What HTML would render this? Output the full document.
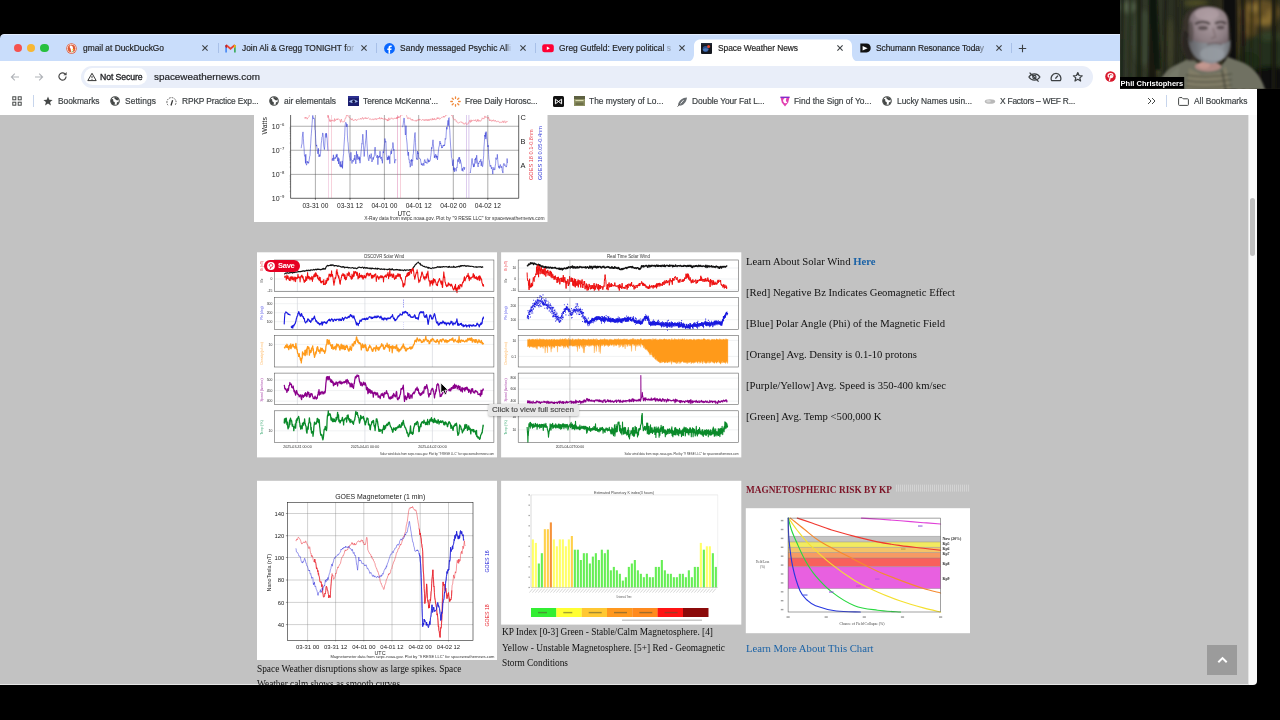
<!DOCTYPE html>
<html><head><meta charset="utf-8"><title>Space Weather News</title>
<style>
html,body{margin:0;padding:0;background:#000;}
body{width:1280px;height:720px;overflow:hidden;position:relative;font-family:"Liberation Sans",sans-serif;}
.a{position:absolute;display:block}
.t{position:absolute;white-space:nowrap;display:block;will-change:transform}
svg{overflow:visible;will-change:transform}
svg text{font-family:"Liberation Sans",sans-serif}
.s{font-family:"Liberation Serif",serif}
</style></head>
<body>
<div class="a" id="win" style="left:0;top:34px;width:1257px;height:651px;overflow:hidden;border-radius:4px 0 4px 0">
<div class="a" style="left:0;top:-34px;width:1257px;height:720px">
<div class="a" style="left:0;top:114.5px;width:1248px;height:571px;background:#c2c2c2"></div>
<div class="a" style="left:1248px;top:114.5px;width:9px;height:571px;background:#fafafa;border-left:0.5px solid #e4e4e4;box-sizing:border-box"></div>
<div class="a" style="left:1249.7px;top:197.5px;width:5.6px;height:58px;border-radius:2.8px;background:#c1c1c1"></div>
<div class="a" style="left:0;top:684.3px;width:1248px;height:0.7px;background:#e6e6e6"></div>
<svg class="a" style="left:0;top:0" width="1257" height="720" viewBox="0 0 1257 720">
<defs><clipPath id="pc"><rect x="0" y="114.5" width="1248" height="571"></rect></clipPath></defs><g clip-path="url(#pc)">
<rect x="254" y="100" width="293.5" height="122" fill="#fff"></rect>
<line x1="290.6" x2="518.7" y1="126.25" y2="126.25" stroke="#4a4a4a" stroke-width="0.45"></line>
<line x1="290.6" x2="518.7" y1="150.25" y2="150.25" stroke="#4a4a4a" stroke-width="0.45"></line>
<line x1="290.6" x2="518.7" y1="174.4" y2="174.4" stroke="#4a4a4a" stroke-width="0.45"></line>
<line x1="315.4" x2="315.4" y1="100" y2="199.5" stroke="#4a4a4a" stroke-width="0.45"></line>
<line x1="350" x2="350" y1="100" y2="199.5" stroke="#4a4a4a" stroke-width="0.45"></line>
<line x1="384.4" x2="384.4" y1="100" y2="199.5" stroke="#4a4a4a" stroke-width="0.45"></line>
<line x1="418.7" x2="418.7" y1="100" y2="199.5" stroke="#4a4a4a" stroke-width="0.45"></line>
<line x1="453.3" x2="453.3" y1="100" y2="199.5" stroke="#4a4a4a" stroke-width="0.45"></line>
<line x1="487.8" x2="487.8" y1="100" y2="199.5" stroke="#4a4a4a" stroke-width="0.45"></line>
<path d="M290.6 100V198.3H518.7V100" fill="none" stroke="#222" stroke-width="0.7"></path>
<line x1="289.6" x2="290.6" y1="143.1" y2="143.1" stroke="#333" stroke-width="0.3"></line>
<line x1="289.6" x2="290.6" y1="138.8" y2="138.8" stroke="#333" stroke-width="0.3"></line>
<line x1="289.6" x2="290.6" y1="135.8" y2="135.8" stroke="#333" stroke-width="0.3"></line>
<line x1="289.6" x2="290.6" y1="133.5" y2="133.5" stroke="#333" stroke-width="0.3"></line>
<line x1="289.6" x2="290.6" y1="131.6" y2="131.6" stroke="#333" stroke-width="0.3"></line>
<line x1="289.6" x2="290.6" y1="130.0" y2="130.0" stroke="#333" stroke-width="0.3"></line>
<line x1="289.6" x2="290.6" y1="128.6" y2="128.6" stroke="#333" stroke-width="0.3"></line>
<line x1="289.6" x2="290.6" y1="127.4" y2="127.4" stroke="#333" stroke-width="0.3"></line>
<line x1="289.6" x2="290.6" y1="167.1" y2="167.1" stroke="#333" stroke-width="0.3"></line>
<line x1="289.6" x2="290.6" y1="162.8" y2="162.8" stroke="#333" stroke-width="0.3"></line>
<line x1="289.6" x2="290.6" y1="159.8" y2="159.8" stroke="#333" stroke-width="0.3"></line>
<line x1="289.6" x2="290.6" y1="157.5" y2="157.5" stroke="#333" stroke-width="0.3"></line>
<line x1="289.6" x2="290.6" y1="155.6" y2="155.6" stroke="#333" stroke-width="0.3"></line>
<line x1="289.6" x2="290.6" y1="154.0" y2="154.0" stroke="#333" stroke-width="0.3"></line>
<line x1="289.6" x2="290.6" y1="152.6" y2="152.6" stroke="#333" stroke-width="0.3"></line>
<line x1="289.6" x2="290.6" y1="151.4" y2="151.4" stroke="#333" stroke-width="0.3"></line>
<line x1="289.6" x2="290.6" y1="191.2" y2="191.2" stroke="#333" stroke-width="0.3"></line>
<line x1="289.6" x2="290.6" y1="187.0" y2="187.0" stroke="#333" stroke-width="0.3"></line>
<line x1="289.6" x2="290.6" y1="184.0" y2="184.0" stroke="#333" stroke-width="0.3"></line>
<line x1="289.6" x2="290.6" y1="181.6" y2="181.6" stroke="#333" stroke-width="0.3"></line>
<line x1="289.6" x2="290.6" y1="179.7" y2="179.7" stroke="#333" stroke-width="0.3"></line>
<line x1="289.6" x2="290.6" y1="178.1" y2="178.1" stroke="#333" stroke-width="0.3"></line>
<line x1="289.6" x2="290.6" y1="176.7" y2="176.7" stroke="#333" stroke-width="0.3"></line>
<line x1="289.6" x2="290.6" y1="175.5" y2="175.5" stroke="#333" stroke-width="0.3"></line>
<line x1="328.2" x2="328.2" y1="112" y2="198" stroke="#d04890" stroke-width="0.4" opacity="0.85"></line>
<line x1="331.3" x2="331.3" y1="112" y2="198" stroke="#e05878" stroke-width="0.4" opacity="0.85"></line>
<line x1="397.5" x2="397.5" y1="112" y2="198" stroke="#d04890" stroke-width="0.4" opacity="0.85"></line>
<line x1="400.7" x2="400.7" y1="112" y2="198" stroke="#e05878" stroke-width="0.4" opacity="0.85"></line>
<line x1="466.4" x2="466.4" y1="112" y2="198" stroke="#9058c8" stroke-width="0.4" opacity="0.85"></line>
<line x1="468.9" x2="468.9" y1="112" y2="198" stroke="#9058c8" stroke-width="0.4" opacity="0.85"></line>
<polyline points="304.5,117.6 304.9,118.4 305.4,117.0 305.8,118.4 306.3,117.6 306.7,117.6 307.2,119.2 307.6,118.1 308.1,117.8 308.5,117.4 309.0,116.8 309.4,115.1 309.9,114.6 310.3,112.6 310.8,112.1 311.2,111.6 311.7,110.8 312.1,110.5 312.6,110.2 313.0,111.0 313.5,110.9 313.9,110.6 314.4,110.7 314.8,109.5 315.3,110.2 315.7,110.3 316.2,110.7 316.6,109.9 317.1,110.5 317.5,109.8 318.0,111.1 318.4,110.3 318.9,111.2 319.3,113.3 319.8,111.3 320.2,113.5 320.7,113.1 321.1,112.6 321.6,113.1 322.0,113.0 322.5,113.3 322.9,112.3 323.4,112.0 323.8,111.9 324.3,111.6 324.7,112.2 325.2,111.6 325.6,112.8 326.1,110.9 326.5,112.5 327.0,113.6 327.4,113.8 327.9,117.6 328.3,115.6 328.8,118.1 329.2,118.9 329.7,121.5 330.1,119.6 330.6,121.7 331.0,120.4 331.5,120.7 331.9,120.3 332.4,121.1 332.8,119.8 333.3,120.5 333.7,120.8 334.2,121.7 334.6,118.5 335.1,121.0 335.5,120.4 336.0,119.2 336.4,119.5 336.9,118.7 337.3,120.0 337.8,118.7 338.2,118.6 338.7,119.0 339.1,119.5 339.6,120.0 340.0,119.9 340.5,122.4 340.9,120.1 341.4,119.0 341.8,121.6 342.3,121.6 342.7,122.1 343.2,121.7 343.6,121.8 344.1,122.0 344.5,121.2 345.0,119.0 345.4,117.9 345.9,118.3 346.3,116.1 346.8,113.8 347.2,116.0 347.7,115.7 348.1,115.5 348.6,115.8 349.0,117.6 349.5,117.6 349.9,118.2 350.4,118.2 350.8,118.9 351.3,120.1 351.7,119.1 352.2,118.5 352.6,120.1 353.1,119.8 353.5,120.5 354.0,120.8 354.4,119.8 354.9,119.8 355.3,119.9 355.8,119.1 356.2,120.3 356.7,120.7 357.1,119.9 357.6,119.5 358.0,119.5 358.5,119.1 358.9,119.0 359.4,119.3 359.8,118.9 360.3,119.1 360.7,118.2 361.2,119.4 361.6,119.1 362.1,118.2 362.5,117.3 363.0,118.7 363.4,119.4 363.9,118.0 364.3,118.1 364.8,117.9 365.2,118.6 365.7,117.4 366.1,118.7 366.6,117.9 367.0,118.9 367.5,118.4 367.9,118.3 368.4,117.6 368.8,118.2 369.3,118.6 369.7,119.4 370.2,119.2 370.6,118.7 371.1,119.6 371.5,120.1 372.0,119.4 372.4,119.1 372.9,119.1 373.3,119.9 373.8,119.7 374.2,118.6 374.7,119.4 375.1,118.8 375.6,118.5 376.0,119.9 376.5,119.5 376.9,118.4 377.4,118.9 377.8,119.1 378.3,118.3 378.7,118.6 379.2,119.1 379.6,117.3 380.1,118.7 380.5,119.1 381.0,119.0 381.4,117.7 381.9,119.0 382.3,118.2 382.8,119.2 383.2,119.3 383.7,119.1 384.1,118.5 384.6,118.7 385.0,119.7 385.5,118.6 385.9,119.6 386.4,119.7 386.8,119.2 387.3,121.1 387.7,119.5 388.2,121.0 388.6,118.0 389.1,117.8 389.5,120.0 390.0,119.7 390.4,118.9 390.9,119.0 391.3,117.7 391.8,118.5 392.2,118.2 392.7,118.7 393.1,119.4 393.6,118.7 394.0,118.9 394.5,118.1 394.9,118.2 395.4,118.4 395.8,117.9 396.3,118.8 396.7,117.2 397.2,118.9 397.6,116.7 398.1,118.0 398.5,116.5 399.0,118.0 399.4,116.7 399.9,116.7 400.3,116.8 400.8,115.6 401.2,114.9 401.7,113.6 402.1,115.3 402.6,113.4 403.0,112.9 403.5,112.6 403.9,113.5 404.4,111.4 404.8,113.4 405.3,113.7 405.7,115.0 406.2,114.0 406.6,115.7 407.1,117.2 407.5,118.4 408.0,119.1 408.4,117.6 408.9,118.4 409.3,118.5 409.8,117.8 410.2,117.9 410.7,119.7 411.1,119.5 411.6,119.4 412.0,120.5 412.5,119.2 412.9,120.4 413.4,120.3 413.8,120.4 414.3,120.8 414.7,120.5 415.2,120.5 415.6,120.4 416.1,121.5 416.5,119.9 417.0,120.7 417.4,120.4 417.9,119.6 418.3,120.3 418.8,119.1 419.2,120.4 419.7,119.0 420.1,119.2 420.6,119.8 421.0,120.2 421.5,120.3 421.9,120.4 422.4,119.7 422.8,119.2 423.3,120.3 423.7,120.2 424.2,119.4 424.6,120.8 425.1,120.3 425.5,119.5 426.0,120.6 426.4,119.4 426.9,119.7 427.3,120.7 427.8,119.4 428.2,120.5 428.7,119.4 429.1,120.7 429.6,119.6 430.0,120.1 430.5,118.8 430.9,119.5 431.4,120.3 431.8,119.9 432.3,118.1 432.7,120.0 433.2,119.8 433.6,118.8 434.1,120.0 434.5,118.2 435.0,118.9 435.4,119.7 435.9,119.8 436.3,119.7 436.8,118.0 437.2,117.5 437.7,119.0 438.1,117.7 438.6,118.5 439.0,117.7 439.5,119.3 439.9,119.1 440.4,118.7 440.8,118.0 441.3,117.8 441.7,117.3 442.2,117.5 442.6,117.1 443.1,117.0 443.5,116.1 444.0,117.5 444.4,116.1 444.9,116.6 445.3,116.3 445.8,114.5 446.2,113.6 446.7,115.4 447.1,113.9 447.6,113.9 448.0,113.3 448.5,113.2 448.9,112.0 449.4,112.4 449.8,111.8 450.3,112.6 450.7,111.9 451.2,115.0 451.6,115.5 452.1,115.0 452.5,116.6 453.0,118.0 453.4,118.8 453.9,118.8 454.3,120.2 454.8,119.6 455.2,119.3 455.7,120.0 456.1,121.4 456.6,120.8 457.0,122.2 457.5,122.8 457.9,122.9 458.4,123.3 458.8,122.5 459.3,122.6 459.7,122.3 460.2,122.3 460.6,121.7 461.1,122.4 461.5,122.1 462.0,121.9 462.4,123.0 462.9,123.3 463.3,122.8 463.8,124.2 464.2,124.0 464.7,124.2 465.1,123.1 465.6,122.6 466.0,124.2 466.5,124.1 466.9,124.5 467.4,124.0 467.8,124.2 468.3,122.8 468.7,123.2 469.2,121.7 469.6,120.4 470.1,121.4 470.5,122.4 471.0,119.8 471.4,121.6 471.9,120.3 472.3,120.5 472.8,120.7 473.2,120.7 473.7,119.8 474.1,120.5 474.6,120.6 475.0,120.8 475.5,119.6 475.9,121.1 476.4,121.5 476.8,122.0 477.3,119.5 477.7,120.8 478.2,119.5 478.6,121.3 479.1,121.6 479.5,120.5 480.0,120.4 480.4,121.2 480.9,121.2 481.3,119.8 481.8,119.7 482.2,117.8 482.7,118.6 483.1,118.8 483.6,118.5 484.0,119.1 484.5,117.0 484.9,115.9 485.4,117.6 485.8,116.7 486.3,117.1 486.7,117.1 487.2,117.2 487.6,118.3 488.1,118.7 488.5,117.1 489.0,118.8 489.4,120.8 489.9,119.6 490.3,120.7 490.8,120.1 491.2,119.9 491.7,121.4 492.1,121.1 492.6,120.3 493.0,121.1 493.5,119.7 493.9,120.2 494.4,121.4 494.8,120.8 495.3,120.1 495.7,121.3 496.2,121.3 496.6,122.0 497.1,121.9 497.5,121.1 498.0,121.0 498.4,121.3 498.9,121.3 499.3,122.6 499.8,122.7 500.2,122.7 500.7,122.0 501.1,121.7 501.6,122.6 502.0,121.8 502.5,122.1 502.9,120.8 503.4,121.6 503.8,122.9 504.3,121.1 504.7,120.7 505.2,121.6 505.6,122.9 506.1,122.7 506.5,121.4 507.0,121.2 507.4,121.5 507.9,120.9" fill="none" stroke="#f06070" stroke-width="0.5" stroke-opacity="0.9" stroke-linejoin="round"></polyline>
<polyline points="301.2,148.2 301.6,145.0 302.0,144.0 302.3,137.2 302.7,133.8 303.0,131.9 303.4,138.7 303.7,144.1 304.1,148.3 304.4,155.2 304.8,156.3 305.1,155.5 305.5,163.3 305.8,154.2 306.2,163.6 306.5,165.2 306.9,163.9 307.2,161.0 307.6,162.8 307.9,162.7 308.3,161.9 308.6,163.4 309.0,161.0 309.3,159.2 309.7,156.3 310.0,155.5 310.4,148.4 310.7,143.9 311.1,136.5 311.4,133.3 311.8,127.5 312.1,123.6 312.5,117.9 312.8,115.4 313.2,118.8 313.5,118.6 313.9,117.8 314.2,118.1 314.6,119.8 314.9,129.4 315.3,130.6 315.6,137.5 316.0,144.2 316.3,146.2 316.7,144.9 317.0,148.5 317.4,150.9 317.7,153.6 318.1,153.9 318.4,148.3 318.8,156.0 319.1,157.0 319.5,154.6 319.8,156.2 320.2,156.3 320.5,153.2 320.9,148.9 321.2,143.9 321.6,140.7 321.9,137.3 322.3,136.6 322.6,133.1 323.0,133.1 323.3,139.1 323.7,145.8 324.0,147.4 324.4,149.6 324.7,146.7 325.1,138.7 325.4,134.0 325.8,133.3 326.1,137.5 326.5,133.3 326.8,136.1 327.2,139.4 327.5,145.2 327.9,150.7" fill="none" stroke="#2028d0" stroke-width="0.48" stroke-opacity="1" stroke-linejoin="round"></polyline>
<polyline points="332.0,158.9 332.4,160.7 332.7,158.2 333.1,159.3 333.4,154.8 333.8,160.9 334.1,158.2 334.5,158.6 334.8,157.8 335.2,156.8 335.5,158.7 335.9,158.3 336.2,154.7 336.6,157.1 336.9,153.9 337.3,154.8 337.6,161.2 338.0,157.8 338.3,157.5 338.7,164.0 339.0,158.5 339.4,163.7 339.7,165.1 340.1,166.5 340.4,161.5 340.8,167.2 341.1,164.5 341.5,166.0 341.8,167.2 342.2,160.9 342.5,168.4 342.9,161.3 343.2,157.0 343.6,153.5 343.9,147.3 344.3,141.0 344.6,136.8 345.0,127.7 345.3,124.0 345.7,122.3 346.0,122.9 346.4,123.2 346.7,126.8 347.1,124.1 347.4,135.1 347.8,141.5 348.1,142.9 348.5,149.1 348.8,152.7 349.2,153.9 349.5,157.1 349.9,157.8 350.2,160.7 350.6,160.1 350.9,152.3 351.3,158.6 351.6,160.0 352.0,163.5 352.3,161.1 352.7,160.2 353.0,161.5 353.4,161.4 353.7,159.4 354.1,158.3 354.4,160.2 354.8,155.0 355.1,157.4 355.5,160.1 355.8,163.9 356.2,158.3 356.5,151.3 356.9,158.4 357.2,159.7 357.6,154.3 357.9,157.3 358.3,158.2 358.6,159.2 359.0,156.4 359.3,160.4 359.7,157.4 360.0,163.2 360.4,157.4 360.7,156.8 361.1,151.3 361.4,148.6 361.8,143.6 362.1,144.1 362.5,138.3 362.8,134.2 363.2,138.9 363.5,145.4 363.9,151.5 364.2,156.5 364.6,151.6 364.9,148.3 365.3,144.7 365.6,140.8 366.0,137.5 366.3,130.1 366.7,138.1 367.0,143.8 367.4,150.4 367.7,155.7 368.1,157.5 368.4,159.4 368.8,160.8 369.1,159.0 369.5,154.8 369.8,156.1 370.2,158.5 370.5,157.5 370.9,156.9 371.2,153.6 371.6,159.4 371.9,162.0 372.3,161.1 372.6,159.6 373.0,157.4 373.3,159.6 373.7,157.1 374.0,157.3 374.4,154.9 374.7,150.4 375.1,147.1 375.4,151.1 375.8,155.0 376.1,156.0 376.5,156.3 376.8,157.8 377.2,157.0 377.5,155.1 377.9,164.7 378.2,157.9 378.6,156.4 378.9,157.9 379.3,155.8 379.6,156.8 380.0,151.2 380.3,154.5 380.7,158.7 381.0,157.9 381.4,156.9 381.7,160.3 382.1,159.7 382.4,163.3 382.8,156.7 383.1,151.4 383.5,153.1 383.8,150.1 384.2,147.4 384.5,143.4 384.9,138.5 385.2,139.9 385.6,142.3 385.9,141.4 386.3,154.4 386.6,155.3 387.0,159.6 387.3,160.1 387.7,157.1 388.0,159.9 388.4,155.7 388.7,159.4 389.1,158.5 389.4,156.4 389.8,163.7 390.1,155.5 390.5,154.8 390.8,151.3 391.2,150.8 391.5,153.9 391.9,149.2 392.2,148.5 392.6,147.2 392.9,142.5 393.3,145.4 393.6,150.4 394.0,149.3 394.3,158.1 394.7,163.2 395.0,161.2 395.4,160.4 395.7,159.3 396.1,160.2" fill="none" stroke="#2028d0" stroke-width="0.48" stroke-opacity="1" stroke-linejoin="round"></polyline>
<polyline points="402.5,127.2 402.9,125.6 403.2,124.4 403.6,120.3 403.9,118.0 404.3,118.3 404.6,123.4 405.0,127.5 405.3,135.0 405.7,134.1 406.0,125.7 406.4,137.5 406.7,140.0 407.1,144.0 407.4,149.6 407.8,154.2 408.1,155.7 408.5,152.0 408.8,159.4 409.2,159.2 409.5,163.0 409.9,163.2 410.2,167.2 410.6,165.4 410.9,160.1 411.3,161.4 411.6,159.2 412.0,165.8 412.3,160.4 412.7,161.1 413.0,155.1 413.4,153.4 413.7,148.3 414.1,143.2 414.4,138.4 414.8,133.7 415.1,132.5 415.5,142.4 415.8,150.0 416.2,156.1 416.5,159.1 416.9,158.3 417.2,160.0 417.6,151.0 417.9,154.0 418.3,152.6 418.6,157.4 419.0,158.6 419.3,158.4 419.7,158.4 420.0,158.6 420.4,158.9 420.7,161.2 421.1,163.1 421.4,165.1 421.8,163.4 422.1,163.9 422.5,165.5 422.8,164.3 423.2,163.1 423.5,163.5 423.9,165.7 424.2,161.7 424.6,159.7 424.9,159.5 425.3,162.9 425.6,161.8 426.0,161.9 426.3,162.4 426.7,162.5 427.0,163.6 427.4,158.8 427.7,158.5 428.1,158.9 428.4,162.3 428.8,160.0 429.1,161.4 429.5,161.9 429.8,160.3 430.2,160.4 430.5,157.6 430.9,155.3 431.2,152.7 431.6,147.4 431.9,148.7 432.3,146.5 432.6,143.2 433.0,139.8 433.3,143.9 433.7,147.9 434.0,152.5 434.4,158.0 434.7,155.7 435.1,156.8 435.4,154.5 435.8,154.1 436.1,158.4 436.5,155.6 436.8,157.2 437.2,156.1 437.5,159.9 437.9,156.3 438.2,153.4 438.6,149.1 438.9,147.0 439.3,146.0 439.6,143.2 440.0,141.0 440.3,143.9 440.7,142.9 441.0,145.5 441.4,145.1 441.7,148.1 442.1,146.7 442.4,147.7 442.8,147.0 443.1,145.1 443.5,146.1 443.8,145.0 444.2,144.7 444.5,145.9 444.9,143.5 445.2,138.4 445.6,139.4 445.9,138.5 446.3,131.9 446.6,127.2 447.0,129.3 447.3,126.3 447.7,122.7 448.0,120.3 448.4,125.7 448.7,118.2 449.1,117.6 449.4,125.8 449.8,130.5 450.1,137.2 450.5,144.0 450.8,148.7 451.2,151.3 451.5,157.5 451.9,158.2 452.2,160.7 452.6,165.8 452.9,161.2 453.3,159.6 453.6,170.3 454.0,167.4 454.3,171.9 454.7,168.5 455.0,169.2 455.4,168.5 455.7,168.8 456.1,171.3 456.4,169.6 456.8,167.0 457.1,167.5 457.5,163.3 457.8,159.4 458.2,161.9 458.5,159.6 458.9,157.3 459.2,159.6 459.6,157.3 459.9,163.6 460.3,159.6 460.6,161.1 461.0,162.8 461.3,163.9 461.7,167.6 462.0,170.7 462.4,168.4 462.7,170.8 463.1,171.4 463.4,167.4 463.8,167.2 464.1,167.2 464.5,169.6 464.8,167.1" fill="none" stroke="#2028d0" stroke-width="0.48" stroke-opacity="1" stroke-linejoin="round"></polyline>
<polyline points="470.0,172.3 470.4,172.9 470.7,169.6 471.1,167.5 471.4,163.9 471.8,160.0 472.1,158.4 472.5,162.2 472.8,164.5 473.2,165.0 473.5,167.1 473.9,163.6 474.2,166.8 474.6,163.4 474.9,159.0 475.3,159.7 475.6,157.8 476.0,163.5 476.3,159.7 476.7,155.2 477.0,159.1 477.4,160.9 477.7,164.3 478.1,167.0 478.4,163.2 478.8,164.0 479.1,161.9 479.5,161.9 479.8,160.9 480.2,161.8 480.5,160.2 480.9,159.2 481.2,165.9 481.6,162.5 481.9,161.4 482.3,166.6 482.6,166.8 483.0,164.2 483.3,159.8 483.7,155.3 484.0,147.0 484.4,141.9 484.7,135.0 485.1,136.7 485.4,132.6 485.8,139.1 486.1,131.6 486.5,133.2 486.8,136.8 487.2,140.1 487.5,142.7 487.9,147.0 488.2,145.2 488.6,154.4 488.9,159.1 489.3,160.4 489.6,162.9 490.0,166.5 490.3,166.6 490.7,165.1 491.0,165.7 491.4,168.8 491.7,167.5 492.1,167.1 492.4,170.5 492.8,174.1 493.1,169.2 493.5,169.7 493.8,167.4 494.2,168.6 494.5,169.8 494.9,169.9 495.2,166.2 495.6,163.8 495.9,157.7 496.3,159.3 496.6,159.4 497.0,158.9 497.3,154.3 497.7,159.3 498.0,162.8 498.4,166.1 498.7,167.6 499.1,166.0 499.4,168.5 499.8,166.8 500.1,164.6 500.5,164.7 500.8,166.9 501.2,167.9 501.5,166.2 501.9,166.6 502.2,170.9 502.6,171.1 502.9,173.1 503.3,164.9 503.6,163.9 504.0,163.3 504.3,165.4 504.7,165.4 505.0,164.6 505.4,165.9 505.7,166.6 506.1,166.4 506.4,167.1 506.8,164.9 507.1,158.5 507.5,163.1" fill="none" stroke="#2028d0" stroke-width="0.48" stroke-opacity="1" stroke-linejoin="round"></polyline>
<text x="271.8" y="128.5" font-size="7.0" fill="#222" text-anchor="start" font-weight="400" fill-opacity="1">10<tspan dy="-2.6" font-size="4.2">−6</tspan></text>
<text x="271.8" y="152.5" font-size="7.0" fill="#222" text-anchor="start" font-weight="400" fill-opacity="1">10<tspan dy="-2.6" font-size="4.2">−7</tspan></text>
<text x="271.8" y="176.7" font-size="7.0" fill="#222" text-anchor="start" font-weight="400" fill-opacity="1">10<tspan dy="-2.6" font-size="4.2">−8</tspan></text>
<text x="271.8" y="200.6" font-size="7.0" fill="#222" text-anchor="start" font-weight="400" fill-opacity="1">10<tspan dy="-2.6" font-size="4.2">−9</tspan></text>
<text x="266.5" y="134.5" font-size="6.9" fill="#222" text-anchor="start" font-weight="400" fill-opacity="1" transform="rotate(-90 266.5 134.5)">Watts</text>
<text x="315.4" y="208.3" font-size="6.6" fill="#222" text-anchor="middle" font-weight="400" fill-opacity="1">03-31 00</text>
<line x1="315.4" x2="315.4" y1="198.3" y2="199.8" stroke="#222" stroke-width="0.5"></line>
<text x="350" y="208.3" font-size="6.6" fill="#222" text-anchor="middle" font-weight="400" fill-opacity="1">03-31 12</text>
<line x1="350" x2="350" y1="198.3" y2="199.8" stroke="#222" stroke-width="0.5"></line>
<text x="384.4" y="208.3" font-size="6.6" fill="#222" text-anchor="middle" font-weight="400" fill-opacity="1">04-01 00</text>
<line x1="384.4" x2="384.4" y1="198.3" y2="199.8" stroke="#222" stroke-width="0.5"></line>
<text x="418.7" y="208.3" font-size="6.6" fill="#222" text-anchor="middle" font-weight="400" fill-opacity="1">04-01 12</text>
<line x1="418.7" x2="418.7" y1="198.3" y2="199.8" stroke="#222" stroke-width="0.5"></line>
<text x="453.3" y="208.3" font-size="6.6" fill="#222" text-anchor="middle" font-weight="400" fill-opacity="1">04-02 00</text>
<line x1="453.3" x2="453.3" y1="198.3" y2="199.8" stroke="#222" stroke-width="0.5"></line>
<text x="487.8" y="208.3" font-size="6.6" fill="#222" text-anchor="middle" font-weight="400" fill-opacity="1">04-02 12</text>
<line x1="487.8" x2="487.8" y1="198.3" y2="199.8" stroke="#222" stroke-width="0.5"></line>
<text x="404" y="216" font-size="6.4" fill="#222" text-anchor="middle" font-weight="400" fill-opacity="1">UTC</text>
<text x="544.5" y="219.5" font-size="4.9" fill="#333" text-anchor="end" font-weight="400" fill-opacity="1">X-Ray data from swpc.noaa.gov. Plot by "9 RESE LLC" for spaceweathernews.com</text>
<text x="520.5" y="119.5" font-size="7.4" fill="#222" text-anchor="start" font-weight="400" fill-opacity="1">C</text>
<text x="520.5" y="143.8" font-size="7.4" fill="#222" text-anchor="start" font-weight="400" fill-opacity="1">B</text>
<text x="520.5" y="167.8" font-size="7.4" fill="#222" text-anchor="start" font-weight="400" fill-opacity="1">A</text>
<text x="533" y="180" font-size="5.6" fill="#e8404c" text-anchor="start" font-weight="400" fill-opacity="1" transform="rotate(-90 533 180)">GOES 18 0.1-0.8nm</text>
<text x="542" y="180" font-size="5.6" fill="#3038d8" text-anchor="start" font-weight="400" fill-opacity="1" transform="rotate(-90 542 180)">GOES 18 0.05-0.4nm</text>
<rect x="257" y="252.3" width="240" height="205.1" fill="#fff"></rect>
<text x="384.15" y="258.3" font-size="4.9" fill="#333" text-anchor="middle" font-weight="400" fill-opacity="1" textLength="40" lengthAdjust="spacingAndGlyphs">DSCOVR Solar Wind</text>
<line x1="297.4" x2="297.4" y1="260" y2="291.6" stroke="#b8bcc8" stroke-width="0.4"></line>
<line x1="364.9" x2="364.9" y1="260" y2="291.6" stroke="#b8bcc8" stroke-width="0.4"></line>
<line x1="432.4" x2="432.4" y1="260" y2="291.6" stroke="#b8bcc8" stroke-width="0.4"></line>
<line x1="274.4" x2="493.9" y1="279" y2="279" stroke="#d4d6dc" stroke-width="0.35"></line>
<line x1="274.4" x2="493.9" y1="291" y2="291" stroke="#d4d6dc" stroke-width="0.35"></line>
<line x1="297.4" x2="297.4" y1="297.7" y2="329.3" stroke="#b8bcc8" stroke-width="0.4"></line>
<line x1="364.9" x2="364.9" y1="297.7" y2="329.3" stroke="#b8bcc8" stroke-width="0.4"></line>
<line x1="432.4" x2="432.4" y1="297.7" y2="329.3" stroke="#b8bcc8" stroke-width="0.4"></line>
<line x1="274.4" x2="493.9" y1="303.7" y2="303.7" stroke="#d4d6dc" stroke-width="0.35"></line>
<line x1="274.4" x2="493.9" y1="312.7" y2="312.7" stroke="#d4d6dc" stroke-width="0.35"></line>
<line x1="274.4" x2="493.9" y1="321.7" y2="321.7" stroke="#d4d6dc" stroke-width="0.35"></line>
<line x1="297.4" x2="297.4" y1="335.4" y2="367.0" stroke="#b8bcc8" stroke-width="0.4"></line>
<line x1="364.9" x2="364.9" y1="335.4" y2="367.0" stroke="#b8bcc8" stroke-width="0.4"></line>
<line x1="432.4" x2="432.4" y1="335.4" y2="367.0" stroke="#b8bcc8" stroke-width="0.4"></line>
<line x1="274.4" x2="493.9" y1="344.4" y2="344.4" stroke="#d4d6dc" stroke-width="0.35"></line>
<line x1="297.4" x2="297.4" y1="373.1" y2="404.70000000000005" stroke="#b8bcc8" stroke-width="0.4"></line>
<line x1="364.9" x2="364.9" y1="373.1" y2="404.70000000000005" stroke="#b8bcc8" stroke-width="0.4"></line>
<line x1="432.4" x2="432.4" y1="373.1" y2="404.70000000000005" stroke="#b8bcc8" stroke-width="0.4"></line>
<line x1="274.4" x2="493.9" y1="380.1" y2="380.1" stroke="#d4d6dc" stroke-width="0.35"></line>
<line x1="274.4" x2="493.9" y1="390.6" y2="390.6" stroke="#d4d6dc" stroke-width="0.35"></line>
<line x1="274.4" x2="493.9" y1="401.1" y2="401.1" stroke="#d4d6dc" stroke-width="0.35"></line>
<line x1="297.4" x2="297.4" y1="410.8" y2="442.40000000000003" stroke="#b8bcc8" stroke-width="0.4"></line>
<line x1="364.9" x2="364.9" y1="410.8" y2="442.40000000000003" stroke="#b8bcc8" stroke-width="0.4"></line>
<line x1="432.4" x2="432.4" y1="410.8" y2="442.40000000000003" stroke="#b8bcc8" stroke-width="0.4"></line>
<line x1="274.4" x2="493.9" y1="430.8" y2="430.8" stroke="#d4d6dc" stroke-width="0.35"></line>
<polyline points="284.2,273.9 284.7,273.9 285.2,273.4 285.7,273.1 286.2,273.0 286.7,273.2 287.2,272.8 287.7,272.7 288.2,273.1 288.7,273.0 289.2,273.1 289.7,272.5 290.2,272.8 290.7,272.7 291.2,272.2 291.7,272.7 292.2,272.6 292.7,273.1 293.2,272.4 293.7,272.2 294.2,272.6 294.7,272.2 295.2,272.4 295.7,271.9 296.2,272.0 296.7,272.2 297.2,272.0 297.7,271.8 298.2,271.4 298.7,271.8 299.2,271.6 299.7,271.7 300.2,271.5 300.7,271.7 301.2,271.3 301.7,271.3 302.2,271.4 302.7,270.8 303.2,270.9 303.7,270.8 304.2,271.5 304.7,270.8 305.2,271.0 305.7,270.9 306.2,270.6 306.7,270.2 307.2,270.8 307.7,270.4 308.2,270.6 308.7,270.0 309.2,270.2 309.7,270.6 310.2,270.6 310.7,269.7 311.2,269.7 311.7,270.0 312.2,270.2 312.7,269.9 313.2,269.9 313.7,269.4 314.2,269.9 314.7,270.0 315.2,269.5 315.7,269.2 316.2,269.3 316.7,269.8 317.2,269.0 317.7,269.4 318.2,269.1 318.7,269.4 319.2,269.3 319.7,269.4 320.2,269.8 320.7,269.4 321.2,269.7 321.7,269.2 322.2,269.1 322.7,269.3 323.2,268.3 323.7,269.1 324.2,269.2 324.7,268.7 325.2,269.2 325.7,268.1 326.2,266.7 326.7,266.5 327.2,265.4 327.7,265.5 328.2,265.6 328.7,265.9 329.2,265.5 329.7,265.4 330.2,265.5 330.7,264.8 331.2,265.6 331.7,264.9 332.2,265.3 332.7,264.9 333.2,265.1 333.7,265.3 334.2,266.1 334.7,265.8 335.2,265.5 335.7,265.7 336.2,265.5 336.7,265.9 337.2,265.8 337.7,266.3 338.2,265.8 338.7,266.2 339.2,266.1 339.7,266.2 340.2,266.7 340.7,266.6 341.2,266.9 341.7,267.1 342.2,267.2 342.7,266.5 343.2,267.2 343.7,266.6 344.2,267.1 344.7,267.8 345.2,267.2 345.7,267.2 346.2,267.4 346.7,267.4 347.2,267.4 347.7,267.2 348.2,267.8 348.7,267.8 349.2,267.5 349.7,267.7 350.2,267.9 350.7,268.0 351.2,267.9 351.7,268.0 352.2,267.8 352.7,267.6 353.2,267.8 353.7,268.3 354.2,268.3 354.7,268.1 355.2,267.9 355.7,268.2 356.2,268.7 356.7,268.6 357.2,268.1 357.7,268.1 358.2,267.4 358.7,267.2 359.2,267.3 359.7,267.1 360.2,267.5 360.7,267.6 361.2,267.5 361.7,267.7 362.2,267.2 362.7,267.1 363.2,267.6 363.7,268.3 364.2,267.7 364.7,267.3 365.2,267.8 365.7,268.2 366.2,267.5 366.7,268.1 367.2,267.7 367.7,268.3 368.2,268.2 368.7,268.1 369.2,268.7 369.7,268.0 370.2,268.0 370.7,268.8 371.2,268.0 371.7,269.0 372.2,268.4 372.7,268.1 373.2,268.5 373.7,268.6 374.2,268.7 374.7,268.6 375.2,269.0 375.7,268.0 376.2,268.6 376.7,268.7 377.2,269.3 377.7,268.2 378.2,268.7 378.7,268.5 379.2,268.7 379.7,269.1 380.2,269.1 380.7,269.4 381.2,268.8 381.7,269.1 382.2,269.4 382.7,269.3 383.2,269.0 383.7,269.4 384.2,268.9 384.7,269.7 385.2,269.2 385.7,269.2 386.2,269.3 386.7,269.5 387.2,269.8 387.7,269.3 388.2,269.2 388.7,269.5 389.2,269.1 389.7,268.9 390.2,269.7 390.7,269.3 391.2,269.8 391.7,269.2 392.2,268.7 392.7,269.6 393.2,269.6 393.7,270.1 394.2,269.8 394.7,269.7 395.2,269.9 395.7,269.6 396.2,269.8 396.7,269.4 397.2,269.9 397.7,269.6 398.2,269.7 398.7,270.1 399.2,270.2 399.7,269.6 400.2,270.5 400.7,269.8 401.2,270.2 401.7,270.3 402.2,270.1 402.7,270.1 403.2,270.6 403.7,270.4 404.2,270.3 404.7,269.6 405.2,270.0 405.7,270.6 406.2,270.3 406.7,269.9 407.2,269.9 407.7,270.0 408.2,270.2 408.7,270.1 409.2,270.2 409.7,269.6 410.2,270.1 410.7,269.6 411.2,269.7 411.7,270.2 412.2,269.6 412.7,268.7 413.2,267.8 413.7,266.9 414.2,266.7 414.7,265.8 415.2,264.9 415.7,264.3 416.2,264.1 416.7,263.3 417.2,263.0 417.7,262.6 418.2,262.0 418.7,262.7 419.2,263.3 419.7,263.8 420.2,263.4 420.7,265.1 421.2,265.1 421.7,265.0 422.2,265.4 422.7,266.0 423.2,266.2 423.7,266.4 424.2,266.4 424.7,266.6 425.2,267.1 425.7,267.0 426.2,266.9 426.7,267.1 427.2,267.3 427.7,267.6 428.2,268.3 428.7,267.3 429.2,267.9 429.7,267.9 430.2,268.1 430.7,268.5 431.2,268.6 431.7,268.2 432.2,268.0 432.7,267.7 433.2,268.0 433.7,268.2 434.2,267.7 434.7,267.9 435.2,267.8 435.7,267.6 436.2,267.7 436.7,267.2 437.2,266.9 437.7,266.7 438.2,267.4 438.7,266.9 439.2,266.9 439.7,267.3 440.2,266.7 440.7,267.5 441.2,267.1 441.7,266.7 442.2,266.7 442.7,267.2 443.2,266.5 443.7,266.6 444.2,266.8 444.7,266.8 445.2,266.7 445.7,266.8 446.2,266.6 446.7,266.7 447.2,267.2 447.7,267.0 448.2,266.7 448.7,267.4 449.2,266.3 449.7,266.9 450.2,267.1 450.7,267.2 451.2,267.0 451.7,266.9 452.2,267.2 452.7,267.0 453.2,267.2 453.7,266.2 454.2,267.2 454.7,266.9 455.2,267.4 455.7,267.2 456.2,267.1 456.7,266.7 457.2,266.9 457.7,266.6 458.2,266.6 458.7,266.4 459.2,266.1 459.7,266.9 460.2,266.4 460.7,265.5 461.2,266.3 461.7,265.5 462.2,265.8 462.7,265.6 463.2,265.6 463.7,265.9 464.2,265.7 464.7,265.4 465.2,265.9 465.7,266.1 466.2,266.5 466.7,265.9 467.2,265.7 467.7,266.0 468.2,266.3 468.7,265.9 469.2,266.0 469.7,266.4 470.2,266.3 470.7,266.4 471.2,266.2 471.7,266.2 472.2,266.4 472.7,266.5 473.2,266.6 473.7,266.9 474.2,267.0 474.7,267.0 475.2,267.1 475.7,266.7 476.2,266.7 476.7,267.3 477.2,267.1 477.7,267.1 478.2,266.8 478.7,267.0 479.2,266.9 479.7,266.9 480.2,266.9 480.7,266.7 481.2,267.1 481.7,267.5 482.2,266.9 482.7,267.1 483.2,266.8" fill="none" stroke="#111" stroke-width="1.15" stroke-opacity="1" stroke-linejoin="round"></polyline>
<polyline points="284.2,276.6 284.5,277.0 284.8,277.2 285.1,275.9 285.4,276.4 285.7,277.1 286.0,277.1 286.3,280.0 286.6,278.0 286.9,274.9 287.2,277.4 287.5,278.4 287.8,276.6 288.1,276.1 288.4,278.7 288.7,279.1 289.0,279.1 289.3,280.4 289.6,280.2 289.9,277.2 290.2,280.8 290.5,278.2 290.8,277.6 291.1,276.4 291.4,278.8 291.7,277.5 292.0,279.9 292.3,276.7 292.6,279.5 292.9,277.5 293.2,277.1 293.5,279.7 293.8,278.4 294.1,281.1 294.4,278.8 294.7,277.1 295.0,277.1 295.3,277.3 295.6,281.8 295.9,277.7 296.2,278.5 296.5,278.6 296.8,277.5 297.1,278.6 297.4,278.3 297.7,276.8 298.0,274.3 298.3,277.5 298.6,276.8 298.9,277.9 299.2,277.6 299.5,277.0 299.8,277.4 300.1,281.9 300.4,277.1 300.7,276.7 301.0,276.4 301.3,275.6 301.6,276.8 301.9,275.0 302.2,278.0 302.5,276.3 302.8,276.5 303.1,276.9 303.4,279.2 303.7,280.1 304.0,281.4 304.3,282.5 304.6,280.2 304.9,280.1 305.2,280.4 305.5,281.4 305.8,276.6 306.1,278.6 306.4,279.2 306.7,280.4 307.0,277.4 307.3,276.2 307.6,272.6 307.9,277.6 308.2,278.7 308.5,276.2 308.8,277.3 309.1,277.9 309.4,276.7 309.7,278.9 310.0,280.0 310.3,278.0 310.6,277.7 310.9,277.9 311.2,278.6 311.5,279.2 311.8,276.2 312.1,277.9 312.4,281.5 312.7,277.8 313.0,279.2 313.3,276.6 313.6,276.0 313.9,274.8 314.2,275.6 314.5,277.0 314.8,274.1 315.1,273.5 315.4,272.9 315.7,276.8 316.0,272.9 316.3,273.7 316.6,275.8 316.9,275.0 317.2,275.0 317.5,278.2 317.8,275.4 318.1,278.3 318.4,279.4 318.7,278.4 319.0,279.1 319.3,280.8 319.6,277.1 319.9,278.2 320.2,277.5 320.5,281.4 320.8,282.7 321.1,281.2 321.4,281.2 321.7,283.0 322.0,281.2 322.3,281.3 322.6,281.5 322.9,281.1 323.2,281.5 323.5,284.6 323.8,279.5 324.1,283.9 324.4,284.4 324.7,284.1 325.0,283.8 325.3,284.6 325.6,282.8 325.9,280.2 326.2,283.5 326.5,282.3 326.8,281.9 327.1,278.6 327.4,278.0 327.7,280.0 328.0,280.4 328.3,278.8 328.6,279.6 328.9,275.0 329.2,274.0 329.5,276.0 329.8,275.3 330.1,274.4 330.4,275.6 330.7,276.9 331.0,274.0 331.3,274.0 331.6,270.8 331.9,276.3 332.2,275.6 332.5,274.5 332.8,276.6 333.1,278.1 333.4,281.5 333.7,283.4 334.0,285.3 334.3,281.6 334.6,282.2 334.9,278.3 335.2,277.5 335.5,278.6 335.8,277.6 336.1,274.9 336.4,270.9 336.7,272.0 337.0,269.4 337.3,274.1 337.6,272.6 337.9,276.0 338.2,275.2 338.5,278.0 338.8,275.9 339.1,278.2 339.4,279.8 339.7,282.4 340.0,283.8 340.3,284.1 340.6,280.0 340.9,280.1 341.2,277.6 341.5,277.6 341.8,274.9 342.1,275.8 342.4,275.6 342.7,274.6 343.0,273.4 343.3,275.2 343.6,276.0 343.9,274.3 344.2,274.5 344.5,278.6 344.8,276.9 345.1,275.0 345.4,279.9 345.7,277.5 346.0,277.7 346.3,279.5 346.6,277.2 346.9,277.1 347.2,273.4 347.5,274.9 347.8,274.7 348.1,274.1 348.4,275.6 348.7,272.1 349.0,272.2 349.3,273.3 349.6,273.9 349.9,276.7 350.2,276.7 350.5,276.3 350.8,276.9 351.1,278.8 351.4,278.5 351.7,279.3 352.0,274.1 352.3,278.6 352.6,275.3 352.9,276.9 353.2,276.8 353.5,274.8 353.8,271.4 354.1,276.3 354.4,273.9 354.7,272.9 355.0,271.7 355.3,271.5 355.6,273.0 355.9,271.8 356.2,273.4 356.5,273.6 356.8,275.4 357.1,272.2 357.4,273.0 357.7,274.1 358.0,278.9 358.3,276.5 358.6,278.1 358.9,276.9 359.2,275.2 359.5,273.2 359.8,277.7 360.1,275.3 360.4,276.3 360.7,275.8 361.0,276.6 361.3,275.0 361.6,275.5 361.9,277.7 362.2,276.9 362.5,275.5 362.8,278.6 363.1,279.2 363.4,277.2 363.7,277.9 364.0,275.3 364.3,277.6 364.6,275.7 364.9,276.2 365.2,276.3 365.5,277.9 365.8,277.8 366.1,276.3 366.4,273.8 366.7,273.6 367.0,275.8 367.3,272.9 367.6,272.9 367.9,274.3 368.2,273.6 368.5,274.3 368.8,275.9 369.1,274.4 369.4,275.8 369.7,273.6 370.0,273.6 370.3,274.2 370.6,273.2 370.9,275.3 371.2,275.1 371.5,278.3 371.8,275.2 372.1,275.3 372.4,276.4 372.7,278.2 373.0,275.3 373.3,276.3 373.6,276.2 373.9,277.1 374.2,274.9 374.5,276.3 374.8,274.4 375.1,274.3 375.4,274.4 375.7,273.7 376.0,276.4 376.3,281.5 376.6,277.7 376.9,278.1 377.2,277.0 377.5,275.7 377.8,276.6 378.1,276.6 378.4,277.9 378.7,279.3 379.0,279.1 379.3,276.7 379.6,277.6 379.9,276.9 380.2,277.8 380.5,277.0 380.8,275.5 381.1,275.6 381.4,276.9 381.7,277.7 382.0,276.5 382.3,276.3 382.6,276.0 382.9,277.9 383.2,277.7 383.5,282.0 383.8,277.4 384.1,276.7 384.4,276.2 384.7,276.5 385.0,276.9 385.3,275.0 385.6,276.0 385.9,276.5 386.2,277.0 386.5,277.2 386.8,274.8 387.1,274.1 387.4,274.2 387.7,275.4 388.0,272.4 388.3,275.0 388.6,278.7 388.9,274.8 389.2,276.7 389.5,274.9 389.8,270.3 390.1,273.5 390.4,276.2 390.7,275.1 391.0,275.3 391.3,274.8 391.6,274.0 391.9,275.7 392.2,277.5 392.5,277.0 392.8,276.1 393.1,273.7 393.4,277.1 393.7,274.4 394.0,275.9 394.3,278.7 394.6,279.4 394.9,278.5 395.2,278.1 395.5,278.0 395.8,275.6 396.1,278.6 396.4,276.3 396.7,276.9 397.0,275.1 397.3,275.5 397.6,276.1 397.9,273.6 398.2,276.6 398.5,275.6 398.8,274.3 399.1,274.1 399.4,274.3 399.7,276.4 400.0,277.0 400.3,274.4 400.6,278.2 400.9,278.8 401.2,277.6 401.5,278.9 401.8,280.3 402.1,280.5 402.4,281.7 402.7,282.2 403.0,286.6 403.3,285.9 403.6,287.0 403.9,283.6 404.2,284.4 404.5,283.9 404.8,285.1 405.1,280.7 405.4,279.7 405.7,276.5 406.0,276.4 406.3,276.7 406.6,275.0 406.9,276.3 407.2,273.3 407.5,276.2 407.8,273.9 408.1,272.5 408.4,272.8 408.7,275.6 409.0,272.2 409.3,274.3 409.6,274.7 409.9,272.1 410.2,270.2 410.5,271.7 410.8,271.5 411.1,270.9 411.4,273.5 411.7,269.3 412.0,269.0 412.3,269.0 412.6,268.3 412.9,270.9 413.2,268.7 413.5,270.7 413.8,272.3 414.1,276.2 414.4,276.0 414.7,279.3 415.0,278.1 415.3,276.9 415.6,275.1 415.9,274.3 416.2,272.7 416.5,272.4 416.8,272.9 417.1,269.8 417.4,272.8 417.7,272.3 418.0,277.0 418.3,277.9 418.6,280.6 418.9,282.7 419.2,281.0 419.5,280.1 419.8,280.7 420.1,281.1 420.4,278.7 420.7,276.6 421.0,277.3 421.3,275.7 421.6,273.2 421.9,272.0 422.2,272.1 422.5,273.6 422.8,274.5 423.1,275.6 423.4,276.8 423.7,278.0 424.0,278.8 424.3,277.3 424.6,276.8 424.9,280.0 425.2,276.7 425.5,278.1 425.8,277.2 426.1,276.7 426.4,274.1 426.7,278.2 427.0,276.0 427.3,272.9 427.6,273.8 427.9,271.1 428.2,274.7 428.5,277.1 428.8,279.8 429.1,281.1 429.4,281.1 429.7,280.7 430.0,286.1 430.3,282.2 430.6,284.0 430.9,280.7 431.2,281.8 431.5,282.7 431.8,280.6 432.1,283.6 432.4,282.8 432.7,285.1 433.0,279.8 433.3,280.0 433.6,278.6 433.9,283.0 434.2,279.9 434.5,279.5 434.8,280.2 435.1,279.7 435.4,281.6 435.7,282.0 436.0,282.9 436.3,284.8 436.6,284.4 436.9,285.3 437.2,285.6 437.5,285.7 437.8,281.7 438.1,282.2 438.4,282.2 438.7,280.5 439.0,279.6 439.3,278.9 439.6,278.5 439.9,280.2 440.2,280.5 440.5,282.2 440.8,281.8 441.1,284.0 441.4,284.3 441.7,280.9 442.0,283.7 442.3,287.1 442.6,287.5 442.9,282.1 443.2,278.5 443.5,276.1 443.8,271.9 444.1,275.1 444.4,277.7 444.7,276.9 445.0,282.3 445.3,282.0 445.6,283.7 445.9,285.5 446.2,284.7 446.5,286.3 446.8,286.6 447.1,286.0 447.4,285.0 447.7,285.2 448.0,286.0 448.3,282.7 448.6,284.9 448.9,283.3 449.2,283.9 449.5,284.7 449.8,285.1 450.1,284.8 450.4,284.7 450.7,286.2 451.0,284.1 451.3,285.8 451.6,284.3 451.9,285.2 452.2,285.8 452.5,287.0 452.8,288.3 453.1,289.1 453.4,289.0 453.7,290.0 454.0,289.1 454.3,288.2 454.6,286.8 454.9,286.0 455.2,289.1 455.5,284.2 455.8,288.9 456.1,290.8 456.4,288.0 456.7,289.7 457.0,292.8 457.3,288.5 457.6,287.8 457.9,287.0 458.2,289.3 458.5,285.4 458.8,287.3 459.1,288.0 459.4,286.8 459.7,289.0 460.0,284.4 460.3,284.5 460.6,285.8 460.9,284.8 461.2,284.8 461.5,285.2 461.8,286.9 462.1,285.0 462.4,283.2 462.7,282.1 463.0,282.8 463.3,282.2 463.6,281.0 463.9,279.8 464.2,277.6 464.5,276.7 464.8,280.5 465.1,280.9 465.4,279.3 465.7,278.5 466.0,277.6 466.3,277.8 466.6,276.7 466.9,275.6 467.2,275.8 467.5,276.5 467.8,275.6 468.1,273.3 468.4,275.7 468.7,278.7 469.0,275.7 469.3,280.7 469.6,277.2 469.9,277.1 470.2,278.3 470.5,278.2 470.8,279.3 471.1,278.3 471.4,277.2 471.7,277.2 472.0,277.2 472.3,277.0 472.6,277.2 472.9,275.8 473.2,273.5 473.5,274.6 473.8,277.0 474.1,278.1 474.4,275.1 474.7,277.9 475.0,277.3 475.3,278.2 475.6,278.5 475.9,277.7 476.2,276.6 476.5,279.0 476.8,277.3 477.1,279.0 477.4,279.8 477.7,278.2 478.0,277.8 478.3,276.8 478.6,276.5 478.9,280.0 479.2,275.7 479.5,277.5 479.8,280.6 480.1,276.0 480.4,277.4 480.7,277.5 481.0,279.0 481.3,279.2 481.6,279.1 481.9,282.6 482.2,283.2 482.5,284.0 482.8,285.8 483.1,285.4 483.4,284.6 483.7,286.6" fill="none" stroke="#ee1010" stroke-width="1.05" stroke-opacity="1" stroke-linejoin="round"></polyline>
<polyline points="284.2,324.4 284.5,318.5 284.9,313.2 285.2,313.3 285.6,312.5 285.9,311.8 286.3,312.6 286.6,312.5 287.0,312.6 287.3,313.2 287.7,313.9 288.0,313.8 288.4,314.3 288.7,313.9 289.1,314.3 289.4,314.7 289.8,314.7 290.1,314.9 290.5,315.2" fill="none" stroke="#1818e0" stroke-width="1.1" stroke-opacity="1" stroke-linejoin="round"></polyline>
<polyline points="291.0,326.4 291.4,327.1 291.7,327.6 292.1,325.8 292.4,326.0 292.8,328.2 293.1,325.5 293.5,325.6 293.8,326.0 294.2,324.3 294.5,324.8 294.9,323.7 295.2,323.7 295.6,322.0 295.9,321.3 296.3,318.8 296.6,318.3 297.0,316.5 297.3,316.2 297.7,315.4 298.0,313.2 298.4,313.1 298.7,311.5 299.1,312.5 299.4,314.1 299.8,313.8 300.1,315.9 300.5,315.7 300.8,316.3 301.2,314.2 301.5,313.6 301.9,314.5 302.2,315.9 302.6,316.4 302.9,316.9 303.3,316.7 303.6,318.7 304.0,318.4 304.3,318.4 304.7,321.2 305.0,322.0 305.4,322.2 305.7,322.9 306.1,322.1 306.4,321.5 306.8,321.0 307.1,321.8 307.5,319.9 307.8,318.8 308.2,319.8 308.5,319.3 308.9,319.5 309.2,321.0 309.6,321.5 309.9,320.6 310.3,321.3 310.6,322.4 311.0,321.9 311.3,320.8 311.7,320.2 312.0,318.4 312.4,319.1 312.7,320.0 313.1,319.2 313.4,318.2 313.8,318.4 314.1,316.9 314.5,316.1 314.8,318.2 315.2,318.8 315.5,319.6 315.9,321.5 316.2,320.5 316.6,321.8 316.9,321.2 317.3,322.9 317.6,322.9 318.0,323.3 318.3,322.5 318.7,323.0 319.0,323.7 319.4,324.8 319.7,323.6 320.1,324.7 320.4,323.6 320.8,323.6 321.1,323.2 321.5,323.8 321.8,321.9 322.2,325.2 322.5,324.7 322.9,322.1 323.2,323.0 323.6,322.6 323.9,322.2 324.3,321.7 324.6,322.3 325.0,322.7 325.3,322.6 325.7,322.3 326.0,323.7 326.4,322.1 326.7,323.2 327.1,322.5 327.4,321.5 327.8,320.7 328.1,320.6 328.5,320.5 328.8,319.5 329.2,320.4 329.5,319.2 329.9,319.6 330.2,321.2 330.6,320.4 330.9,320.0 331.3,319.7 331.6,318.8 332.0,319.0 332.3,319.6 332.7,319.6 333.0,321.5 333.4,321.3 333.7,319.9 334.1,319.9 334.4,319.5 334.8,319.1 335.1,319.6 335.5,320.4 335.8,320.2 336.2,320.5 336.5,319.4 336.9,319.1 337.2,319.2 337.6,319.2 337.9,319.5 338.3,319.1 338.6,319.6 339.0,320.7 339.3,319.5 339.7,320.0 340.0,318.7 340.4,320.4 340.7,319.5 341.1,319.6 341.4,320.5 341.8,319.0 342.1,318.9 342.5,317.5 342.8,319.0 343.2,318.7 343.5,320.5 343.9,318.5 344.2,319.2 344.6,317.8 344.9,318.0 345.3,317.1 345.6,317.6 346.0,317.5 346.3,318.3 346.7,318.2 347.0,317.9 347.4,318.1 347.7,317.7 348.1,316.7 348.4,316.4 348.8,317.3 349.1,317.6 349.5,316.8 349.8,316.1 350.2,315.0 350.5,314.5 350.9,315.4 351.2,316.5 351.6,316.6 351.9,315.2 352.3,316.4 352.6,317.0 353.0,318.0 353.3,317.1 353.7,315.9 354.0,316.1 354.4,318.3 354.7,318.9 355.1,319.8 355.4,320.7 355.8,321.8 356.1,323.4 356.5,324.9 356.8,322.7 357.2,323.9 357.5,323.4 357.9,324.9 358.2,325.6 358.6,323.6 358.9,323.4 359.3,323.5 359.6,321.8 360.0,320.2 360.3,320.5 360.7,321.1 361.0,320.2 361.4,321.2 361.7,320.0 362.1,319.1 362.4,318.8 362.8,319.3 363.1,319.5 363.5,318.8 363.8,318.8 364.2,319.5 364.5,318.5 364.9,318.3 365.2,319.5 365.6,319.8 365.9,319.5 366.3,318.5 366.6,318.0 367.0,319.2 367.3,318.4 367.7,319.5 368.0,318.3 368.4,318.1 368.7,317.8 369.1,316.9 369.4,316.9 369.8,316.7 370.1,317.2 370.5,317.3 370.8,317.1 371.2,318.6 371.5,317.6 371.9,317.1 372.2,318.5 372.6,318.5 372.9,318.0 373.3,317.1 373.6,317.6 374.0,317.4 374.3,317.6 374.7,316.9 375.0,316.0 375.4,316.5 375.7,317.5 376.1,317.8 376.4,317.7 376.8,316.3 377.1,315.8 377.5,317.3 377.8,316.9 378.2,316.8 378.5,316.1 378.9,316.5 379.2,317.1 379.6,317.2 379.9,318.2 380.3,317.8 380.6,316.6 381.0,316.1 381.3,318.0 381.7,317.7 382.0,319.6 382.4,319.2 382.7,318.3 383.1,318.7 383.4,320.0 383.8,319.9 384.1,317.9 384.5,318.0 384.8,319.0 385.2,318.1 385.5,318.7 385.9,319.2 386.2,318.4 386.6,320.0 386.9,319.9 387.3,318.4 387.6,318.5 388.0,317.9 388.3,318.8 388.7,318.0 389.0,318.3 389.4,318.3 389.7,318.5 390.1,318.7 390.4,317.0 390.8,317.7 391.1,317.4 391.5,316.4 391.8,316.5 392.2,315.9 392.5,314.6 392.9,316.3 393.2,317.6 393.6,318.6 393.9,319.0 394.3,318.1 394.6,320.0 395.0,320.6 395.3,319.6 395.7,320.6 396.0,319.6 396.4,319.1 396.7,319.2 397.1,318.6 397.4,317.3 397.8,317.0 398.1,316.0 398.5,316.8 398.8,315.7 399.2,316.0 399.5,315.0 399.9,314.5 400.2,313.8 400.6,314.9 400.9,314.9 401.3,314.8 401.6,315.0 402.0,314.3 402.3,314.8 402.7,312.0 403.0,312.1 403.4,312.0 403.7,313.2 404.1,313.2 404.4,312.6 404.8,311.5 405.1,312.3 405.5,311.3 405.8,311.6 406.2,312.8 406.5,312.3 406.9,313.1 407.2,312.6 407.6,312.8 407.9,314.4 408.3,315.7 408.6,315.3 409.0,315.1 409.3,314.6 409.7,314.3 410.0,316.4 410.4,315.7 410.7,317.0 411.1,317.3 411.4,316.9 411.8,317.1 412.1,317.4 412.5,317.5 412.8,317.0 413.2,316.7 413.5,316.7 413.9,317.3 414.2,315.5 414.6,314.8 414.9,315.3 415.3,316.0 415.6,318.3 416.0,317.8 416.3,318.4 416.7,318.6 417.0,317.7 417.4,317.8 417.7,318.2 418.1,319.6 418.4,318.6 418.8,316.1 419.1,314.4 419.5,313.6 419.8,312.3 420.2,312.9 420.5,312.5 420.9,311.6 421.2,312.0 421.6,312.7 421.9,311.9 422.3,312.0 422.6,312.8 423.0,311.9 423.3,311.7 423.7,312.5 424.0,316.0 424.4,316.0 424.7,317.3 425.1,316.4 425.4,315.8 425.8,317.4 426.1,316.0 426.5,314.6 426.8,316.0 427.2,318.2 427.5,319.6 427.9,323.3 428.2,324.5 428.6,322.0 428.9,319.9 429.3,317.9 429.6,316.1 430.0,314.8 430.3,314.8 430.7,316.3 431.0,315.6 431.4,317.8 431.7,319.0 432.1,318.0 432.4,319.0 432.8,318.9 433.1,317.5 433.5,316.6 433.8,315.8 434.2,314.0 434.5,313.6 434.9,314.6 435.2,316.3 435.6,318.2 435.9,319.5 436.3,321.7 436.6,322.6 437.0,323.1 437.3,322.6 437.7,321.8 438.0,324.0 438.4,325.2 438.7,325.1 439.1,323.6 439.4,324.7 439.8,324.1 440.1,322.6 440.5,323.2 440.8,322.5 441.2,322.3 441.5,323.0 441.9,323.7 442.2,322.3 442.6,322.7 442.9,320.8 443.3,322.4 443.6,321.8 444.0,322.3 444.3,323.8 444.7,322.7 445.0,322.3 445.4,322.8 445.7,323.8 446.1,324.1 446.4,325.1 446.8,322.9 447.1,323.6 447.5,323.2 447.8,322.9 448.2,323.6 448.5,322.9 448.9,323.6 449.2,323.1 449.6,324.9 449.9,323.6 450.3,323.3 450.6,323.3 451.0,321.0 451.3,322.5 451.7,322.6 452.0,321.6 452.4,323.8 452.7,324.5 453.1,325.1 453.4,323.7 453.8,322.8 454.1,323.5 454.5,323.4 454.8,324.1 455.2,323.9 455.5,322.9 455.9,322.5 456.2,321.5 456.6,321.0 456.9,318.9 457.3,321.6 457.6,325.1 458.0,324.3 458.3,323.3 458.7,325.4 459.0,324.8 459.4,324.8 459.7,324.8 460.1,323.8 460.4,323.5 460.8,324.5 461.1,323.2 461.5,323.2 461.8,325.5 462.2,324.8 462.5,324.9 462.9,325.2 463.2,326.8 463.6,324.9 463.9,326.1 464.3,325.5 464.6,326.1 465.0,326.1 465.3,325.1 465.7,324.8 466.0,324.9 466.4,325.8 466.7,327.0 467.1,325.5 467.4,326.1 467.8,325.7 468.1,325.6 468.5,325.0 468.8,326.2 469.2,325.7 469.5,327.2 469.9,324.7 470.2,325.0 470.6,325.2 470.9,325.4 471.3,325.2 471.6,326.1 472.0,325.6 472.3,326.1 472.7,325.2 473.0,324.9 473.4,325.7 473.7,324.7 474.1,325.9 474.4,325.8 474.8,325.9 475.1,325.7 475.5,325.5 475.8,326.1 476.2,325.6 476.5,325.1 476.9,323.5 477.2,323.2 477.6,324.5 477.9,324.0 478.3,324.9 478.6,325.1 479.0,326.0 479.3,327.0 479.7,324.9 480.0,324.3 480.4,324.8 480.7,323.4 481.1,322.8 481.4,324.3 481.8,323.6 482.1,323.1 482.5,319.4 482.8,318.0 483.2,318.8 483.5,316.7" fill="none" stroke="#1818e0" stroke-width="1.15" stroke-opacity="1" stroke-linejoin="round"></polyline>
<line x1="403.3" x2="403.3" y1="299.5" y2="308" stroke="#1818e0" stroke-width="0.6" stroke-dasharray="1.4 0.8" opacity="0.85"></line>
<line x1="403.3" x2="403.3" y1="322" y2="329" stroke="#1818e0" stroke-width="0.4" stroke-dasharray="1 1" opacity="0.5"></line>
<polyline points="284.2,346.9 284.5,347.3 284.8,348.0 285.1,347.5 285.4,346.8 285.7,345.5 286.0,346.2 286.3,346.7 286.6,347.3 286.9,344.2 287.2,344.7 287.5,347.6 287.8,347.3 288.1,346.7 288.4,346.2 288.7,349.7 289.0,348.7 289.3,347.0 289.6,345.5 289.9,346.5 290.2,346.3 290.5,348.1 290.8,343.8 291.1,348.7 291.4,346.4 291.7,347.2 292.0,346.3 292.3,345.4 292.6,344.5 292.9,344.3 293.2,344.4 293.5,346.8 293.8,347.0 294.1,346.6 294.4,346.4 294.7,347.5 295.0,348.7 295.3,347.7 295.6,345.4 295.9,343.4 296.2,346.9 296.5,346.9 296.8,349.4 297.1,349.3 297.4,351.8 297.7,353.3 298.0,353.7 298.3,353.8 298.6,356.4 298.9,355.4 299.2,353.6 299.5,356.5 299.8,356.9 300.1,358.2 300.4,359.8 300.7,360.5 301.0,358.3 301.3,362.9 301.6,359.9 301.9,358.2 302.2,358.1 302.5,351.8 302.8,352.4 303.1,353.7 303.4,353.6 303.7,353.8 304.0,355.0 304.3,354.1 304.6,354.6 304.9,350.4 305.2,355.7 305.5,352.9 305.8,352.3 306.1,350.4 306.4,349.1 306.7,349.4 307.0,354.8 307.3,347.4 307.6,346.5 307.9,346.8 308.2,347.7 308.5,348.7 308.8,347.2 309.1,348.2 309.4,355.1 309.7,351.8 310.0,352.6 310.3,350.3 310.6,352.6 310.9,350.9 311.2,352.1 311.5,348.4 311.8,348.4 312.1,347.4 312.4,347.5 312.7,345.8 313.0,350.4 313.3,348.5 313.6,352.7 313.9,354.5 314.2,355.0 314.5,357.4 314.8,356.3 315.1,355.1 315.4,352.2 315.7,352.0 316.0,353.8 316.3,352.3 316.6,350.7 316.9,347.7 317.2,347.8 317.5,346.6 317.8,347.0 318.1,350.0 318.4,351.3 318.7,351.2 319.0,349.9 319.3,350.9 319.6,350.5 319.9,353.3 320.2,351.4 320.5,349.7 320.8,347.8 321.1,350.5 321.4,350.9 321.7,348.6 322.0,349.7 322.3,348.4 322.6,350.2 322.9,350.6 323.2,351.5 323.5,350.1 323.8,350.2 324.1,350.4 324.4,351.8 324.7,353.3 325.0,352.4 325.3,351.6 325.6,350.8 325.9,346.6 326.2,345.3 326.5,344.5 326.8,344.4 327.1,339.6 327.4,340.6 327.7,339.8 328.0,340.3 328.3,344.1 328.6,343.8 328.9,340.6 329.2,340.1 329.5,343.4 329.8,342.3 330.1,344.5 330.4,344.8 330.7,345.8 331.0,346.0 331.3,344.8 331.6,348.4 331.9,345.7 332.2,347.9 332.5,344.6 332.8,346.8 333.1,349.5 333.4,347.9 333.7,347.5 334.0,347.8 334.3,348.7 334.6,347.8 334.9,346.3 335.2,346.3 335.5,346.2 335.8,349.8 336.1,348.6 336.4,346.1 336.7,343.9 337.0,346.9 337.3,344.9 337.6,345.5 337.9,344.3 338.2,344.5 338.5,345.1 338.8,345.9 339.1,347.6 339.4,346.2 339.7,349.8 340.0,350.2 340.3,348.1 340.6,348.5 340.9,345.2 341.2,344.2 341.5,346.3 341.8,348.8 342.1,347.4 342.4,345.2 342.7,348.3 343.0,348.9 343.3,348.8 343.6,345.9 343.9,345.4 344.2,346.3 344.5,349.6 344.8,349.5 345.1,346.8 345.4,349.4 345.7,346.2 346.0,346.4 346.3,345.4 346.6,346.5 346.9,347.6 347.2,345.8 347.5,346.5 347.8,349.3 348.1,349.1 348.4,350.7 348.7,351.0 349.0,351.2 349.3,348.7 349.6,350.0 349.9,348.6 350.2,346.2 350.5,349.4 350.8,347.8 351.1,348.5 351.4,350.4 351.7,348.0 352.0,346.2 352.3,343.9 352.6,345.1 352.9,345.2 353.2,344.2 353.5,346.0 353.8,344.6 354.1,342.1 354.4,341.6 354.7,341.5 355.0,341.9 355.3,343.7 355.6,340.9 355.9,340.9 356.2,338.8 356.5,336.8 356.8,337.6 357.1,339.8 357.4,339.6 357.7,342.2 358.0,340.1 358.3,341.8 358.6,343.1 358.9,342.6 359.2,343.6 359.5,342.5 359.8,343.7 360.1,343.8 360.4,343.2 360.7,343.8 361.0,346.2 361.3,350.0 361.6,348.2 361.9,347.0 362.2,345.4 362.5,343.9 362.8,346.6 363.1,347.6 363.4,345.2 363.7,347.6 364.0,347.3 364.3,346.6 364.6,345.4 364.9,345.3 365.2,344.3 365.5,347.6 365.8,345.3 366.1,348.6 366.4,350.4 366.7,348.0 367.0,350.9 367.3,351.0 367.6,350.9 367.9,350.6 368.2,350.1 368.5,348.3 368.8,347.0 369.1,347.1 369.4,347.6 369.7,345.2 370.0,345.7 370.3,347.2 370.6,346.7 370.9,347.0 371.2,348.2 371.5,349.3 371.8,348.9 372.1,350.9 372.4,349.3 372.7,351.4 373.0,351.1 373.3,349.5 373.6,348.0 373.9,348.2 374.2,347.7 374.5,348.2 374.8,348.7 375.1,347.8 375.4,349.8 375.7,351.2 376.0,347.6 376.3,345.6 376.6,348.4 376.9,348.5 377.2,347.2 377.5,348.2 377.8,349.4 378.1,348.6 378.4,350.2 378.7,347.4 379.0,350.0 379.3,348.7 379.6,348.8 379.9,347.4 380.2,346.3 380.5,347.1 380.8,346.1 381.1,346.2 381.4,344.5 381.7,343.6 382.0,345.9 382.3,346.1 382.6,345.9 382.9,344.8 383.2,345.3 383.5,348.6 383.8,347.9 384.1,349.3 384.4,347.6 384.7,348.9 385.0,347.1 385.3,347.1 385.6,345.3 385.9,346.8 386.2,346.2 386.5,346.3 386.8,346.1 387.1,343.1 387.4,345.0 387.7,347.0 388.0,346.8 388.3,347.7 388.6,345.8 388.9,345.0 389.2,344.7 389.5,351.2 389.8,347.3 390.1,348.0 390.4,346.3 390.7,346.8 391.0,346.6 391.3,348.1 391.6,348.0 391.9,346.1 392.2,352.8 392.5,350.1 392.8,345.7 393.1,346.5 393.4,347.9 393.7,348.2 394.0,346.9 394.3,347.2 394.6,347.1 394.9,346.7 395.2,348.7 395.5,348.4 395.8,347.9 396.1,345.6 396.4,345.8 396.7,344.9 397.0,349.8 397.3,350.8 397.6,350.6 397.9,347.8 398.2,350.3 398.5,348.8 398.8,351.8 399.1,351.4 399.4,350.5 399.7,349.5 400.0,350.6 400.3,349.2 400.6,349.4 400.9,349.7 401.2,348.5 401.5,347.2 401.8,348.0 402.1,348.1 402.4,346.0 402.7,345.8 403.0,346.6 403.3,343.8 403.6,344.9 403.9,347.0 404.2,348.3 404.5,346.9 404.8,347.2 405.1,347.6 405.4,350.5 405.7,349.8 406.0,351.1 406.3,350.7 406.6,350.5 406.9,348.2 407.2,349.2 407.5,349.2 407.8,348.6 408.1,348.9 408.4,348.5 408.7,348.6 409.0,348.4 409.3,348.4 409.6,347.1 409.9,347.1 410.2,346.9 410.5,348.4 410.8,349.2 411.1,348.9 411.4,348.4 411.7,347.0 412.0,348.3 412.3,346.8 412.6,348.0 412.9,346.0 413.2,346.0 413.5,344.6 413.8,344.8 414.1,344.1 414.4,343.7 414.7,341.5 415.0,340.4 415.3,340.3 415.6,341.3 415.9,340.6 416.2,339.8 416.5,341.8 416.8,340.7 417.1,337.9 417.4,338.0 417.7,339.5 418.0,339.7 418.3,339.9 418.6,341.0 418.9,340.6 419.2,340.8 419.5,339.1 419.8,339.4 420.1,339.4 420.4,340.2 420.7,340.5 421.0,340.4 421.3,342.3 421.6,342.5 421.9,342.0 422.2,342.4 422.5,341.9 422.8,341.1 423.1,341.1 423.4,339.5 423.7,340.4 424.0,341.8 424.3,340.3 424.6,339.8 424.9,340.2 425.2,340.2 425.5,338.2 425.8,336.4 426.1,339.4 426.4,339.1 426.7,339.4 427.0,340.6 427.3,341.5 427.6,340.5 427.9,340.3 428.2,340.6 428.5,340.5 428.8,341.1 429.1,343.6 429.4,342.2 429.7,343.5 430.0,342.4 430.3,341.5 430.6,339.9 430.9,340.8 431.2,339.7 431.5,339.5 431.8,341.1 432.1,339.8 432.4,338.5 432.7,339.1 433.0,339.4 433.3,339.2 433.6,339.9 433.9,339.9 434.2,341.7 434.5,341.5 434.8,341.4 435.1,341.5 435.4,341.5 435.7,342.2 436.0,342.4 436.3,340.4 436.6,341.9 436.9,340.0 437.2,340.8 437.5,339.7 437.8,341.5 438.1,341.2 438.4,342.1 438.7,341.6 439.0,344.0 439.3,341.6 439.6,341.2 439.9,340.5 440.2,339.6 440.5,340.2 440.8,341.1 441.1,340.0 441.4,340.3 441.7,341.8 442.0,340.0 442.3,339.2 442.6,339.6 442.9,339.3 443.2,338.9 443.5,340.0 443.8,340.0 444.1,340.0 444.4,340.8 444.7,342.0 445.0,342.1 445.3,341.0 445.6,339.8 445.9,340.5 446.2,341.9 446.5,340.1 446.8,340.4 447.1,342.6 447.4,340.7 447.7,340.6 448.0,341.0 448.3,341.3 448.6,341.6 448.9,341.2 449.2,340.1 449.5,340.8 449.8,339.5 450.1,339.6 450.4,339.5 450.7,339.9 451.0,340.2 451.3,339.7 451.6,338.9 451.9,338.6 452.2,340.2 452.5,340.0 452.8,337.8 453.1,339.8 453.4,340.3 453.7,341.9 454.0,342.0 454.3,340.2 454.6,340.6 454.9,340.4 455.2,339.3 455.5,340.8 455.8,340.9 456.1,341.1 456.4,341.3 456.7,341.3 457.0,342.1 457.3,341.8 457.6,340.9 457.9,340.2 458.2,341.9 458.5,342.7 458.8,339.7 459.1,336.5 459.4,341.8 459.7,341.2 460.0,340.3 460.3,342.1 460.6,342.3 460.9,340.5 461.2,340.0 461.5,340.8 461.8,340.1 462.1,340.5 462.4,340.4 462.7,341.4 463.0,341.1 463.3,340.6 463.6,340.3 463.9,341.4 464.2,341.3 464.5,341.9 464.8,341.7 465.1,341.7 465.4,341.3 465.7,340.7 466.0,340.1 466.3,340.2 466.6,341.1 466.9,341.8 467.2,340.6 467.5,339.5 467.8,338.3 468.1,338.6 468.4,340.0 468.7,340.0 469.0,340.2 469.3,338.8 469.6,338.4 469.9,338.2 470.2,339.1 470.5,340.4 470.8,338.7 471.1,339.8 471.4,337.8 471.7,340.5 472.0,338.4 472.3,342.2 472.6,339.9 472.9,340.1 473.2,340.0 473.5,339.7 473.8,339.9 474.1,341.9 474.4,342.0 474.7,341.6 475.0,339.7 475.3,340.9 475.6,342.3 475.9,339.6 476.2,340.5 476.5,339.9 476.8,340.1 477.1,342.4 477.4,342.8 477.7,343.0 478.0,342.4 478.3,341.4 478.6,341.5 478.9,339.6 479.2,341.5 479.5,340.5 479.8,342.1 480.1,342.1 480.4,342.6 480.7,342.2 481.0,341.5 481.3,340.5 481.6,341.0 481.9,343.1 482.2,343.7 482.5,342.6 482.8,344.1 483.1,343.3 483.4,343.7 483.7,344.2" fill="none" stroke="#ff9a1a" stroke-width="1.25" stroke-opacity="1" stroke-linejoin="round"></polyline>
<polyline points="284.2,384.9 284.5,386.2 284.8,388.8 285.1,388.7 285.4,389.3 285.7,388.5 286.0,390.0 286.3,390.0 286.6,390.1 286.9,392.3 287.2,390.5 287.5,388.8 287.8,390.9 288.1,389.0 288.4,390.5 288.7,388.1 289.0,385.5 289.3,385.7 289.6,384.8 289.9,382.5 290.2,383.8 290.5,383.8 290.8,384.5 291.1,384.3 291.4,384.1 291.7,387.2 292.0,387.6 292.3,387.8 292.6,387.1 292.9,387.4 293.2,386.0 293.5,388.5 293.8,389.7 294.1,391.7 294.4,390.3 294.7,391.7 295.0,393.0 295.3,393.4 295.6,395.2 295.9,393.9 296.2,391.0 296.5,390.5 296.8,391.3 297.1,392.4 297.4,393.9 297.7,394.3 298.0,394.5 298.3,394.9 298.6,394.2 298.9,395.4 299.2,396.8 299.5,395.6 299.8,396.3 300.1,395.9 300.4,395.0 300.7,394.8 301.0,397.5 301.3,398.8 301.6,399.6 301.9,397.5 302.2,394.8 302.5,395.8 302.8,395.3 303.1,396.0 303.4,397.3 303.7,395.7 304.0,396.2 304.3,396.0 304.6,394.0 304.9,396.2 305.2,394.2 305.5,392.7 305.8,393.6 306.1,395.3 306.4,393.8 306.7,396.6 307.0,396.3 307.3,394.7 307.6,391.8 307.9,393.3 308.2,392.3 308.5,394.2 308.8,392.3 309.1,395.0 309.4,397.2 309.7,394.7 310.0,395.6 310.3,396.9 310.6,394.9 310.9,393.3 311.2,394.9 311.5,393.9 311.8,393.7 312.1,393.9 312.4,396.2 312.7,396.6 313.0,397.1 313.3,398.7 313.6,398.0 313.9,398.1 314.2,398.1 314.5,398.8 314.8,396.8 315.1,396.1 315.4,397.9 315.7,397.2 316.0,398.4 316.3,399.2 316.6,398.1 316.9,397.5 317.2,398.3 317.5,395.8 317.8,394.6 318.1,393.9 318.4,391.6 318.7,392.2 319.0,389.6 319.3,395.2 319.6,393.6 319.9,393.0 320.2,392.2 320.5,393.6 320.8,394.3 321.1,393.2 321.4,392.2 321.7,392.1 322.0,391.6 322.3,392.8 322.6,392.4 322.9,393.8 323.2,392.0 323.5,392.6 323.8,393.9 324.1,393.0 324.4,392.7 324.7,391.5 325.0,392.9 325.3,391.4 325.6,387.1 325.9,383.2 326.2,381.1 326.5,377.2 326.8,376.8 327.1,378.8 327.4,376.8 327.7,376.6 328.0,379.9 328.3,379.4 328.6,377.0 328.9,378.9 329.2,376.4 329.5,378.5 329.8,379.5 330.1,378.9 330.4,381.5 330.7,381.5 331.0,380.2 331.3,382.4 331.6,379.9 331.9,380.8 332.2,382.0 332.5,381.4 332.8,383.1 333.1,381.9 333.4,385.8 333.7,385.2 334.0,383.2 334.3,384.8 334.6,384.5 334.9,384.6 335.2,383.1 335.5,383.0 335.8,384.4 336.1,381.8 336.4,382.5 336.7,382.6 337.0,382.5 337.3,383.8 337.6,386.0 337.9,383.6 338.2,382.6 338.5,382.1 338.8,382.2 339.1,382.2 339.4,382.8 339.7,381.5 340.0,381.1 340.3,383.6 340.6,382.7 340.9,382.2 341.2,383.5 341.5,383.9 341.8,381.8 342.1,383.6 342.4,382.9 342.7,382.6 343.0,382.4 343.3,382.8 343.6,382.6 343.9,381.6 344.2,381.9 344.5,382.9 344.8,381.7 345.1,382.2 345.4,382.3 345.7,380.7 346.0,380.0 346.3,380.2 346.6,381.3 346.9,383.9 347.2,379.3 347.5,381.0 347.8,380.4 348.1,380.6 348.4,382.1 348.7,382.9 349.0,383.4 349.3,382.8 349.6,383.7 349.9,384.6 350.2,386.8 350.5,385.8 350.8,384.4 351.1,383.1 351.4,385.8 351.7,386.8 352.0,386.1 352.3,383.8 352.6,387.1 352.9,387.4 353.2,386.7 353.5,388.3 353.8,385.9 354.1,383.2 354.4,383.4 354.7,380.1 355.0,378.8 355.3,376.8 355.6,377.0 355.9,376.4 356.2,377.9 356.5,375.9 356.8,376.0 357.1,374.9 357.4,376.4 357.7,376.1 358.0,376.0 358.3,375.8 358.6,375.4 358.9,377.7 359.2,379.4 359.5,381.8 359.8,381.4 360.1,383.0 360.4,384.0 360.7,385.3 361.0,385.0 361.3,382.5 361.6,384.4 361.9,383.8 362.2,385.8 362.5,385.7 362.8,384.7 363.1,384.2 363.4,382.1 363.7,384.4 364.0,383.5 364.3,382.9 364.6,384.4 364.9,385.1 365.2,382.9 365.5,384.1 365.8,384.7 366.1,386.0 366.4,389.4 366.7,388.8 367.0,390.0 367.3,387.3 367.6,389.8 367.9,393.6 368.2,388.6 368.5,390.6 368.8,392.6 369.1,389.3 369.4,389.4 369.7,391.5 370.0,392.1 370.3,389.9 370.6,391.8 370.9,393.3 371.2,392.4 371.5,391.5 371.8,390.6 372.1,391.8 372.4,393.4 372.7,392.1 373.0,394.0 373.3,397.2 373.6,394.7 373.9,393.7 374.2,392.5 374.5,393.3 374.8,392.1 375.1,392.4 375.4,392.7 375.7,394.2 376.0,395.2 376.3,393.4 376.6,393.0 376.9,393.9 377.2,394.4 377.5,392.8 377.8,394.1 378.1,397.1 378.4,397.2 378.7,395.9 379.0,397.1 379.3,396.8 379.6,396.1 379.9,397.2 380.2,398.7 380.5,396.8 380.8,395.6 381.1,394.5 381.4,393.8 381.7,393.9 382.0,395.3 382.3,395.5 382.6,395.3 382.9,393.2 383.2,395.5 383.5,396.2 383.8,397.5 384.1,394.8 384.4,394.3 384.7,392.5 385.0,394.1 385.3,393.3 385.6,393.4 385.9,393.5 386.2,391.9 386.5,390.6 386.8,391.9 387.1,393.5 387.4,393.8 387.7,393.3 388.0,394.2 388.3,396.0 388.6,396.9 388.9,398.1 389.2,398.8 389.5,398.5 389.8,398.0 390.1,397.0 390.4,399.0 390.7,398.5 391.0,396.9 391.3,398.5 391.6,397.6 391.9,397.2 392.2,396.3 392.5,395.4 392.8,398.0 393.1,394.7 393.4,394.2 393.7,393.4 394.0,395.8 394.3,394.7 394.6,395.5 394.9,395.8 395.2,396.8 395.5,396.7 395.8,395.9 396.1,393.1 396.4,391.5 396.7,392.1 397.0,396.6 397.3,398.8 397.6,399.6 397.9,399.8 398.2,399.0 398.5,398.9 398.8,397.3 399.1,398.6 399.4,397.6 399.7,396.1 400.0,394.9 400.3,394.6 400.6,393.1 400.9,389.5 401.2,388.5 401.5,389.3 401.8,388.6 402.1,389.1 402.4,388.8 402.7,387.2 403.0,386.5 403.3,385.2 403.6,389.9 403.9,393.2 404.2,398.3 404.5,401.4 404.8,398.9 405.1,398.8 405.4,395.8 405.7,398.9 406.0,397.1 406.3,398.1 406.6,399.6 406.9,397.1 407.2,397.8 407.5,396.2 407.8,392.9 408.1,395.2 408.4,394.2 408.7,397.1 409.0,393.6 409.3,398.4 409.6,398.2 409.9,398.5 410.2,397.6 410.5,396.4 410.8,394.9 411.1,395.5 411.4,395.3 411.7,396.6 412.0,398.1 412.3,394.6 412.6,393.7 412.9,393.2 413.2,393.4 413.5,392.8 413.8,392.1 414.1,393.8 414.4,392.9 414.7,392.6 415.0,391.5 415.3,390.6 415.6,388.8 415.9,389.8 416.2,388.9 416.5,389.7 416.8,388.1 417.1,387.1 417.4,390.4 417.7,390.3 418.0,389.2 418.3,389.0 418.6,391.8 418.9,393.5 419.2,393.0 419.5,392.8 419.8,394.9 420.1,393.5 420.4,394.8 420.7,395.5 421.0,395.0 421.3,393.0 421.6,393.0 421.9,394.4 422.2,392.4 422.5,393.2 422.8,391.6 423.1,391.2 423.4,392.5 423.7,393.1 424.0,390.9 424.3,387.5 424.6,387.0 424.9,386.5 425.2,386.6 425.5,388.8 425.8,388.6 426.1,386.5 426.4,385.7 426.7,384.7 427.0,385.9 427.3,387.3 427.6,388.9 427.9,389.3 428.2,393.9 428.5,394.4 428.8,397.0 429.1,396.1 429.4,394.8 429.7,393.5 430.0,394.5 430.3,394.3 430.6,394.4 430.9,392.1 431.2,390.1 431.5,389.8 431.8,389.9 432.1,388.4 432.4,388.8 432.7,388.5 433.0,389.7 433.3,391.3 433.6,390.9 433.9,393.6 434.2,394.9 434.5,397.9 434.8,395.0 435.1,393.9 435.4,393.8 435.7,391.6 436.0,389.4 436.3,391.2 436.6,387.3 436.9,384.7 437.2,385.0 437.5,385.0 437.8,383.5 438.1,384.0 438.4,384.4 438.7,385.4 439.0,389.2 439.3,390.4 439.6,392.1 439.9,393.1 440.2,396.6 440.5,395.9 440.8,396.4 441.1,396.4 441.4,394.7 441.7,394.6 442.0,394.9 442.3,393.0 442.6,393.5 442.9,393.3 443.2,390.7 443.5,390.5 443.8,392.1 444.1,391.2 444.4,392.0 444.7,390.7 445.0,389.8 445.3,392.3 445.6,393.9 445.9,392.7 446.2,392.7 446.5,390.6 446.8,390.5 447.1,389.6 447.4,389.6 447.7,389.7 448.0,390.1 448.3,389.7 448.6,390.3 448.9,390.7 449.2,390.8 449.5,389.6 449.8,388.9 450.1,390.1 450.4,390.5 450.7,390.9 451.0,388.7 451.3,387.6 451.6,387.9 451.9,389.1 452.2,387.3 452.5,388.1 452.8,386.6 453.1,388.1 453.4,385.6 453.7,388.5 454.0,388.2 454.3,385.6 454.6,384.1 454.9,385.3 455.2,388.1 455.5,387.0 455.8,386.1 456.1,385.2 456.4,386.1 456.7,386.6 457.0,386.6 457.3,388.8 457.6,387.1 457.9,387.5 458.2,385.5 458.5,386.1 458.8,386.8 459.1,389.7 459.4,389.1 459.7,386.4 460.0,386.3 460.3,388.9 460.6,390.6 460.9,391.2 461.2,390.8 461.5,389.7 461.8,388.1 462.1,387.5 462.4,392.0 462.7,388.1 463.0,388.8 463.3,389.3 463.6,388.6 463.9,388.5 464.2,388.1 464.5,390.0 464.8,391.2 465.1,388.7 465.4,387.6 465.7,388.9 466.0,389.3 466.3,387.5 466.6,389.0 466.9,387.1 467.2,387.4 467.5,390.0 467.8,389.9 468.1,389.0 468.4,390.1 468.7,392.4 469.0,389.3 469.3,390.1 469.6,390.1 469.9,390.4 470.2,392.0 470.5,392.1 470.8,393.6 471.1,392.6 471.4,388.8 471.7,391.2 472.0,390.9 472.3,390.2 472.6,388.6 472.9,391.3 473.2,392.0 473.5,392.7 473.8,391.9 474.1,392.7 474.4,391.9 474.7,393.1 475.0,391.9 475.3,390.5 475.6,391.4 475.9,390.7 476.2,391.1 476.5,391.7 476.8,391.9 477.1,392.0 477.4,391.8 477.7,392.6 478.0,394.4 478.3,394.3 478.6,394.4 478.9,394.3 479.2,394.7 479.5,394.6 479.8,393.6 480.1,394.5 480.4,396.1 480.7,395.9 481.0,390.2 481.3,393.1 481.6,392.4 481.9,394.3 482.2,390.3 482.5,390.8 482.8,389.9 483.1,388.8 483.4,390.4" fill="none" stroke="#8b008b" stroke-width="1.25" stroke-opacity="1" stroke-linejoin="round"></polyline>
<polyline points="284.2,423.3 284.5,418.9 284.8,423.2 285.1,421.6 285.4,418.5 285.7,421.7 286.0,420.0 286.3,418.2 286.6,421.2 286.9,424.4 287.2,424.9 287.5,422.1 287.8,427.3 288.1,428.9 288.4,427.5 288.7,426.3 289.0,427.1 289.3,423.8 289.6,420.1 289.9,424.5 290.2,420.5 290.5,418.1 290.8,420.8 291.1,420.3 291.4,420.2 291.7,421.1 292.0,424.5 292.3,426.2 292.6,424.5 292.9,425.7 293.2,426.6 293.5,426.4 293.8,430.7 294.1,428.1 294.4,427.0 294.7,427.1 295.0,426.5 295.3,423.8 295.6,428.1 295.9,424.7 296.2,420.1 296.5,422.5 296.8,418.8 297.1,420.4 297.4,419.9 297.7,417.9 298.0,418.3 298.3,418.1 298.6,416.3 298.9,417.7 299.2,418.9 299.5,422.6 299.8,422.9 300.1,426.6 300.4,425.9 300.7,429.1 301.0,427.6 301.3,425.9 301.6,427.0 301.9,427.1 302.2,428.8 302.5,423.2 302.8,425.7 303.1,425.7 303.4,424.6 303.7,422.3 304.0,423.8 304.3,423.2 304.6,419.0 304.9,423.1 305.2,423.5 305.5,425.7 305.8,425.6 306.1,426.6 306.4,430.6 306.7,432.5 307.0,433.1 307.3,428.8 307.6,428.5 307.9,426.6 308.2,429.1 308.5,423.7 308.8,423.5 309.1,421.4 309.4,417.8 309.7,420.9 310.0,421.9 310.3,422.6 310.6,423.2 310.9,429.6 311.2,427.3 311.5,433.0 311.8,431.8 312.1,431.5 312.4,431.6 312.7,431.5 313.0,436.3 313.3,433.6 313.6,431.1 313.9,426.7 314.2,424.6 314.5,422.2 314.8,424.3 315.1,424.0 315.4,423.2 315.7,424.0 316.0,423.3 316.3,423.9 316.6,421.6 316.9,422.0 317.2,418.5 317.5,418.5 317.8,418.9 318.1,421.3 318.4,422.6 318.7,420.5 319.0,419.5 319.3,420.4 319.6,426.0 319.9,428.3 320.2,431.3 320.5,433.6 320.8,435.1 321.1,434.8 321.4,435.6 321.7,434.5 322.0,435.0 322.3,438.0 322.6,438.5 322.9,439.8 323.2,438.7 323.5,436.4 323.8,433.2 324.1,429.7 324.4,429.1 324.7,429.5 325.0,428.5 325.3,426.4 325.6,429.3 325.9,427.3 326.2,430.1 326.5,430.5 326.8,428.0 327.1,420.5 327.4,416.2 327.7,414.9 328.0,414.2 328.3,410.9 328.6,415.7 328.9,414.4 329.2,413.8 329.5,414.2 329.8,414.9 330.1,413.9 330.4,414.9 330.7,416.6 331.0,420.0 331.3,420.0 331.6,417.9 331.9,418.3 332.2,420.8 332.5,421.6 332.8,419.1 333.1,419.6 333.4,421.5 333.7,418.8 334.0,421.4 334.3,419.1 334.6,420.7 334.9,421.3 335.2,421.7 335.5,420.9 335.8,420.9 336.1,417.5 336.4,419.8 336.7,419.9 337.0,418.8 337.3,416.1 337.6,412.4 337.9,415.6 338.2,417.4 338.5,414.9 338.8,420.8 339.1,421.7 339.4,420.2 339.7,420.2 340.0,422.9 340.3,422.7 340.6,420.6 340.9,420.7 341.2,420.5 341.5,420.7 341.8,420.1 342.1,418.6 342.4,417.4 342.7,419.4 343.0,421.1 343.3,419.8 343.6,424.9 343.9,420.3 344.2,420.4 344.5,419.8 344.8,418.8 345.1,418.4 345.4,418.8 345.7,418.0 346.0,418.0 346.3,418.2 346.6,422.0 346.9,419.0 347.2,415.3 347.5,416.4 347.8,418.1 348.1,414.9 348.4,417.1 348.7,419.5 349.0,420.1 349.3,418.7 349.6,421.1 349.9,420.8 350.2,422.7 350.5,421.3 350.8,419.4 351.1,421.4 351.4,421.6 351.7,421.9 352.0,422.1 352.3,421.1 352.6,423.2 352.9,423.3 353.2,423.1 353.5,424.3 353.8,421.4 354.1,421.1 354.4,420.0 354.7,420.0 355.0,417.4 355.3,416.6 355.6,412.8 355.9,411.4 356.2,413.5 356.5,413.0 356.8,414.3 357.1,413.2 357.4,412.5 357.7,415.5 358.0,415.5 358.3,416.9 358.6,417.7 358.9,418.1 359.2,420.9 359.5,423.1 359.8,421.8 360.1,419.7 360.4,420.1 360.7,415.4 361.0,417.2 361.3,418.7 361.6,417.7 361.9,416.9 362.2,418.2 362.5,417.7 362.8,417.4 363.1,417.5 363.4,416.4 363.7,419.2 364.0,418.2 364.3,420.9 364.6,420.8 364.9,423.5 365.2,424.9 365.5,424.4 365.8,421.7 366.1,422.3 366.4,420.3 366.7,419.2 367.0,417.9 367.3,419.0 367.6,418.4 367.9,418.4 368.2,420.9 368.5,424.9 368.8,424.3 369.1,423.9 369.4,424.7 369.7,425.9 370.0,429.3 370.3,429.7 370.6,427.0 370.9,424.9 371.2,424.8 371.5,424.1 371.8,421.6 372.1,422.0 372.4,422.7 372.7,420.8 373.0,421.3 373.3,420.3 373.6,421.1 373.9,424.6 374.2,426.2 374.5,425.6 374.8,427.6 375.1,430.5 375.4,426.7 375.7,424.3 376.0,422.9 376.3,418.8 376.6,421.3 376.9,418.8 377.2,420.6 377.5,421.2 377.8,423.6 378.1,425.7 378.4,426.7 378.7,429.8 379.0,431.3 379.3,429.4 379.6,430.9 379.9,429.4 380.2,431.4 380.5,430.5 380.8,430.1 381.1,429.9 381.4,430.3 381.7,430.1 382.0,431.0 382.3,433.2 382.6,429.6 382.9,429.4 383.2,428.3 383.5,427.1 383.8,425.3 384.1,429.7 384.4,429.0 384.7,429.2 385.0,427.4 385.3,426.0 385.6,428.0 385.9,425.3 386.2,425.3 386.5,424.7 386.8,424.2 387.1,425.6 387.4,424.7 387.7,425.2 388.0,423.2 388.3,424.5 388.6,422.3 388.9,423.2 389.2,422.2 389.5,422.6 389.8,424.2 390.1,424.9 390.4,426.5 390.7,426.7 391.0,427.3 391.3,427.4 391.6,428.7 391.9,429.7 392.2,429.5 392.5,432.0 392.8,432.2 393.1,431.5 393.4,428.2 393.7,427.9 394.0,429.0 394.3,428.7 394.6,429.0 394.9,429.7 395.2,428.0 395.5,430.3 395.8,429.8 396.1,427.6 396.4,428.4 396.7,428.8 397.0,428.3 397.3,427.3 397.6,427.0 397.9,426.7 398.2,426.2 398.5,427.6 398.8,426.2 399.1,425.9 399.4,424.7 399.7,424.9 400.0,427.5 400.3,427.5 400.6,426.9 400.9,426.3 401.2,427.2 401.5,423.9 401.8,423.0 402.1,422.5 402.4,425.1 402.7,422.6 403.0,422.0 403.3,420.3 403.6,422.4 403.9,423.8 404.2,425.5 404.5,425.7 404.8,427.1 405.1,427.1 405.4,427.9 405.7,428.1 406.0,429.3 406.3,429.8 406.6,430.7 406.9,433.0 407.2,432.3 407.5,432.4 407.8,433.3 408.1,435.6 408.4,436.6 408.7,436.0 409.0,434.5 409.3,434.1 409.6,433.7 409.9,432.2 410.2,429.4 410.5,425.8 410.8,430.2 411.1,433.5 411.4,433.1 411.7,432.6 412.0,432.3 412.3,432.6 412.6,434.4 412.9,433.3 413.2,433.5 413.5,428.9 413.8,428.1 414.1,426.5 414.4,426.2 414.7,423.7 415.0,425.0 415.3,423.6 415.6,423.2 415.9,422.9 416.2,423.6 416.5,424.6 416.8,421.9 417.1,422.3 417.4,421.3 417.7,422.4 418.0,422.5 418.3,426.5 418.6,426.5 418.9,431.7 419.2,431.3 419.5,429.4 419.8,427.5 420.1,426.5 420.4,426.2 420.7,424.2 421.0,426.6 421.3,423.7 421.6,422.5 421.9,422.0 422.2,422.7 422.5,421.6 422.8,422.1 423.1,422.6 423.4,423.2 423.7,422.1 424.0,420.1 424.3,421.9 424.6,422.4 424.9,422.8 425.2,423.3 425.5,424.7 425.8,422.4 426.1,422.2 426.4,422.4 426.7,424.4 427.0,423.1 427.3,424.6 427.6,419.5 427.9,421.5 428.2,421.9 428.5,422.3 428.8,421.7 429.1,424.7 429.4,423.1 429.7,420.4 430.0,419.3 430.3,421.1 430.6,420.5 430.9,419.0 431.2,419.6 431.5,417.7 431.8,421.1 432.1,419.5 432.4,421.7 432.7,419.7 433.0,421.6 433.3,421.9 433.6,422.7 433.9,420.6 434.2,419.3 434.5,418.3 434.8,422.0 435.1,421.4 435.4,420.2 435.7,420.5 436.0,422.3 436.3,421.9 436.6,421.1 436.9,422.8 437.2,423.3 437.5,422.4 437.8,421.3 438.1,419.7 438.4,420.6 438.7,421.2 439.0,424.0 439.3,422.9 439.6,421.8 439.9,421.4 440.2,422.3 440.5,421.0 440.8,420.8 441.1,422.2 441.4,422.5 441.7,422.1 442.0,421.5 442.3,421.0 442.6,421.9 442.9,421.0 443.2,422.5 443.5,423.2 443.8,424.5 444.1,423.0 444.4,422.3 444.7,424.8 445.0,422.4 445.3,423.5 445.6,421.9 445.9,423.8 446.2,422.9 446.5,423.1 446.8,424.3 447.1,425.0 447.4,426.7 447.7,426.4 448.0,423.8 448.3,424.3 448.6,422.1 448.9,423.2 449.2,421.6 449.5,422.6 449.8,422.5 450.1,423.2 450.4,424.0 450.7,426.3 451.0,428.4 451.3,425.2 451.6,426.2 451.9,426.0 452.2,427.8 452.5,427.4 452.8,430.0 453.1,430.3 453.4,427.9 453.7,425.8 454.0,426.1 454.3,425.7 454.6,426.0 454.9,424.2 455.2,424.5 455.5,423.9 455.8,425.3 456.1,424.2 456.4,423.2 456.7,424.9 457.0,426.9 457.3,430.9 457.6,433.0 457.9,435.4 458.2,435.1 458.5,434.0 458.8,433.9 459.1,431.4 459.4,427.7 459.7,424.8 460.0,426.7 460.3,426.5 460.6,426.1 460.9,427.1 461.2,429.4 461.5,429.1 461.8,429.2 462.1,431.4 462.4,432.9 462.7,431.4 463.0,431.2 463.3,431.0 463.6,430.0 463.9,428.7 464.2,429.8 464.5,427.6 464.8,425.2 465.1,424.4 465.4,426.6 465.7,428.3 466.0,426.9 466.3,425.9 466.6,424.6 466.9,425.6 467.2,427.0 467.5,430.4 467.8,429.2 468.1,427.3 468.4,429.3 468.7,425.8 469.0,427.8 469.3,428.7 469.6,429.5 469.9,428.2 470.2,428.5 470.5,431.0 470.8,433.9 471.1,430.3 471.4,430.4 471.7,429.5 472.0,430.3 472.3,430.6 472.6,430.7 472.9,429.4 473.2,431.4 473.5,431.9 473.8,429.7 474.1,431.2 474.4,431.0 474.7,431.7 475.0,431.8 475.3,431.2 475.6,433.5 475.9,434.4 476.2,434.9 476.5,430.4 476.8,436.6 477.1,436.7 477.4,436.0 477.7,437.0 478.0,438.1 478.3,437.0 478.6,437.5 478.9,437.6 479.2,438.5 479.5,439.4 479.8,438.9 480.1,438.7 480.4,436.7 480.7,435.2 481.0,434.6 481.3,433.9 481.6,433.8 481.9,432.3 482.2,432.8 482.5,429.5 482.8,428.1 483.1,425.1 483.4,426.5" fill="none" stroke="#0a8a2a" stroke-width="1.3" stroke-opacity="1" stroke-linejoin="round"></polyline>
<rect x="274.4" y="260" width="219.5" height="31.6" fill="none" stroke="#555" stroke-width="0.55"></rect>
<rect x="274.4" y="297.7" width="219.5" height="31.6" fill="none" stroke="#555" stroke-width="0.55"></rect>
<rect x="274.4" y="335.4" width="219.5" height="31.6" fill="none" stroke="#555" stroke-width="0.55"></rect>
<rect x="274.4" y="373.1" width="219.5" height="31.6" fill="none" stroke="#555" stroke-width="0.55"></rect>
<rect x="274.4" y="410.8" width="219.5" height="31.6" fill="none" stroke="#555" stroke-width="0.55"></rect>
<text x="263" y="271" font-size="3.3" fill="#e8202a" text-anchor="start" font-weight="400" fill-opacity="0.8" transform="rotate(-90 263 271)">Bt (nT)</text>
<text x="263" y="282.5" font-size="3.3" fill="#111" text-anchor="start" font-weight="400" fill-opacity="0.8" transform="rotate(-90 263 282.5)">Bz</text>
<text x="263" y="319.7" font-size="3.3" fill="#1818e0" text-anchor="start" font-weight="400" fill-opacity="0.8" transform="rotate(-90 263 319.7)">Phi (deg)</text>
<text x="263" y="364.4" font-size="3.3" fill="#ffa030" text-anchor="start" font-weight="400" fill-opacity="0.8" transform="rotate(-90 263 364.4)">Density (p/cm³)</text>
<text x="263" y="401.6" font-size="3.3" fill="#8b008b" text-anchor="start" font-weight="400" fill-opacity="0.8" transform="rotate(-90 263 401.6)">Speed (km/sec)</text>
<text x="263" y="434.8" font-size="3.3" fill="#1a9a5a" text-anchor="start" font-weight="400" fill-opacity="0.8" transform="rotate(-90 263 434.8)">Temp (°K)</text>
<text x="297.4" y="448.3" font-size="3.5" fill="#222" text-anchor="middle" font-weight="400" fill-opacity="0.95" textLength="28.5" lengthAdjust="spacingAndGlyphs">2025-03-31 00:00</text>
<text x="364.9" y="448.3" font-size="3.5" fill="#222" text-anchor="middle" font-weight="400" fill-opacity="0.95" textLength="28.5" lengthAdjust="spacingAndGlyphs">2025-04-01 00:00</text>
<text x="432.4" y="448.3" font-size="3.5" fill="#222" text-anchor="middle" font-weight="400" fill-opacity="0.95" textLength="28.5" lengthAdjust="spacingAndGlyphs">2025-04-02 00:00</text>
<text x="494" y="454.6" font-size="2.9" fill="#222" text-anchor="end" font-weight="400" fill-opacity="0.9" textLength="114" lengthAdjust="spacingAndGlyphs">Solar wind data from swpc.noaa.gov. Plot by "9 RESE LLC" for spaceweathernews.com</text>
<text x="272.3" y="280.2" font-size="3.4" fill="#222" text-anchor="end" font-weight="400" fill-opacity="0.95">0</text>
<text x="272.3" y="292.2" font-size="3.4" fill="#222" text-anchor="end" font-weight="400" fill-opacity="0.95">-15</text>
<text x="272.3" y="304.9" font-size="3.4" fill="#222" text-anchor="end" font-weight="400" fill-opacity="0.95">300</text>
<text x="272.3" y="313.9" font-size="3.4" fill="#222" text-anchor="end" font-weight="400" fill-opacity="0.95">200</text>
<text x="272.3" y="322.9" font-size="3.4" fill="#222" text-anchor="end" font-weight="400" fill-opacity="0.95">100</text>
<text x="272.3" y="345.59999999999997" font-size="3.4" fill="#222" text-anchor="end" font-weight="400" fill-opacity="0.95">10</text>
<text x="272.3" y="381.3" font-size="3.4" fill="#222" text-anchor="end" font-weight="400" fill-opacity="0.95">500</text>
<text x="272.3" y="391.8" font-size="3.4" fill="#222" text-anchor="end" font-weight="400" fill-opacity="0.95">450</text>
<text x="272.3" y="402.3" font-size="3.4" fill="#222" text-anchor="end" font-weight="400" fill-opacity="0.95">400</text>
<text x="272.3" y="432.0" font-size="3.4" fill="#222" text-anchor="end" font-weight="400" fill-opacity="0.95">10</text>
<rect x="501.1" y="252.3" width="240.19999999999993" height="205.1" fill="#fff"></rect>
<text x="628.4000000000001" y="258.3" font-size="4.9" fill="#333" text-anchor="middle" font-weight="400" fill-opacity="1" textLength="43" lengthAdjust="spacingAndGlyphs">Real Time Solar Wind</text>
<line x1="518.2" x2="738.6" y1="268" y2="268" stroke="#d4d6dc" stroke-width="0.35"></line>
<line x1="518.2" x2="738.6" y1="279" y2="279" stroke="#d4d6dc" stroke-width="0.35"></line>
<line x1="518.2" x2="738.6" y1="290" y2="290" stroke="#d4d6dc" stroke-width="0.35"></line>
<line x1="518.2" x2="738.6" y1="305.7" y2="305.7" stroke="#d4d6dc" stroke-width="0.35"></line>
<line x1="518.2" x2="738.6" y1="319.7" y2="319.7" stroke="#d4d6dc" stroke-width="0.35"></line>
<line x1="518.2" x2="738.6" y1="340.4" y2="340.4" stroke="#d4d6dc" stroke-width="0.35"></line>
<line x1="518.2" x2="738.6" y1="356.4" y2="356.4" stroke="#d4d6dc" stroke-width="0.35"></line>
<line x1="518.2" x2="738.6" y1="378.1" y2="378.1" stroke="#d4d6dc" stroke-width="0.35"></line>
<line x1="518.2" x2="738.6" y1="389.1" y2="389.1" stroke="#d4d6dc" stroke-width="0.35"></line>
<line x1="518.2" x2="738.6" y1="401.1" y2="401.1" stroke="#d4d6dc" stroke-width="0.35"></line>
<line x1="518.2" x2="738.6" y1="416.8" y2="416.8" stroke="#d4d6dc" stroke-width="0.35"></line>
<line x1="518.2" x2="738.6" y1="429.8" y2="429.8" stroke="#d4d6dc" stroke-width="0.35"></line>
<polyline points="527.1,265.2 527.5,265.7 527.9,265.7 528.3,264.8 528.7,264.1 529.1,264.4 529.5,264.4 529.9,264.4 530.3,263.1 530.7,262.8 531.1,263.4 531.5,263.1 531.9,263.5 532.3,263.4 532.7,263.0 533.1,263.1 533.5,264.5 533.9,263.4 534.3,263.3 534.7,263.3 535.1,264.0 535.5,264.1 535.9,264.0 536.3,264.3 536.7,264.6 537.1,264.9 537.5,265.3 537.9,265.0 538.3,264.2 538.7,265.5 539.1,264.7 539.5,265.4 539.9,264.9 540.3,265.7 540.7,265.5 541.1,266.1 541.5,267.6 541.9,266.3 542.3,266.8 542.7,266.0 543.1,266.6 543.5,267.2 543.9,267.0 544.3,267.2 544.7,267.1 545.1,266.6 545.5,267.4 545.9,266.8 546.3,268.0 546.7,267.0 547.1,267.6 547.5,267.3 547.9,267.7 548.3,267.1 548.7,267.8 549.1,267.3 549.5,268.0 549.9,267.7 550.3,267.5 550.7,267.2 551.1,267.9 551.5,267.8 551.9,268.3 552.3,267.5 552.7,267.9 553.1,267.9 553.5,267.9 553.9,267.8 554.3,267.9 554.7,267.5 555.1,267.4 555.5,267.7 555.9,268.2 556.3,268.6 556.7,268.4 557.1,268.5 557.5,268.5 557.9,268.5 558.3,268.3 558.7,268.7 559.1,269.2 559.5,268.3 559.9,268.2 560.3,269.4 560.7,268.7 561.1,269.1 561.5,269.1 561.9,268.3 562.3,269.9 562.7,269.5 563.1,268.7 563.5,268.9 563.9,268.6 564.3,268.0 564.7,268.3 565.1,268.4 565.5,268.7 565.9,268.4 566.3,268.1 566.7,268.6 567.1,267.5 567.5,268.1 567.9,268.2 568.3,267.5 568.7,266.7 569.1,267.1 569.5,267.5 569.9,267.5 570.3,267.9 570.7,266.7 571.1,267.1 571.5,267.3 571.9,266.9 572.3,266.0 572.7,267.4 573.1,268.1 573.5,267.5 573.9,266.6 574.3,266.9 574.7,267.2 575.1,268.2 575.5,267.4 575.9,267.1 576.3,267.8 576.7,267.1 577.1,268.0 577.5,266.8 577.9,266.9 578.3,267.5 578.7,267.8 579.1,267.5 579.5,267.3 579.9,266.4 580.3,266.9 580.7,266.9 581.1,267.0 581.5,267.5 581.9,267.1 582.3,267.6 582.7,267.3 583.1,267.1 583.5,267.3 583.9,267.4 584.3,267.6 584.7,267.1 585.1,267.2 585.5,266.7 585.9,268.0 586.3,268.0 586.7,267.2 587.1,267.1 587.5,266.7 587.9,267.4 588.3,267.4 588.7,268.3 589.1,267.4 589.5,266.9 589.9,266.1 590.3,267.9 590.7,267.3 591.1,266.5 591.5,267.3 591.9,266.5 592.3,268.8 592.7,267.7 593.1,267.4 593.5,267.1 593.9,266.2 594.3,267.1 594.7,266.5 595.1,267.4 595.5,266.2 595.9,266.7 596.3,267.7 596.7,267.9 597.1,266.6 597.5,266.4 597.9,267.5 598.3,267.5 598.7,266.6 599.1,266.8 599.5,266.7 599.9,266.5 600.3,266.7 600.7,267.6 601.1,267.3 601.5,267.9 601.9,267.0 602.3,267.0 602.7,266.6 603.1,267.0 603.5,266.5 603.9,266.3 604.3,267.5 604.7,267.8 605.1,267.6 605.5,267.8 605.9,267.4 606.3,266.9 606.7,267.3 607.1,267.1 607.5,266.8 607.9,266.6 608.3,266.7 608.7,267.4 609.1,267.5 609.5,267.2 609.9,268.1 610.3,267.6 610.7,267.8 611.1,268.1 611.5,267.2 611.9,266.7 612.3,268.0 612.7,267.3 613.1,268.3 613.5,267.8 613.9,268.2 614.3,268.1 614.7,266.8 615.1,268.1 615.5,267.5 615.9,267.5 616.3,267.7 616.7,268.2 617.1,268.3 617.5,268.5 617.9,267.5 618.3,268.2 618.7,267.6 619.1,268.8 619.5,269.3 619.9,268.9 620.3,269.6 620.7,269.5 621.1,269.7 621.5,268.8 621.9,268.7 622.3,268.6 622.7,269.6 623.1,269.2 623.5,268.5 623.9,268.6 624.3,268.4 624.7,268.4 625.1,268.1 625.5,267.9 625.9,267.4 626.3,267.6 626.7,268.5 627.1,267.9 627.5,267.6 627.9,267.3 628.3,267.3 628.7,267.4 629.1,266.8 629.5,267.1 629.9,267.2 630.3,266.8 630.7,266.9 631.1,266.8 631.5,266.9 631.9,267.8 632.3,266.4 632.7,267.4 633.1,267.3 633.5,267.4 633.9,267.8 634.3,268.3 634.7,267.9 635.1,267.9 635.5,267.8 635.9,268.0 636.3,268.6 636.7,268.1 637.1,267.8 637.5,267.8 637.9,267.9 638.3,267.9 638.7,269.1 639.1,268.8 639.5,268.6 639.9,269.4 640.3,268.4 640.7,268.3 641.1,267.7 641.5,266.0 641.9,265.7 642.3,265.9 642.7,266.8 643.1,266.9 643.5,265.8 643.9,266.8 644.3,266.1 644.7,266.1 645.1,266.0 645.5,266.1 645.9,265.4 646.3,265.7 646.7,265.6 647.1,266.3 647.5,267.0 647.9,267.3 648.3,265.9 648.7,265.3 649.1,265.8 649.5,265.6 649.9,266.9 650.3,266.2 650.7,265.6 651.1,266.3 651.5,266.1 651.9,265.2 652.3,265.6 652.7,265.7 653.1,265.8 653.5,265.9 653.9,265.6 654.3,265.9 654.7,265.5 655.1,265.4 655.5,266.5 655.9,265.9 656.3,266.0 656.7,265.1 657.1,265.7 657.5,266.2 657.9,265.2 658.3,266.3 658.7,265.6 659.1,266.0 659.5,265.7 659.9,265.9 660.3,266.3 660.7,265.6 661.1,266.5 661.5,265.4 661.9,265.4 662.3,266.1 662.7,265.3 663.1,265.6 663.5,266.2 663.9,266.3 664.3,265.0 664.7,266.0 665.1,266.6 665.5,266.3 665.9,265.7 666.3,265.5 666.7,265.6 667.1,265.3 667.5,265.7 667.9,265.7 668.3,265.7 668.7,266.3 669.1,265.7 669.5,265.1 669.9,266.3 670.3,265.3 670.7,265.6 671.1,265.7 671.5,265.6 671.9,265.3 672.3,265.7 672.7,266.8 673.1,265.5 673.5,265.7 673.9,266.3 674.3,266.1 674.7,266.1 675.1,266.2 675.5,264.9 675.9,265.4 676.3,265.8 676.7,266.0 677.1,266.4 677.5,266.0 677.9,265.7 678.3,265.8 678.7,265.7 679.1,265.9 679.5,266.1 679.9,265.7 680.3,265.5 680.7,265.4 681.1,266.3 681.5,266.4 681.9,266.3 682.3,266.2 682.7,266.2 683.1,265.9 683.5,266.2 683.9,265.4 684.3,265.8 684.7,265.6 685.1,266.2 685.5,265.7 685.9,265.9 686.3,266.1 686.7,266.6 687.1,265.6 687.5,265.5 687.9,266.3 688.3,265.5 688.7,266.2 689.1,265.7 689.5,266.0 689.9,265.2 690.3,266.3 690.7,265.8 691.1,265.6 691.5,267.0 691.9,266.4 692.3,267.6 692.7,266.3 693.1,265.9 693.5,266.1 693.9,266.8 694.3,266.1 694.7,266.3 695.1,266.3 695.5,265.7 695.9,266.2 696.3,265.9 696.7,265.6 697.1,266.5 697.5,266.5 697.9,266.2 698.3,265.8 698.7,265.3 699.1,266.4 699.5,266.2 699.9,265.5 700.3,266.2 700.7,265.5 701.1,266.2 701.5,266.3 701.9,266.4 702.3,266.4 702.7,266.3 703.1,265.8 703.5,266.1 703.9,266.1 704.3,266.2 704.7,266.4 705.1,266.6 705.5,267.1 705.9,265.2 706.3,266.5 706.7,266.3 707.1,267.4 707.5,266.8 707.9,265.6 708.3,266.6 708.7,266.2 709.1,266.9 709.5,266.0 709.9,266.4 710.3,266.4 710.7,266.5 711.1,266.3 711.5,265.8 711.9,266.8 712.3,267.1 712.7,266.6 713.1,266.2 713.5,266.8 713.9,267.0 714.3,266.7 714.7,266.8 715.1,267.5 715.5,266.4 715.9,266.7 716.3,266.1 716.7,266.7 717.1,266.7 717.5,266.6 717.9,266.8 718.3,267.9 718.7,267.0 719.1,267.1 719.5,268.2 719.9,267.2 720.3,266.5 720.7,267.5 721.1,266.9 721.5,268.0 721.9,266.6 722.3,266.9 722.7,266.4 723.1,267.1 723.5,266.5 723.9,266.9 724.3,266.7 724.7,266.5 725.1,267.1 725.5,267.1 725.9,266.6 726.3,266.1 726.7,266.0 727.1,266.5" fill="none" stroke="#111" stroke-width="1.45" stroke-opacity="1" stroke-linejoin="round"></polyline>
<polyline points="527.1,272.5 527.3,277.6 527.6,280.6 527.8,280.2 528.1,280.5 528.3,280.4 528.6,285.9 528.8,286.6 529.1,289.9 529.3,286.5 529.6,278.8 529.8,287.6 530.1,284.6 530.3,285.5 530.6,287.4 530.8,287.3 531.1,285.1 531.3,282.9 531.6,287.1 531.8,283.7 532.1,284.3 532.3,284.2 532.6,286.1 532.8,281.7 533.1,280.1 533.3,277.5 533.6,277.9 533.8,280.6 534.1,281.6 534.3,277.6 534.6,276.4 534.8,277.5 535.1,277.0 535.3,275.9 535.6,275.5 535.8,273.7 536.1,275.0 536.3,273.1 536.6,266.6 536.8,272.1 537.1,273.2 537.3,274.5 537.6,268.2 537.8,264.8 538.1,265.5 538.3,270.9 538.6,277.2 538.8,267.7 539.1,270.7 539.3,266.0 539.6,267.5 539.8,269.6 540.1,274.2 540.3,268.6 540.6,271.3 540.8,269.0 541.1,269.2 541.3,267.2 541.6,270.3 541.8,273.6 542.1,272.2 542.3,269.2 542.6,273.3 542.8,270.4 543.1,274.2 543.3,270.0 543.6,273.9 543.8,268.8 544.1,268.8 544.3,275.2 544.6,274.4 544.8,269.3 545.1,268.0 545.3,269.9 545.6,270.0 545.8,276.5 546.1,271.3 546.3,271.4 546.6,271.1 546.8,273.4 547.1,270.8 547.3,271.6 547.6,273.0 547.8,269.9 548.1,275.5 548.3,273.6 548.6,272.4 548.8,271.8 549.1,273.8 549.3,273.6 549.6,274.5 549.8,276.1 550.1,270.8 550.3,274.3 550.6,271.3 550.8,272.1 551.1,277.3 551.3,271.9 551.6,275.4 551.8,273.3 552.1,278.2 552.3,275.3 552.6,275.8 552.8,274.3 553.1,275.9 553.3,277.6 553.6,276.7 553.8,277.5 554.1,279.7 554.3,276.2 554.6,278.9 554.8,276.5 555.1,279.4 555.3,275.6 555.6,277.0 555.8,277.3 556.1,277.0 556.3,280.1 556.6,279.3 556.8,280.5 557.1,282.9 557.3,280.5 557.6,277.2 557.8,282.1 558.1,282.2 558.3,276.8 558.6,279.3 558.8,280.3 559.1,279.7 559.3,278.5 559.6,278.8 559.8,284.3 560.1,279.6 560.3,278.3 560.6,278.7 560.8,277.9 561.1,278.2 561.3,281.8 561.6,278.0 561.8,281.1 562.1,277.5 562.3,281.9 562.6,280.9 562.8,279.8 563.1,282.0 563.3,275.2 563.6,280.9 563.8,282.4 564.1,281.0 564.3,279.5 564.6,280.3 564.8,277.2 565.1,281.0 565.3,282.7 565.6,280.7 565.8,282.8 566.1,288.5 566.3,280.9 566.6,281.6 566.8,284.2 567.1,282.7 567.3,282.7 567.6,282.5 567.8,279.2 568.1,280.1 568.3,286.0 568.6,283.8 568.8,285.2 569.1,282.3 569.3,283.8 569.6,276.3 569.8,279.6 570.1,279.7 570.3,280.7 570.6,281.1 570.8,281.8 571.1,277.8 571.3,280.0 571.6,277.8 571.8,281.7 572.1,278.8 572.3,281.3 572.6,278.1 572.8,285.5 573.1,280.8 573.3,280.7 573.6,285.8 573.8,284.9 574.1,286.3 574.3,278.6 574.6,283.1 574.8,285.3 575.1,285.6 575.3,287.3 575.6,279.2 575.8,285.1 576.1,282.5 576.3,285.7 576.6,284.2 576.8,282.6 577.1,281.0 577.3,284.0 577.6,285.6 577.8,285.3 578.1,279.6 578.3,287.3 578.6,284.8 578.8,281.8 579.1,280.3 579.3,283.9 579.6,284.0 579.8,284.3 580.1,280.5 580.3,283.4 580.6,283.8 580.8,287.5 581.1,281.5 581.3,283.2 581.6,284.0 581.8,281.2 582.1,279.5 582.3,283.1 582.6,285.8 582.8,288.0 583.1,284.1 583.3,284.8 583.6,284.0 583.8,285.3 584.1,281.2 584.3,283.6 584.6,281.3 584.8,284.2 585.1,289.2 585.3,286.2 585.6,287.2 585.8,285.7 586.1,285.9 586.3,283.5 586.6,288.3 586.8,284.1 587.1,290.5 587.3,287.0 587.6,285.6 587.8,285.9 588.1,288.3 588.3,290.2 588.6,287.1 588.8,288.9 589.1,283.9 589.3,285.5 589.6,287.0 589.8,285.3 590.1,287.3 590.3,287.5 590.6,289.3 590.8,288.7 591.1,285.0 591.3,286.4 591.6,288.9 591.8,286.6 592.1,288.3 592.3,287.4 592.6,286.0 592.8,285.0 593.1,288.5 593.3,287.5 593.6,288.9 593.8,284.7 594.1,283.2 594.3,290.5 594.6,289.6 594.8,285.2 595.1,287.2 595.3,287.9 595.6,289.4 595.8,286.0 596.1,287.5 596.3,283.7 596.6,285.6 596.8,284.3 597.1,285.6 597.3,287.0 597.6,287.9 597.8,289.2 598.1,285.4 598.3,284.1 598.6,288.0 598.8,290.5 599.1,285.6 599.3,285.4 599.6,285.1 599.8,288.9 600.1,286.3 600.3,285.3 600.6,288.8 600.8,288.0 601.1,286.1 601.3,286.5 601.6,287.3 601.8,286.5 602.1,286.9 602.3,286.8 602.6,286.6 602.8,289.7 603.1,286.8 603.3,287.3 603.6,286.8 603.8,285.7 604.1,286.5 604.3,281.7 604.6,278.6 604.8,277.7 605.1,274.6 605.3,276.9 605.6,279.6 605.8,279.7 606.1,284.4 606.3,286.5 606.6,287.6 606.8,289.3 607.1,288.1 607.3,288.6 607.6,284.2 607.8,288.2 608.1,290.2 608.3,284.5 608.6,285.7 608.8,284.1 609.1,282.5 609.3,285.9 609.6,287.3 609.8,284.9 610.1,284.1 610.3,286.3 610.6,287.0 610.8,286.2 611.1,284.1 611.3,283.1 611.6,286.9 611.8,286.6 612.1,284.2 612.3,285.6 612.6,285.4 612.8,285.5 613.1,285.3 613.3,285.3 613.6,285.0 613.8,286.3 614.1,285.4 614.3,285.9 614.6,285.0 614.8,282.6 615.1,285.8 615.3,286.3 615.6,285.7 615.8,285.3 616.1,286.6 616.3,286.4 616.6,286.5 616.8,286.4 617.1,285.6 617.3,286.4 617.6,285.7 617.8,286.7 618.1,286.8 618.3,288.4 618.6,286.8 618.8,284.9 619.1,288.2 619.3,290.5 619.6,288.2 619.8,284.1 620.1,287.2 620.3,285.6 620.6,288.0 620.8,286.0 621.1,286.2 621.3,286.2 621.6,286.5 621.8,288.9 622.1,283.2 622.3,287.2 622.6,287.1 622.8,287.2 623.1,287.0 623.3,288.1 623.6,287.0 623.8,287.8 624.1,288.7 624.3,287.2 624.6,287.4 624.8,287.0 625.1,288.8 625.3,286.2 625.6,285.6 625.8,286.1 626.1,286.5 626.3,284.9 626.6,287.1 626.8,285.0 627.1,289.5 627.3,288.0 627.6,284.2 627.8,286.6 628.1,288.0 628.3,285.8 628.6,284.4 628.8,283.7 629.1,284.6 629.3,284.1 629.6,285.1 629.8,286.1 630.1,286.1 630.3,283.6 630.6,286.4 630.8,286.1 631.1,285.0 631.3,285.9 631.6,282.0 631.8,285.7 632.1,285.2 632.3,285.9 632.6,286.8 632.8,286.1 633.1,286.4 633.3,285.8 633.6,284.8 633.8,286.3 634.1,289.4 634.3,286.9 634.6,285.8 634.8,287.9 635.1,287.6 635.3,288.4 635.6,286.7 635.8,286.6 636.1,285.0 636.3,285.9 636.6,285.6 636.8,286.6 637.1,287.9 637.3,285.0 637.6,285.6 637.8,285.2 638.1,286.1 638.3,284.4 638.6,285.8 638.8,285.0 639.1,285.4 639.3,283.0 639.6,286.1 639.8,285.9 640.1,285.1 640.3,283.9 640.6,283.3 640.8,283.0 641.1,283.5 641.3,282.8 641.6,281.4 641.8,281.9 642.1,284.1 642.3,283.1 642.6,285.4 642.8,282.7 643.1,285.3 643.3,285.9 643.6,283.1 643.8,284.8 644.1,285.2 644.3,284.1 644.6,286.0 644.8,283.9 645.1,286.2 645.3,284.9 645.6,285.3 645.8,285.9 646.1,287.7 646.3,285.8 646.6,286.2 646.8,287.2 647.1,286.5 647.3,288.5 647.6,287.8 647.8,286.8 648.1,287.5 648.3,287.0 648.6,289.0 648.8,286.5 649.1,288.1 649.3,287.8 649.6,284.8 649.8,288.5 650.1,287.8 650.3,286.2 650.6,286.5 650.8,286.5 651.1,286.2 651.3,285.7 651.6,285.6 651.8,287.4 652.1,285.6 652.3,286.7 652.6,286.6 652.8,287.3 653.1,288.5 653.3,285.4 653.6,287.0 653.8,285.0 654.1,287.6 654.3,287.4 654.6,285.9 654.8,286.3 655.1,286.4 655.3,285.9 655.6,287.2 655.8,284.9 656.1,287.1 656.3,284.2 656.6,288.3 656.8,283.3 657.1,284.3 657.3,284.8 657.6,283.6 657.8,286.8 658.1,285.0 658.3,285.2 658.6,283.3 658.8,284.8 659.1,283.0 659.3,284.6 659.6,282.9 659.8,286.4 660.1,285.6 660.3,284.0 660.6,285.1 660.8,283.4 661.1,285.5 661.3,284.6 661.6,284.5 661.8,284.6 662.1,285.2 662.3,285.9 662.6,282.1 662.8,282.6 663.1,283.2 663.3,284.6 663.6,283.4 663.8,281.6 664.1,283.9 664.3,284.7 664.6,283.6 664.8,280.6 665.1,281.1 665.3,281.8 665.6,283.4 665.8,281.9 666.1,282.6 666.3,280.0 666.6,280.8 666.8,280.3 667.1,283.2 667.3,282.5 667.6,281.3 667.8,282.7 668.1,282.1 668.3,281.6 668.6,282.2 668.8,281.5 669.1,280.2 669.3,285.3 669.6,283.2 669.8,283.2 670.1,278.4 670.3,281.0 670.6,281.2 670.8,280.6 671.1,280.1 671.3,280.9 671.6,280.6 671.8,282.2 672.1,280.6 672.3,284.6 672.6,278.1 672.8,278.9 673.1,279.1 673.3,278.5 673.6,280.5 673.8,279.4 674.1,280.4 674.3,278.6 674.6,277.0 674.8,277.5 675.1,277.5 675.3,276.3 675.6,277.4 675.8,278.3 676.1,278.4 676.3,279.7 676.6,278.7 676.8,279.2 677.1,277.2 677.3,279.8 677.6,279.6 677.8,280.7 678.1,281.3 678.3,282.4 678.6,280.4 678.8,282.4 679.1,281.6 679.3,279.3 679.6,279.6 679.8,282.5 680.1,280.7 680.3,279.8 680.6,279.2 680.8,279.3 681.1,280.9 681.3,281.2 681.6,281.5 681.8,281.7 682.1,281.1 682.3,281.7 682.6,279.6 682.8,281.1 683.1,279.8 683.3,281.6 683.6,279.6 683.8,280.9 684.1,279.4 684.3,280.5 684.6,277.7 684.8,278.0 685.1,278.0 685.3,278.5 685.6,278.9 685.8,275.9 686.1,273.7 686.3,277.3 686.6,278.4 686.8,274.1 687.1,274.7 687.3,277.6 687.6,274.8 687.8,273.5 688.1,276.1 688.3,274.2 688.6,279.4 688.8,275.5 689.1,278.1 689.3,278.5 689.6,279.3 689.8,280.6 690.1,277.4 690.3,279.7 690.6,279.0 690.8,281.7 691.1,282.1 691.3,283.2 691.6,280.6 691.8,281.6 692.1,280.3 692.3,282.6 692.6,280.3 692.8,279.4 693.1,279.9 693.3,282.5 693.6,282.4 693.8,281.7 694.1,281.7 694.3,280.6 694.6,281.8 694.8,281.8 695.1,281.3 695.3,280.7 695.6,279.6 695.8,281.2 696.1,283.6 696.3,282.0 696.6,282.0 696.8,283.1 697.1,279.9 697.3,283.0 697.6,280.2 697.8,281.3 698.1,280.0 698.3,280.4 698.6,281.2 698.8,281.1 699.1,281.0 699.3,279.2 699.6,280.1 699.8,280.8 700.1,279.8 700.3,279.4 700.6,280.6 700.8,275.8 701.1,280.7 701.3,278.1 701.6,277.4 701.8,280.7 702.1,280.7 702.3,279.5 702.6,278.9 702.8,279.8 703.1,281.8 703.3,279.1 703.6,279.8 703.8,280.2 704.1,279.4 704.3,279.0 704.6,279.3 704.8,281.9 705.1,278.6 705.3,280.2 705.6,280.8 705.8,278.3 706.1,281.3 706.3,279.8 706.6,280.2 706.8,281.3 707.1,280.2 707.3,280.5 707.6,281.0 707.8,277.6 708.1,279.7 708.3,281.7 708.6,279.7 708.8,281.7 709.1,280.4 709.3,281.6 709.6,282.2 709.8,281.7 710.1,286.9 710.3,281.4 710.6,279.0 710.8,283.4 711.1,281.3 711.3,282.1 711.6,281.2 711.8,280.2 712.1,285.3 712.3,283.2 712.6,282.4 712.8,283.6 713.1,280.2 713.3,284.6 713.6,281.0 713.8,284.3 714.1,284.3 714.3,282.9 714.6,284.8 714.8,283.4 715.1,281.8 715.3,282.5 715.6,284.1 715.8,284.4 716.1,283.3 716.3,284.4 716.6,282.8 716.8,283.1 717.1,284.2 717.3,281.6 717.6,282.2 717.8,280.1 718.1,280.3 718.3,282.9 718.6,280.2 718.8,280.0 719.1,279.8 719.3,280.5 719.6,281.5 719.8,281.5 720.1,280.9 720.3,281.9 720.6,280.0 720.8,283.4 721.1,284.5 721.3,283.9 721.6,285.7 721.8,285.7 722.1,285.3 722.3,285.1 722.6,286.1 722.8,287.4 723.1,286.8 723.3,284.2 723.6,287.1 723.8,285.7 724.1,286.8 724.3,288.4 724.6,286.9 724.8,284.7 725.1,286.4 725.3,287.1 725.6,287.9 725.8,287.6 726.1,285.6 726.3,286.1 726.6,288.8 726.8,287.3 727.1,287.2" fill="none" stroke="#ee1010" stroke-width="1.0" stroke-opacity="1" stroke-linejoin="round"></polyline>
<path d="M527.1 315.8h0.8M527.3 317.1h0.8M527.4 318.2h0.8M527.6 310.6h0.8M527.7 316.7h0.8M527.9 312.3h0.8M528.1 318.7h0.8M528.2 316.5h0.8M528.4 317.9h0.8M528.5 313.2h0.8M528.7 314.5h0.8M528.9 313.2h0.8M529.0 311.7h0.8M529.2 314.5h0.8M529.3 310.8h0.8M529.5 310.4h0.8M529.7 314.2h0.8M529.8 311.7h0.8M530.0 311.5h0.8M530.1 317.0h0.8M530.3 311.3h0.8M530.5 307.3h0.8M530.6 311.0h0.8M530.8 307.1h0.8M530.9 310.3h0.8M531.1 307.8h0.8M531.3 313.0h0.8M531.4 310.6h0.8M531.6 307.0h0.8M531.7 309.6h0.8M531.9 311.1h0.8M532.1 306.7h0.8M532.2 305.3h0.8M532.4 313.0h0.8M532.5 303.5h0.8M532.7 306.2h0.8M532.9 308.4h0.8M533.0 309.1h0.8M533.2 305.2h0.8M533.3 300.2h0.8M533.5 305.0h0.8M533.7 303.2h0.8M533.8 304.8h0.8M534.0 306.4h0.8M534.1 304.0h0.8M534.3 304.6h0.8M534.5 303.0h0.8M534.6 307.1h0.8M534.8 306.2h0.8M534.9 304.1h0.8M535.1 301.1h0.8M535.3 303.7h0.8M535.4 304.5h0.8M535.6 301.3h0.8M535.7 301.6h0.8M535.9 305.4h0.8M536.1 302.5h0.8M536.2 302.5h0.8M536.4 303.9h0.8M536.5 302.7h0.8M536.7 303.0h0.8M536.9 297.6h0.8M537.0 305.1h0.8M537.2 299.9h0.8M537.3 300.4h0.8M537.5 303.8h0.8M537.7 302.8h0.8M537.8 299.7h0.8M538.0 303.2h0.8M538.1 305.6h0.8M538.3 300.6h0.8M538.5 305.5h0.8M538.6 306.9h0.8M538.8 297.6h0.8M538.9 300.3h0.8M539.1 304.2h0.8M539.3 296.0h0.8M539.4 301.2h0.8M539.6 305.2h0.8M539.7 305.0h0.8M539.9 300.8h0.8M540.1 296.0h0.8M540.2 306.2h0.8M540.4 303.5h0.8M540.5 301.6h0.8M540.7 301.6h0.8M540.9 296.6h0.8M541.0 299.5h0.8M541.2 298.4h0.8M541.3 306.2h0.8M541.5 300.5h0.8M541.7 302.4h0.8M541.8 301.6h0.8M542.0 303.3h0.8M542.1 304.1h0.8M542.3 303.0h0.8M542.5 298.1h0.8M542.6 294.9h0.8M542.8 303.4h0.8M542.9 302.9h0.8M543.1 304.5h0.8M543.3 302.3h0.8M543.4 304.5h0.8M543.6 303.3h0.8M543.7 299.7h0.8M543.9 300.9h0.8M544.1 300.3h0.8M544.2 304.6h0.8M544.4 308.2h0.8M544.5 305.1h0.8M544.7 304.2h0.8M544.9 305.1h0.8M545.0 304.8h0.8M545.2 302.6h0.8M545.3 300.4h0.8M545.5 298.7h0.8M545.7 300.2h0.8M545.8 301.2h0.8M546.0 305.5h0.8M546.1 304.9h0.8M546.3 307.9h0.8M546.5 308.0h0.8M546.6 305.4h0.8M546.8 306.1h0.8M546.9 308.9h0.8M547.1 306.5h0.8M547.3 307.9h0.8M547.4 304.3h0.8M547.6 301.2h0.8M547.7 305.3h0.8M547.9 304.0h0.8M548.1 306.8h0.8M548.2 305.2h0.8M548.4 307.6h0.8M548.5 302.7h0.8M548.7 311.0h0.8M548.9 310.9h0.8M549.0 307.0h0.8M549.2 305.1h0.8M549.3 307.2h0.8M549.5 309.0h0.8M549.7 307.9h0.8M549.8 307.5h0.8M550.0 304.1h0.8M550.1 305.5h0.8M550.3 312.1h0.8M550.5 308.8h0.8M550.6 306.0h0.8M550.8 307.7h0.8M550.9 306.0h0.8M551.1 307.8h0.8M551.3 311.7h0.8M551.4 309.2h0.8M551.6 313.6h0.8M551.7 311.4h0.8M551.9 307.6h0.8M552.1 308.8h0.8M552.2 316.8h0.8M552.4 311.8h0.8M552.5 307.2h0.8M552.7 315.6h0.8M552.9 312.5h0.8M553.0 313.4h0.8M553.2 316.8h0.8M553.3 307.9h0.8M553.5 315.7h0.8M553.7 310.4h0.8M553.8 310.2h0.8M554.0 312.6h0.8M554.1 316.3h0.8M554.3 314.2h0.8M554.5 310.0h0.8M554.6 311.2h0.8M554.8 318.2h0.8M554.9 316.2h0.8M555.1 314.4h0.8M555.3 321.1h0.8M555.4 316.5h0.8M555.6 312.3h0.8M555.7 313.9h0.8M555.9 316.2h0.8M556.1 319.9h0.8M556.2 317.9h0.8M556.4 316.7h0.8M556.5 314.8h0.8M556.7 313.2h0.8M556.9 318.1h0.8M557.0 316.6h0.8M557.2 319.7h0.8M557.3 316.8h0.8M557.5 318.2h0.8M557.7 316.1h0.8M557.8 316.0h0.8M558.0 319.5h0.8M558.1 317.5h0.8M558.3 317.9h0.8M558.5 321.8h0.8M558.6 320.8h0.8M558.8 317.9h0.8M558.9 321.7h0.8M559.1 321.5h0.8M559.3 322.4h0.8M559.4 322.2h0.8M559.6 320.0h0.8M559.7 317.3h0.8M559.9 320.5h0.8M560.1 321.1h0.8M560.2 317.8h0.8M560.4 317.5h0.8M560.5 320.9h0.8M560.7 318.5h0.8M560.9 318.3h0.8M561.0 316.0h0.8M561.2 316.8h0.8M561.3 313.7h0.8M561.5 315.6h0.8M561.7 315.5h0.8M561.8 319.4h0.8M562.0 317.3h0.8M562.1 314.2h0.8M562.3 312.2h0.8M562.5 317.7h0.8M562.6 316.3h0.8M562.8 317.6h0.8M562.9 313.1h0.8M563.1 312.2h0.8M563.3 313.4h0.8M563.4 311.5h0.8M563.6 309.4h0.8M563.7 311.3h0.8M563.9 304.8h0.8M564.1 309.3h0.8M564.2 311.4h0.8M564.4 308.8h0.8M564.5 311.1h0.8M564.7 308.5h0.8M564.9 310.0h0.8M565.0 312.1h0.8M565.2 309.4h0.8M565.3 308.5h0.8M565.5 314.9h0.8M565.7 308.2h0.8M565.8 306.8h0.8M566.0 307.1h0.8M566.1 309.5h0.8M566.3 307.5h0.8M566.5 308.4h0.8M566.6 309.4h0.8M566.8 307.2h0.8M566.9 308.6h0.8M567.1 304.3h0.8M567.3 304.2h0.8M567.4 307.1h0.8M567.6 310.2h0.8M567.7 309.5h0.8M567.9 310.4h0.8M568.1 311.6h0.8M568.2 308.7h0.8M568.4 315.3h0.8M568.5 309.2h0.8M568.7 309.5h0.8M568.9 309.1h0.8M569.0 311.6h0.8M569.2 310.6h0.8M569.3 309.5h0.8M569.5 313.4h0.8M569.7 314.9h0.8M569.8 311.5h0.8M570.0 311.4h0.8M570.1 313.5h0.8M570.3 314.4h0.8M570.5 314.8h0.8M570.6 310.7h0.8M570.8 312.5h0.8M570.9 315.3h0.8M571.1 308.6h0.8M571.3 317.9h0.8M571.4 315.3h0.8M571.6 314.5h0.8M571.7 317.5h0.8M571.9 314.3h0.8M572.1 310.3h0.8M572.2 312.6h0.8M572.4 312.6h0.8M572.5 313.7h0.8M572.7 311.9h0.8M572.9 311.5h0.8M573.0 311.9h0.8M573.2 310.0h0.8M573.3 309.4h0.8M573.5 310.8h0.8M573.7 309.4h0.8M573.8 309.8h0.8M574.0 309.3h0.8M574.1 309.9h0.8M574.3 309.8h0.8M574.5 310.4h0.8M574.6 311.9h0.8M574.8 307.5h0.8M574.9 310.2h0.8M575.1 311.0h0.8M575.3 306.7h0.8M575.4 312.2h0.8M575.6 309.7h0.8M575.7 303.9h0.8M575.9 308.6h0.8M576.1 310.8h0.8M576.2 306.7h0.8M576.4 313.9h0.8M576.5 310.2h0.8M576.7 305.4h0.8M576.9 311.6h0.8M577.0 309.4h0.8M577.2 303.8h0.8M577.3 304.1h0.8M577.5 310.5h0.8M577.7 306.6h0.8M577.8 310.5h0.8M578.0 311.3h0.8M578.1 309.1h0.8M578.3 309.3h0.8M578.5 314.5h0.8M578.6 312.9h0.8M578.8 314.2h0.8M578.9 310.0h0.8M579.1 310.4h0.8M579.3 309.3h0.8M579.4 314.5h0.8M579.6 311.8h0.8M579.7 309.7h0.8M579.9 308.3h0.8M580.1 311.2h0.8M580.2 309.6h0.8M580.4 311.1h0.8M580.5 312.4h0.8M580.7 313.9h0.8M580.9 313.2h0.8M581.0 311.2h0.8M581.2 313.4h0.8M581.3 316.7h0.8M581.5 311.9h0.8M581.7 309.6h0.8M581.8 316.3h0.8M582.0 313.4h0.8M582.1 321.5h0.8M582.3 312.3h0.8M582.5 315.5h0.8M582.6 314.7h0.8M582.8 318.3h0.8M582.9 315.8h0.8M583.1 312.6h0.8M583.3 313.1h0.8M583.4 317.7h0.8M583.6 316.5h0.8M583.7 316.9h0.8M583.9 322.1h0.8M584.1 319.8h0.8M584.2 321.6h0.8M584.4 317.8h0.8M584.5 321.2h0.8M584.7 316.9h0.8M584.9 318.4h0.8M585.0 321.0h0.8M585.2 322.7h0.8M585.3 321.9h0.8M585.5 321.4h0.8M585.7 318.3h0.8M585.8 320.6h0.8M586.0 322.3h0.8M586.1 319.9h0.8M586.3 319.6h0.8M586.5 321.3h0.8M586.6 319.2h0.8M586.8 320.5h0.8M586.9 323.1h0.8M587.1 321.2h0.8M587.3 324.6h0.8M587.4 322.0h0.8M587.6 322.6h0.8M587.7 325.6h0.8M587.9 318.1h0.8M588.1 323.6h0.8M588.2 321.7h0.8M588.4 322.5h0.8M588.5 323.0h0.8M588.7 323.5h0.8M588.9 323.9h0.8M589.0 325.0h0.8M589.2 322.3h0.8M589.3 321.1h0.8M589.5 321.7h0.8M589.7 323.1h0.8M589.8 323.0h0.8M590.0 321.2h0.8M590.1 321.4h0.8M590.3 320.8h0.8M590.5 322.8h0.8M590.6 321.9h0.8M590.8 320.5h0.8M590.9 322.6h0.8M591.1 320.5h0.8M591.3 320.1h0.8M591.4 321.5h0.8M591.6 318.7h0.8M591.7 318.2h0.8M591.9 320.2h0.8M592.1 322.2h0.8M592.2 319.2h0.8M592.4 320.8h0.8M592.5 319.1h0.8M592.7 319.5h0.8M592.9 318.9h0.8M593.0 319.2h0.8M593.2 319.6h0.8M593.3 322.8h0.8M593.5 319.7h0.8M593.7 319.3h0.8M593.8 320.1h0.8M594.0 318.7h0.8M594.1 320.2h0.8M594.3 318.0h0.8M594.5 321.4h0.8M594.6 317.7h0.8M594.8 318.1h0.8M594.9 319.2h0.8M595.1 318.6h0.8M595.3 318.3h0.8M595.4 317.7h0.8M595.6 319.2h0.8M595.7 316.6h0.8M595.9 320.7h0.8M596.1 317.4h0.8M596.2 317.4h0.8M596.4 318.1h0.8M596.5 318.9h0.8M596.7 319.1h0.8M596.9 316.9h0.8M597.0 319.0h0.8M597.2 319.8h0.8M597.3 319.2h0.8M597.5 319.4h0.8M597.7 316.9h0.8M597.8 319.0h0.8M598.0 318.1h0.8M598.1 316.8h0.8M598.3 317.8h0.8M598.5 317.5h0.8M598.6 317.6h0.8M598.8 316.5h0.8M598.9 319.5h0.8M599.1 318.6h0.8M599.3 317.6h0.8M599.4 317.6h0.8M599.6 319.3h0.8M599.7 318.6h0.8M599.9 317.2h0.8M600.1 318.4h0.8M600.2 318.0h0.8M600.4 317.4h0.8M600.5 320.6h0.8M600.7 320.6h0.8M600.9 321.7h0.8M601.0 323.1h0.8M601.2 320.7h0.8M601.3 316.6h0.8M601.5 320.0h0.8M601.7 319.6h0.8M601.8 317.4h0.8M602.0 316.6h0.8M602.1 319.5h0.8M602.3 320.6h0.8M602.5 318.8h0.8M602.6 319.0h0.8M602.8 321.1h0.8M602.9 317.2h0.8M603.1 320.0h0.8M603.3 320.3h0.8M603.4 318.9h0.8M603.6 321.4h0.8M603.7 320.3h0.8M603.9 318.1h0.8M604.1 322.6h0.8M604.2 316.6h0.8M604.4 320.3h0.8M604.5 320.1h0.8M604.7 321.4h0.8M604.9 319.6h0.8M605.0 318.3h0.8M605.2 319.5h0.8M605.3 320.1h0.8M605.5 318.0h0.8M605.7 315.6h0.8M605.8 318.7h0.8M606.0 318.1h0.8M606.1 319.4h0.8M606.3 319.4h0.8M606.5 320.8h0.8M606.6 320.6h0.8M606.8 319.6h0.8M606.9 319.7h0.8M607.1 316.7h0.8M607.3 319.0h0.8M607.4 318.7h0.8M607.6 319.6h0.8M607.7 321.5h0.8M607.9 320.3h0.8M608.1 320.3h0.8M608.2 317.2h0.8M608.4 318.7h0.8M608.5 316.8h0.8M608.7 320.8h0.8M608.9 321.3h0.8M609.0 319.2h0.8M609.2 319.6h0.8M609.3 320.3h0.8M609.5 321.4h0.8M609.7 318.0h0.8M609.8 319.9h0.8M610.0 321.9h0.8M610.1 319.2h0.8M610.3 321.8h0.8M610.5 321.6h0.8M610.6 318.4h0.8M610.8 320.5h0.8M610.9 320.0h0.8M611.1 319.8h0.8M611.3 320.4h0.8M611.4 321.6h0.8M611.6 321.0h0.8M611.7 318.9h0.8M611.9 319.7h0.8M612.1 319.8h0.8M612.2 320.3h0.8M612.4 318.6h0.8M612.5 318.8h0.8M612.7 321.8h0.8M612.9 318.6h0.8M613.0 321.2h0.8M613.2 319.7h0.8M613.3 319.5h0.8M613.5 320.4h0.8M613.7 319.9h0.8M613.8 322.3h0.8M614.0 319.7h0.8M614.1 320.0h0.8M614.3 320.4h0.8M614.5 321.8h0.8M614.6 322.3h0.8M614.8 320.5h0.8M614.9 319.0h0.8M615.1 322.1h0.8M615.3 322.3h0.8M615.4 320.2h0.8M615.6 321.1h0.8M615.7 319.9h0.8M615.9 320.8h0.8M616.1 319.7h0.8M616.2 322.0h0.8M616.4 319.5h0.8M616.5 318.6h0.8M616.7 321.5h0.8M616.9 322.6h0.8M617.0 321.3h0.8M617.2 320.3h0.8M617.3 319.8h0.8M617.5 320.0h0.8M617.7 320.2h0.8M617.8 317.1h0.8M618.0 320.9h0.8M618.1 321.2h0.8M618.3 319.5h0.8M618.5 321.2h0.8M618.6 319.2h0.8M618.8 319.2h0.8M618.9 320.2h0.8M619.1 317.7h0.8M619.3 320.9h0.8M619.4 318.9h0.8M619.6 319.9h0.8M619.7 321.9h0.8M619.9 318.7h0.8M620.1 319.9h0.8M620.2 320.5h0.8M620.4 322.3h0.8M620.5 319.6h0.8M620.7 322.0h0.8M620.9 320.6h0.8M621.0 321.8h0.8M621.2 320.1h0.8M621.3 319.2h0.8M621.5 319.5h0.8M621.7 322.7h0.8M621.8 319.2h0.8M622.0 321.0h0.8M622.1 321.1h0.8M622.3 318.5h0.8M622.5 319.0h0.8M622.6 319.1h0.8M622.8 320.2h0.8M622.9 321.3h0.8M623.1 319.8h0.8M623.3 319.9h0.8M623.4 318.6h0.8M623.6 318.9h0.8M623.7 320.2h0.8M623.9 320.1h0.8M624.1 319.6h0.8M624.2 318.0h0.8M624.4 319.3h0.8M624.5 317.6h0.8M624.7 321.5h0.8M624.9 318.6h0.8M625.0 320.4h0.8M625.2 319.9h0.8M625.3 321.2h0.8M625.5 320.2h0.8M625.7 318.6h0.8M625.8 318.2h0.8M626.0 319.5h0.8M626.1 319.1h0.8M626.3 316.1h0.8M626.5 318.6h0.8M626.6 321.2h0.8M626.8 320.5h0.8M626.9 320.0h0.8M627.1 318.3h0.8M627.3 319.9h0.8M627.4 321.3h0.8M627.6 320.9h0.8M627.7 317.3h0.8M627.9 316.8h0.8M628.1 318.8h0.8M628.2 318.1h0.8M628.4 318.4h0.8M628.5 321.0h0.8M628.7 318.3h0.8M628.9 319.2h0.8M629.0 318.8h0.8M629.2 318.5h0.8M629.3 318.2h0.8M629.5 318.7h0.8M629.7 318.2h0.8M629.8 319.9h0.8M630.0 319.6h0.8M630.1 320.4h0.8M630.3 318.2h0.8M630.5 317.3h0.8M630.6 317.6h0.8M630.8 321.0h0.8M630.9 319.6h0.8M631.1 320.2h0.8M631.3 319.8h0.8M631.4 320.2h0.8M631.6 320.8h0.8M631.7 321.2h0.8M631.9 320.0h0.8M632.1 319.3h0.8M632.2 319.3h0.8M632.4 318.6h0.8M632.5 318.2h0.8M632.7 317.7h0.8M632.9 316.6h0.8M633.0 319.0h0.8M633.2 320.5h0.8M633.3 318.3h0.8M633.5 320.8h0.8M633.7 320.3h0.8M633.8 321.7h0.8M634.0 320.1h0.8M634.1 322.3h0.8M634.3 320.0h0.8M634.5 321.7h0.8M634.6 320.7h0.8M634.8 322.7h0.8M634.9 317.9h0.8M635.1 324.2h0.8M635.3 321.0h0.8M635.4 318.5h0.8M635.6 320.1h0.8M635.7 321.2h0.8M635.9 318.9h0.8M636.1 321.8h0.8M636.2 321.2h0.8M636.4 322.4h0.8M636.5 321.7h0.8M636.7 322.8h0.8M636.9 323.3h0.8M637.0 321.3h0.8M637.2 322.8h0.8M637.3 321.9h0.8M637.5 320.5h0.8M637.7 320.7h0.8M637.8 322.4h0.8M638.0 320.4h0.8M638.1 321.5h0.8M638.3 321.9h0.8M638.5 322.4h0.8M638.6 323.1h0.8M638.8 322.9h0.8M638.9 320.1h0.8M639.1 323.2h0.8M639.3 322.2h0.8M639.4 322.0h0.8M639.6 321.6h0.8M639.7 323.7h0.8M639.9 319.0h0.8M640.1 322.2h0.8M640.2 324.2h0.8M640.4 322.1h0.8M640.5 323.9h0.8M640.7 323.7h0.8M640.9 323.2h0.8M641.0 322.5h0.8M641.2 323.2h0.8M641.3 322.8h0.8M641.5 323.8h0.8M641.7 320.5h0.8M641.8 319.3h0.8M642.0 323.4h0.8M642.1 322.2h0.8M642.3 321.2h0.8M642.5 321.6h0.8M642.6 321.8h0.8M642.8 320.4h0.8M642.9 319.4h0.8M643.1 319.5h0.8M643.3 320.1h0.8M643.4 319.2h0.8M643.6 318.9h0.8M643.7 320.2h0.8M643.9 317.2h0.8M644.1 317.3h0.8M644.2 318.6h0.8M644.4 318.5h0.8M644.5 316.8h0.8M644.7 316.6h0.8M644.9 318.4h0.8M645.0 319.0h0.8M645.2 320.4h0.8M645.3 314.9h0.8M645.5 316.5h0.8M645.7 317.4h0.8M645.8 316.0h0.8M646.0 318.1h0.8M646.1 316.9h0.8M646.3 317.8h0.8M646.5 316.0h0.8M646.6 320.0h0.8M646.8 317.6h0.8M646.9 318.1h0.8M647.1 319.5h0.8M647.3 317.4h0.8M647.4 316.9h0.8M647.6 319.9h0.8M647.7 317.2h0.8M647.9 319.3h0.8M648.1 316.2h0.8M648.2 319.4h0.8M648.4 319.7h0.8M648.5 318.5h0.8M648.7 321.3h0.8M648.9 323.8h0.8M649.0 324.5h0.8M649.2 320.1h0.8M649.3 323.9h0.8M649.5 324.5h0.8M649.7 321.8h0.8M649.8 322.6h0.8M650.0 323.8h0.8M650.1 325.6h0.8M650.3 325.3h0.8M650.5 322.2h0.8M650.6 324.7h0.8M650.8 324.3h0.8M650.9 322.1h0.8M651.1 324.7h0.8M651.3 325.2h0.8M651.4 323.1h0.8M651.6 324.3h0.8M651.7 325.3h0.8M651.9 324.1h0.8M652.1 321.3h0.8M652.2 323.6h0.8M652.4 321.6h0.8M652.5 324.0h0.8M652.7 322.3h0.8M652.9 323.6h0.8M653.0 320.1h0.8M653.2 323.4h0.8M653.3 322.4h0.8M653.5 325.1h0.8M653.7 321.6h0.8M653.8 323.2h0.8M654.0 324.1h0.8M654.1 321.5h0.8M654.3 321.4h0.8M654.5 323.9h0.8M654.6 325.2h0.8M654.8 322.5h0.8M654.9 324.1h0.8M655.1 325.1h0.8M655.3 324.1h0.8M655.4 322.3h0.8M655.6 324.1h0.8M655.7 322.6h0.8M655.9 324.6h0.8M656.1 324.6h0.8M656.2 322.6h0.8M656.4 323.2h0.8M656.5 322.7h0.8M656.7 323.1h0.8M656.9 322.5h0.8M657.0 321.1h0.8M657.2 324.0h0.8M657.3 324.1h0.8M657.5 322.0h0.8M657.7 324.5h0.8M657.8 322.5h0.8M658.0 320.4h0.8M658.1 323.7h0.8M658.3 324.8h0.8M658.5 321.7h0.8M658.6 323.7h0.8M658.8 324.8h0.8M658.9 323.9h0.8M659.1 322.0h0.8M659.3 324.3h0.8M659.4 324.0h0.8M659.6 324.6h0.8M659.7 324.9h0.8M659.9 323.5h0.8M660.1 323.1h0.8M660.2 324.3h0.8M660.4 325.0h0.8M660.5 324.2h0.8M660.7 323.5h0.8M660.9 323.0h0.8M661.0 325.7h0.8M661.2 326.9h0.8M661.3 325.1h0.8M661.5 324.8h0.8M661.7 326.2h0.8M661.8 322.5h0.8M662.0 321.7h0.8M662.1 324.2h0.8M662.3 324.5h0.8M662.5 324.7h0.8M662.6 325.3h0.8M662.8 323.6h0.8M662.9 323.0h0.8M663.1 325.3h0.8M663.3 326.6h0.8M663.4 322.6h0.8M663.6 323.7h0.8M663.7 325.9h0.8M663.9 324.7h0.8M664.1 326.2h0.8M664.2 324.2h0.8M664.4 323.7h0.8M664.5 324.3h0.8M664.7 322.9h0.8M664.9 325.7h0.8M665.0 323.0h0.8M665.2 326.0h0.8M665.3 325.0h0.8M665.5 324.4h0.8M665.7 324.9h0.8M665.8 325.4h0.8M666.0 323.5h0.8M666.1 325.9h0.8M666.3 323.8h0.8M666.5 325.5h0.8M666.6 325.6h0.8M666.8 322.8h0.8M666.9 321.1h0.8M667.1 330.2h0.8M667.3 324.8h0.8M667.4 323.4h0.8M667.6 324.6h0.8M667.7 325.7h0.8M667.9 320.4h0.8M668.1 325.9h0.8M668.2 324.5h0.8M668.4 324.8h0.8M668.5 324.5h0.8M668.7 326.4h0.8M668.9 324.0h0.8M669.0 323.7h0.8M669.2 324.0h0.8M669.3 324.8h0.8M669.5 327.0h0.8M669.7 323.0h0.8M669.8 324.1h0.8M670.0 324.3h0.8M670.1 325.9h0.8M670.3 324.1h0.8M670.5 326.0h0.8M670.6 325.3h0.8M670.8 327.0h0.8M670.9 321.8h0.8M671.1 323.3h0.8M671.3 322.5h0.8M671.4 323.8h0.8M671.6 327.1h0.8M671.7 324.6h0.8M671.9 326.3h0.8M672.1 324.4h0.8M672.2 324.2h0.8M672.4 324.7h0.8M672.5 323.8h0.8M672.7 324.1h0.8M672.9 325.8h0.8M673.0 323.6h0.8M673.2 325.8h0.8M673.3 326.0h0.8M673.5 325.4h0.8M673.7 324.5h0.8M673.8 324.1h0.8M674.0 323.9h0.8M674.1 323.7h0.8M674.3 322.8h0.8M674.5 326.2h0.8M674.6 323.4h0.8M674.8 322.7h0.8M674.9 324.0h0.8M675.1 324.6h0.8M675.3 324.0h0.8M675.4 325.0h0.8M675.6 324.5h0.8M675.7 324.8h0.8M675.9 324.7h0.8M676.1 323.9h0.8M676.2 325.4h0.8M676.4 323.6h0.8M676.5 323.7h0.8M676.7 326.0h0.8M676.9 322.6h0.8M677.0 323.7h0.8M677.2 324.7h0.8M677.3 323.7h0.8M677.5 325.1h0.8M677.7 325.8h0.8M677.8 324.3h0.8M678.0 323.2h0.8M678.1 323.5h0.8M678.3 325.5h0.8M678.5 325.7h0.8M678.6 322.0h0.8M678.8 327.0h0.8M678.9 326.7h0.8M679.1 325.7h0.8M679.3 323.8h0.8M679.4 325.0h0.8M679.6 324.4h0.8M679.7 325.1h0.8M679.9 326.1h0.8M680.1 326.7h0.8M680.2 324.9h0.8M680.4 322.9h0.8M680.5 326.1h0.8M680.7 324.5h0.8M680.9 325.5h0.8M681.0 325.4h0.8M681.2 324.9h0.8M681.3 320.6h0.8M681.5 325.0h0.8M681.7 326.9h0.8M681.8 326.1h0.8M682.0 324.1h0.8M682.1 326.1h0.8M682.3 325.4h0.8M682.5 326.2h0.8M682.6 327.6h0.8M682.8 327.4h0.8M682.9 323.4h0.8M683.1 325.4h0.8M683.3 326.5h0.8M683.4 326.2h0.8M683.6 324.2h0.8M683.7 326.6h0.8M683.9 326.3h0.8M684.1 326.2h0.8M684.2 325.4h0.8M684.4 324.3h0.8M684.5 324.5h0.8M684.7 327.7h0.8M684.9 326.3h0.8M685.0 327.0h0.8M685.2 328.4h0.8M685.3 326.0h0.8M685.5 326.5h0.8M685.7 327.2h0.8M685.8 327.8h0.8M686.0 327.7h0.8M686.1 327.8h0.8M686.3 325.3h0.8M686.5 324.3h0.8M686.6 325.8h0.8M686.8 326.8h0.8M686.9 325.2h0.8M687.1 327.1h0.8M687.3 326.3h0.8M687.4 327.8h0.8M687.6 326.6h0.8M687.7 327.0h0.8M687.9 326.2h0.8M688.1 327.2h0.8M688.2 325.3h0.8M688.4 328.0h0.8M688.5 326.0h0.8M688.7 325.3h0.8M688.9 328.4h0.8M689.0 326.6h0.8M689.2 327.5h0.8M689.3 323.7h0.8M689.5 327.0h0.8M689.7 326.4h0.8M689.8 327.5h0.8M690.0 328.7h0.8M690.1 326.4h0.8M690.3 323.7h0.8M690.5 325.6h0.8M690.6 326.2h0.8M690.8 325.1h0.8M690.9 326.2h0.8M691.1 325.6h0.8M691.3 326.5h0.8M691.4 325.1h0.8M691.6 325.8h0.8M691.7 326.0h0.8M691.9 326.6h0.8M692.1 326.1h0.8M692.2 324.8h0.8M692.4 326.9h0.8M692.5 328.1h0.8M692.7 328.4h0.8M692.9 326.2h0.8M693.0 325.4h0.8M693.2 325.2h0.8M693.3 325.3h0.8M693.5 324.1h0.8M693.7 323.0h0.8M693.8 325.5h0.8M694.0 325.5h0.8M694.1 326.1h0.8M694.3 324.9h0.8M694.5 322.9h0.8M694.6 324.1h0.8M694.8 325.6h0.8M694.9 325.8h0.8M695.1 324.2h0.8M695.3 326.5h0.8M695.4 324.6h0.8M695.6 324.7h0.8M695.7 324.8h0.8M695.9 325.2h0.8M696.1 325.4h0.8M696.2 322.7h0.8M696.4 325.8h0.8M696.5 326.6h0.8M696.7 324.2h0.8M696.9 327.0h0.8M697.0 328.2h0.8M697.2 324.0h0.8M697.3 324.8h0.8M697.5 321.4h0.8M697.7 325.6h0.8M697.8 323.8h0.8M698.0 325.4h0.8M698.1 323.8h0.8M698.3 326.1h0.8M698.5 326.6h0.8M698.6 326.3h0.8M698.8 324.6h0.8M698.9 326.3h0.8M699.1 325.1h0.8M699.3 323.6h0.8M699.4 325.0h0.8M699.6 323.6h0.8M699.7 323.8h0.8M699.9 324.3h0.8M700.1 324.6h0.8M700.2 323.5h0.8M700.4 325.6h0.8M700.5 323.5h0.8M700.7 325.1h0.8M700.9 324.8h0.8M701.0 324.2h0.8M701.2 325.3h0.8M701.3 324.8h0.8M701.5 324.4h0.8M701.7 323.7h0.8M701.8 322.9h0.8M702.0 323.7h0.8M702.1 324.8h0.8M702.3 325.1h0.8M702.5 324.0h0.8M702.6 326.0h0.8M702.8 323.4h0.8M702.9 323.1h0.8M703.1 327.7h0.8M703.3 324.6h0.8M703.4 326.7h0.8M703.6 322.9h0.8M703.7 323.2h0.8M703.9 324.0h0.8M704.1 323.4h0.8M704.2 323.5h0.8M704.4 323.4h0.8M704.5 323.4h0.8M704.7 324.3h0.8M704.9 323.6h0.8M705.0 321.0h0.8M705.2 324.6h0.8M705.3 319.1h0.8M705.5 323.0h0.8M705.7 323.4h0.8M705.8 323.7h0.8M706.0 322.1h0.8M706.1 325.8h0.8M706.3 323.4h0.8M706.5 324.5h0.8M706.6 325.2h0.8M706.8 323.1h0.8M706.9 322.7h0.8M707.1 322.4h0.8M707.3 325.0h0.8M707.4 324.2h0.8M707.6 325.8h0.8M707.7 324.6h0.8M707.9 320.4h0.8M708.1 323.5h0.8M708.2 322.5h0.8M708.4 322.5h0.8M708.5 324.6h0.8M708.7 324.9h0.8M708.9 323.1h0.8M709.0 326.7h0.8M709.2 323.0h0.8M709.3 321.7h0.8M709.5 325.8h0.8M709.7 324.7h0.8M709.8 323.5h0.8M710.0 323.3h0.8M710.1 325.9h0.8M710.3 325.6h0.8M710.5 324.0h0.8M710.6 325.5h0.8M710.8 324.6h0.8M710.9 323.0h0.8M711.1 321.2h0.8M711.3 323.0h0.8M711.4 323.0h0.8M711.6 323.4h0.8M711.7 323.9h0.8M711.9 322.7h0.8M712.1 323.8h0.8M712.2 326.4h0.8M712.4 326.8h0.8M712.5 324.1h0.8M712.7 326.0h0.8M712.9 324.7h0.8M713.0 322.7h0.8M713.2 325.0h0.8M713.3 322.7h0.8M713.5 322.0h0.8M713.7 324.5h0.8M713.8 321.4h0.8M714.0 323.3h0.8M714.1 324.9h0.8M714.3 322.1h0.8M714.5 322.1h0.8M714.6 321.0h0.8M714.8 325.0h0.8M714.9 324.1h0.8M715.1 323.0h0.8M715.3 321.0h0.8M715.4 322.6h0.8M715.6 321.8h0.8M715.7 321.3h0.8M715.9 322.9h0.8M716.1 324.0h0.8M716.2 323.7h0.8M716.4 321.5h0.8M716.5 320.9h0.8M716.7 324.8h0.8M716.9 321.8h0.8M717.0 321.8h0.8M717.2 323.6h0.8M717.3 322.7h0.8M717.5 322.8h0.8M717.7 322.5h0.8M717.8 323.8h0.8M718.0 320.8h0.8M718.1 323.3h0.8M718.3 322.7h0.8M718.5 323.6h0.8M718.6 321.8h0.8M718.8 323.8h0.8M718.9 324.0h0.8M719.1 321.5h0.8M719.3 322.6h0.8M719.4 323.5h0.8M719.6 323.9h0.8M719.7 323.7h0.8M719.9 323.4h0.8M720.1 324.5h0.8M720.2 324.7h0.8M720.4 321.3h0.8M720.5 323.7h0.8M720.7 324.7h0.8M720.9 323.7h0.8M721.0 325.3h0.8M721.2 325.0h0.8M721.3 322.6h0.8M721.5 321.8h0.8M721.7 325.0h0.8M721.8 321.9h0.8M722.0 320.8h0.8M722.1 323.2h0.8M722.3 320.3h0.8M722.5 319.5h0.8M722.6 320.6h0.8M722.8 320.2h0.8M722.9 318.0h0.8M723.1 320.8h0.8M723.3 320.4h0.8M723.4 316.7h0.8M723.6 318.4h0.8M723.7 318.4h0.8M723.9 317.9h0.8M724.1 316.2h0.8M724.2 317.6h0.8M724.4 315.6h0.8M724.5 316.2h0.8M724.7 316.6h0.8M724.9 317.3h0.8M725.0 313.9h0.8M725.2 317.0h0.8M725.3 314.8h0.8M725.5 315.1h0.8M725.7 312.6h0.8M725.8 313.0h0.8M726.0 313.1h0.8M726.1 312.5h0.8M726.3 313.4h0.8M726.5 314.7h0.8M726.6 312.0h0.8M726.8 314.7h0.8M726.9 313.2h0.8M727.1 314.0h0.8M727.3 313.5h0.8" stroke="#1818e0" stroke-width="1.1" fill="none"></path>
<polyline points="585.0,319.4 585.2,321.4 585.3,321.2 585.5,321.0 585.7,321.4 585.8,322.2 586.0,321.4 586.1,320.7 586.3,321.3 586.5,320.5 586.6,321.2 586.8,321.9 586.9,321.2 587.1,322.0 587.3,321.6 587.4,320.9 587.6,320.9 587.7,323.2 587.9,322.7 588.1,323.7 588.2,322.9 588.4,322.9 588.5,323.0 588.7,322.3 588.9,323.9 589.0,323.5 589.2,322.8 589.3,321.2 589.5,321.6 589.7,322.2 589.8,323.1 590.0,321.8 590.1,321.7 590.3,322.1 590.5,321.6 590.6,321.2 590.8,320.1 590.9,322.4 591.1,321.0 591.3,320.4 591.4,320.7 591.6,319.4 591.7,318.9 591.9,318.7 592.1,320.8 592.2,319.0 592.4,320.3 592.5,318.9 592.7,318.2 592.9,319.3 593.0,319.1 593.2,319.1 593.3,321.5 593.5,319.9 593.7,319.1 593.8,320.5 594.0,319.3 594.1,320.8 594.3,318.0 594.5,320.6 594.6,318.4 594.8,318.7 594.9,319.6 595.1,318.3 595.3,317.6 595.4,318.8 595.6,318.9 595.7,317.5 595.9,320.1 596.1,318.3 596.2,318.4 596.4,318.8 596.5,319.0 596.7,320.0 596.9,316.7 597.0,318.8 597.2,319.7 597.3,319.0 597.5,318.6 597.7,317.6 597.8,319.0 598.0,318.1 598.1,318.7 598.3,317.5 598.5,318.2 598.6,318.3 598.8,316.9 598.9,319.4 599.1,318.3 599.3,317.2 599.4,318.2 599.6,318.6 599.7,318.2 599.9,317.6 600.1,318.4 600.2,317.3 600.4,317.1 600.5,319.9 600.7,320.5 600.9,320.7 601.0,321.1 601.2,320.3 601.3,318.0 601.5,318.4 601.7,320.1 601.8,318.6 602.0,318.8 602.1,319.1 602.3,319.6 602.5,317.9 602.6,319.3 602.8,319.8 602.9,317.3 603.1,320.5 603.3,320.2 603.4,318.7 603.6,321.3 603.7,320.0 603.9,320.1 604.1,321.2 604.2,317.1 604.4,319.7 604.5,320.8 604.7,321.2 604.9,319.8 605.0,319.7 605.2,319.1 605.3,319.5 605.5,319.0 605.7,317.5 605.8,319.3 606.0,318.9 606.1,319.3 606.3,319.4 606.5,319.4 606.6,320.0 606.8,319.8 606.9,319.5 607.1,319.3 607.3,319.8 607.4,319.6 607.6,319.7 607.7,321.3 607.9,320.1 608.1,319.5 608.2,317.8 608.4,318.4 608.5,316.9 608.7,320.8 608.9,321.0 609.0,319.5 609.2,319.4 609.3,320.4 609.5,320.4 609.7,318.1 609.8,319.6 610.0,319.6 610.1,318.6 610.3,321.3 610.5,320.6 610.6,319.3 610.8,319.8 610.9,319.3 611.1,319.4 611.3,319.5 611.4,320.9 611.6,319.9 611.7,319.5 611.9,319.3 612.1,320.3 612.2,319.2 612.4,318.4 612.5,319.9 612.7,321.7 612.9,319.5 613.0,320.3 613.2,320.0 613.3,321.4 613.5,320.7 613.7,319.0 613.8,322.0 614.0,320.3 614.1,319.4 614.3,319.8 614.5,320.4 614.6,321.5 614.8,320.1 614.9,319.7 615.1,321.8 615.3,322.1 615.4,320.2 615.6,320.7 615.7,320.9 615.9,320.3 616.1,319.7 616.2,321.7 616.4,319.6 616.5,318.8 616.7,321.3 616.9,321.9 617.0,321.6 617.2,320.0 617.3,320.5 617.5,319.7 617.7,320.2 617.8,318.2 618.0,319.8 618.1,322.0 618.3,319.5 618.5,322.3 618.6,320.8 618.8,318.6 618.9,321.5 619.1,319.6 619.3,321.0 619.4,320.3 619.6,320.1 619.7,320.2 619.9,319.1 620.1,319.6 620.2,319.9 620.4,322.1 620.5,319.7 620.7,320.6 620.9,320.7 621.0,321.5 621.2,320.0 621.3,320.4 621.5,319.2 621.7,322.7 621.8,318.6 622.0,320.3 622.1,319.7 622.3,320.2 622.5,319.5 622.6,319.5 622.8,321.0 622.9,320.9 623.1,319.9 623.3,319.8 623.4,320.1 623.6,319.8 623.7,320.2 623.9,320.5 624.1,320.2 624.2,318.1 624.4,319.6 624.5,318.5 624.7,320.0 624.9,319.2 625.0,319.8 625.2,319.3 625.3,320.3 625.5,320.7 625.7,319.5 625.8,317.8 626.0,319.2 626.1,321.2 626.3,318.5 626.5,319.0 626.6,321.5 626.8,320.7 626.9,319.6 627.1,319.2 627.3,317.6 627.4,320.5 627.6,319.8 627.7,317.1 627.9,318.6 628.1,318.6 628.2,318.6 628.4,318.0 628.5,321.1 628.7,317.7 628.9,320.0 629.0,319.1 629.2,318.5 629.3,318.9 629.5,319.1 629.7,317.7 629.8,318.2 630.0,319.8 630.1,319.6 630.3,319.2 630.5,317.7 630.6,317.3 630.8,320.5 630.9,320.6 631.1,319.7 631.3,319.7 631.4,319.0 631.6,319.9 631.7,320.7 631.9,320.3 632.1,319.1 632.2,320.1 632.4,319.3 632.5,319.8 632.7,318.9 632.9,317.7 633.0,319.1 633.2,320.4 633.3,319.5 633.5,320.9 633.7,319.9 633.8,320.8 634.0,320.2 634.1,322.1 634.3,320.4 634.5,320.9 634.6,322.1 634.8,322.5 634.9,319.9 635.1,322.7 635.3,320.2 635.4,320.4 635.6,320.6 635.7,322.5 635.9,320.4 636.1,322.1 636.2,322.0 636.4,321.4 636.5,322.1 636.7,323.8 636.9,323.4 637.0,321.0 637.2,322.1 637.3,321.5 637.5,321.8 637.7,321.4 637.8,322.5 638.0,321.2 638.1,320.8 638.3,322.2 638.5,322.5 638.6,323.4 638.8,322.9 638.9,321.4 639.1,321.4 639.3,322.7 639.4,322.7 639.6,323.2 639.7,323.8 639.9,320.3 640.1,321.9 640.2,323.1 640.4,321.6 640.5,324.3 640.7,322.6 640.9,323.4 641.0,322.6 641.2,323.2 641.3,323.3 641.5,323.5 641.7,321.6 641.8,320.8 642.0,322.3 642.1,322.9 642.3,321.5 642.5,321.3 642.6,322.2 642.8,321.5 642.9,319.6 643.1,320.4 643.3,319.7 643.4,319.6 643.6,319.2 643.7,319.5 643.9,318.6 644.1,318.6 644.2,318.0 644.4,317.4 644.5,316.7 644.7,317.3 644.9,317.4 645.0,318.6 645.2,319.5 645.3,316.5 645.5,316.6 645.7,318.4 645.8,317.0 646.0,317.6 646.1,316.3 646.3,318.2 646.5,316.3 646.6,318.8 646.8,317.0 646.9,318.2 647.1,319.0 647.3,317.3 647.4,318.1 647.6,320.4 647.7,317.0 647.9,318.8 648.1,317.3 648.2,320.2 648.4,320.2 648.5,319.9 648.7,320.4 648.9,323.4 649.0,323.4 649.2,322.1 649.3,324.7 649.5,322.9 649.7,323.0 649.8,324.2 650.0,323.7 650.1,324.3 650.3,324.8 650.5,323.0 650.6,324.2 650.8,323.9 650.9,321.9 651.1,324.3 651.3,324.5 651.4,322.1 651.6,323.1 651.7,324.4 651.9,324.3 652.1,323.0 652.2,323.1 652.4,323.0 652.5,322.0 652.7,323.3 652.9,325.3 653.0,321.7 653.2,323.1 653.3,322.2 653.5,324.6 653.7,321.4 653.8,323.9 654.0,323.4 654.1,322.2 654.3,322.7 654.5,323.1 654.6,324.8 654.8,323.4 654.9,324.3 655.1,324.2 655.3,323.3 655.4,323.2 655.6,323.2 655.7,324.9 655.9,324.6 656.1,324.3 656.2,322.7 656.4,323.1 656.5,324.1 656.7,323.2 656.9,322.1 657.0,321.9 657.2,323.9 657.3,324.3 657.5,324.0 657.7,325.1 657.8,322.0 658.0,321.8 658.1,323.7 658.3,324.5 658.5,322.8 658.6,323.9 658.8,324.0 658.9,323.3 659.1,322.9 659.3,323.4 659.4,323.7 659.6,324.5 659.7,323.5 659.9,322.9 660.1,322.8 660.2,323.5 660.4,324.5 660.5,323.1 660.7,323.6 660.9,324.6 661.0,324.3 661.2,326.2 661.3,324.6 661.5,324.8 661.7,326.3 661.8,322.4 662.0,322.5 662.1,323.5 662.3,324.4 662.5,325.5 662.6,325.1 662.8,323.9 662.9,323.0 663.1,324.8 663.3,324.2 663.4,323.6 663.6,323.3 663.7,325.3 663.9,324.3 664.1,324.9 664.2,324.6 664.4,324.0 664.5,324.3 664.7,324.2 664.9,324.7 665.0,324.2 665.2,325.5 665.3,323.9 665.5,325.2 665.7,325.1 665.8,325.6 666.0,322.0 666.1,325.7 666.3,325.4 666.5,324.6 666.6,324.7 666.8,324.6 666.9,323.5 667.1,327.9 667.3,324.7 667.4,325.3 667.6,323.7 667.7,324.4 667.9,322.5 668.1,324.7 668.2,323.9 668.4,324.8 668.5,325.2 668.7,326.1 668.9,324.8 669.0,323.6 669.2,324.2 669.3,325.2 669.5,326.5 669.7,322.2 669.8,323.4 670.0,323.9 670.1,324.4 670.3,325.2 670.5,325.9 670.6,325.1 670.8,325.9 670.9,323.8 671.1,323.7 671.3,322.8 671.4,323.6 671.6,325.1 671.7,324.4 671.9,326.4 672.1,324.0 672.2,323.3 672.4,324.9 672.5,322.3 672.7,325.2 672.9,324.7 673.0,323.0 673.2,324.9 673.3,324.6 673.5,325.7 673.7,324.2 673.8,323.9 674.0,324.5 674.1,324.3 674.3,323.4 674.5,325.4 674.6,325.5 674.8,323.8 674.9,324.0 675.1,323.5 675.3,324.1 675.4,323.9 675.6,324.6 675.7,325.3 675.9,326.1 676.1,323.7 676.2,323.9 676.4,323.5 676.5,324.6 676.7,325.5 676.9,323.8 677.0,324.7 677.2,323.7 677.3,323.3 677.5,324.2 677.7,325.6 677.8,324.4 678.0,323.0 678.1,323.8 678.3,324.5 678.5,326.8 678.6,323.7 678.8,327.7 678.9,325.9 679.1,326.2 679.3,325.9 679.4,322.4 679.6,325.2 679.7,325.3 679.9,325.6 680.1,326.4 680.2,325.0 680.4,324.3 680.5,325.6 680.7,325.3 680.9,325.6 681.0,324.8 681.2,325.2 681.3,322.2 681.5,325.5 681.7,326.4 681.8,325.4 682.0,325.3 682.1,326.0 682.3,325.1 682.5,325.2 682.6,327.2 682.8,327.2 682.9,323.7 683.1,324.9 683.3,325.9 683.4,326.4 683.6,324.4 683.7,325.1 683.9,326.3 684.1,326.9 684.2,324.8 684.4,325.4 684.5,325.5 684.7,326.9 684.9,326.3 685.0,326.2 685.2,327.7 685.3,326.7 685.5,326.0 685.7,327.5 685.8,327.6 686.0,327.5 686.1,327.9 686.3,326.5 686.5,324.0 686.6,325.7 686.8,326.3 686.9,326.1 687.1,327.0 687.3,326.5 687.4,328.2 687.6,326.8 687.7,327.2 687.9,327.4 688.1,327.7 688.2,325.7 688.4,327.6 688.5,326.1 688.7,324.1 688.9,327.9 689.0,326.4 689.2,327.3 689.3,325.0 689.5,326.7 689.7,325.3 689.8,328.4 690.0,327.5 690.1,325.9 690.3,323.5 690.5,326.0 690.6,326.2 690.8,325.8 690.9,326.2 691.1,325.5 691.3,326.4 691.4,326.2 691.6,325.0 691.7,326.6 691.9,326.3 692.1,325.5 692.2,325.0 692.4,324.7 692.5,328.0 692.7,328.0 692.9,326.4 693.0,325.1 693.2,326.3 693.3,324.7 693.5,324.4 693.7,323.4 693.8,324.9 694.0,324.7 694.1,326.5 694.3,325.8 694.5,324.7 694.6,325.0 694.8,325.2 694.9,325.2 695.1,325.3 695.3,326.4 695.4,323.7 695.6,325.4 695.7,325.3 695.9,326.0 696.1,325.1 696.2,324.3 696.4,325.9 696.5,326.2 696.7,324.3 696.9,326.1 697.0,327.6 697.2,324.5 697.3,325.6 697.5,322.3 697.7,325.1 697.8,323.9 698.0,325.3 698.1,324.6 698.3,325.1 698.5,325.9 698.6,325.7 698.8,325.6 698.9,324.0 699.1,324.4 699.3,324.5 699.4,324.1 699.6,323.7 699.7,324.5 699.9,325.0 700.1,324.2 700.2,323.2 700.4,325.4 700.5,323.7 700.7,326.0 700.9,324.5 701.0,324.5 701.2,325.5 701.3,324.3 701.5,322.9 701.7,324.2 701.8,322.0 702.0,324.4 702.1,324.1 702.3,324.5 702.5,323.9 702.6,325.8 702.8,324.0 702.9,323.4 703.1,326.9 703.3,323.9 703.4,324.7 703.6,323.8 703.7,323.6 703.9,323.9 704.1,323.4 704.2,324.0 704.4,323.8 704.5,323.5 704.7,323.2 704.9,323.7 705.0,321.6 705.2,324.4 705.3,321.4 705.5,323.7 705.7,324.0 705.8,323.4 706.0,324.1 706.1,326.0 706.3,324.3 706.5,323.7 706.6,324.5 706.8,323.5 706.9,322.3 707.1,323.4 707.3,324.8 707.4,324.0 707.6,324.8 707.7,325.0 707.9,322.3 708.1,322.8 708.2,323.4 708.4,323.0 708.5,324.9 708.7,323.4 708.9,323.2 709.0,325.7 709.2,322.9 709.3,322.9 709.5,325.4 709.7,324.3 709.8,324.0 710.0,324.6 710.1,323.4 710.3,323.7 710.5,323.6 710.6,325.1 710.8,323.8 710.9,322.5 711.1,322.5 711.3,324.2 711.4,322.3 711.6,322.2 711.7,323.0 711.9,321.9 712.1,323.8 712.2,325.6 712.4,325.4 712.5,323.6 712.7,324.9 712.9,323.6 713.0,323.4 713.2,324.0 713.3,323.3 713.5,322.8 713.7,323.1 713.8,322.9 714.0,323.5 714.1,324.1 714.3,321.8 714.5,322.5 714.6,321.8 714.8,324.6 714.9,323.6 715.1,323.1 715.3,321.9 715.4,323.8 715.6,321.8 715.7,321.3 715.9,322.2 716.1,324.2 716.2,322.9 716.4,322.6 716.5,322.4 716.7,324.0 716.9,322.2 717.0,322.5 717.2,323.7 717.3,323.8 717.5,323.1 717.7,323.7 717.8,323.6 718.0,321.3 718.1,323.3 718.3,322.7 718.5,323.2 718.6,323.3 718.8,323.7 718.9,324.3 719.1,322.5 719.3,322.8 719.4,323.0 719.6,323.5 719.7,322.0 719.9,323.6 720.1,324.4 720.2,323.0 720.4,321.8 720.5,324.4 720.7,325.1 720.9,324.2 721.0,325.3 721.2,324.9 721.3,323.3 721.5,322.7 721.7,325.0 721.8,323.0 722.0,321.5 722.1,322.9 722.3,320.4 722.5,320.4 722.6,321.8 722.8,321.1 722.9,319.2 723.1,320.3 723.3,319.8 723.4,316.4 723.6,318.1 723.7,318.8 723.9,317.7 724.1,316.1 724.2,317.6 724.4,316.0 724.5,317.1 724.7,316.4 724.9,316.9 725.0,314.8 725.2,317.2 725.3,314.9 725.5,314.6 725.7,314.1 725.8,314.3 726.0,314.3 726.1,313.6 726.3,314.3 726.5,314.0 726.6,313.0 726.8,312.9 726.9,312.9 727.1,313.4 727.3,313.5" fill="none" stroke="#1818e0" stroke-width="1.0" stroke-opacity="1" stroke-linejoin="round"></polyline>
<polyline points="527.1,318.3 527.6,315.4 528.1,316.4 528.5,314.2 529.0,313.3 529.5,311.2 530.0,312.4 530.5,308.5 530.9,311.1 531.4,310.5 531.9,306.8 532.4,307.8 532.9,307.0 533.3,305.3 533.8,305.6 534.3,304.0 534.8,303.0 535.3,302.2 535.7,302.6 536.2,303.2 536.7,303.0 537.2,299.5 537.7,302.2 538.1,300.8 538.6,302.4 539.1,302.6 539.6,302.5 540.1,299.9 540.5,299.9 541.0,302.5 541.5,302.3 542.0,302.1 542.5,300.7 542.9,302.3 543.4,305.8 543.9,303.0 544.4,303.8 544.9,304.6 545.3,301.0 545.8,303.9 546.3,305.5 546.8,303.9 547.3,305.6 547.7,305.0 548.2,306.2 548.7,306.6 549.2,307.0 549.7,307.0 550.1,307.9 550.6,309.2 551.1,309.9 551.6,311.2 552.1,310.2 552.5,309.4 553.0,313.4 553.5,314.8 554.0,314.3 554.5,313.9 554.9,314.0 555.4,317.3 555.9,314.2 556.4,317.7 556.9,318.3 557.3,319.6 557.8,318.6 558.3,320.5 558.8,320.7 559.3,319.3 559.7,318.8 560.2,317.5 560.7,318.3 561.2,316.4 561.7,315.2 562.1,314.2 562.6,313.3 563.1,311.8 563.6,311.2 564.1,311.9 564.5,309.9 565.0,311.3 565.5,309.6 566.0,308.3 566.5,306.3 566.9,309.4 567.4,308.6 567.9,308.7 568.4,310.8 568.9,310.0 569.3,311.0 569.8,311.7 570.3,312.3 570.8,311.9 571.3,315.3 571.7,312.7 572.2,312.7 572.7,312.1 573.2,311.7 573.7,310.5 574.1,311.7 574.6,309.5 575.1,311.1 575.6,309.3 576.1,308.8 576.5,309.9 577.0,310.1 577.5,310.0 578.0,310.5 578.5,310.7 578.9,310.8 579.4,311.0 579.9,310.9 580.4,311.0 580.9,312.9 581.3,312.8 581.8,313.0 582.3,313.3 582.8,317.5 583.3,317.3 583.7,318.2 584.2,319.3 584.7,317.4 585.2,321.4 585.7,321.4" fill="none" stroke="#1818e0" stroke-width="0.7" stroke-opacity="0.75" stroke-linejoin="round"></polyline>
<polygon points="527.5,339.3 527.9,339.9 528.3,339.9 528.7,339.3 529.1,338.7 529.5,339.5 529.9,339.0 530.3,340.3 530.7,339.6 531.1,339.6 531.5,339.2 531.9,339.6 532.3,339.2 532.7,339.0 533.1,339.6 533.5,338.9 533.9,339.4 534.3,339.8 534.7,339.7 535.1,339.1 535.5,339.7 535.9,338.9 536.3,340.0 536.7,339.4 537.1,338.6 537.5,339.3 537.9,339.9 538.3,339.6 538.7,339.7 539.1,339.6 539.5,338.5 539.9,339.7 540.3,338.8 540.7,339.6 541.1,339.5 541.5,339.4 541.9,339.0 542.3,339.2 542.7,339.4 543.1,339.6 543.5,339.1 543.9,339.3 544.3,339.5 544.7,339.4 545.1,339.8 545.5,339.9 545.9,339.4 546.3,340.1 546.7,338.9 547.1,339.8 547.5,339.6 547.9,340.0 548.3,339.3 548.7,340.3 549.1,339.4 549.5,339.5 549.9,339.3 550.3,340.3 550.7,339.8 551.1,339.0 551.5,339.8 551.9,339.0 552.3,340.7 552.7,339.2 553.1,339.5 553.5,340.1 553.9,339.0 554.3,338.9 554.7,339.4 555.1,339.5 555.5,339.9 555.9,340.1 556.3,339.6 556.7,339.5 557.1,340.1 557.5,339.2 557.9,340.1 558.3,339.9 558.7,339.6 559.1,339.3 559.5,339.4 559.9,339.8 560.3,338.6 560.7,339.9 561.1,339.3 561.5,339.5 561.9,339.7 562.3,339.1 562.7,338.7 563.1,339.1 563.5,339.5 563.9,339.5 564.3,339.0 564.7,339.3 565.1,338.4 565.5,340.2 565.9,338.4 566.3,339.6 566.7,339.7 567.1,339.0 567.5,339.8 567.9,340.0 568.3,339.7 568.7,338.1 569.1,339.7 569.5,339.3 569.9,339.4 570.3,339.4 570.7,339.0 571.1,340.2 571.5,339.7 571.9,339.5 572.3,338.5 572.7,339.4 573.1,338.8 573.5,340.1 573.9,340.4 574.3,339.5 574.7,340.3 575.1,339.1 575.5,339.4 575.9,339.5 576.3,339.7 576.7,339.2 577.1,339.2 577.5,339.8 577.9,339.4 578.3,338.4 578.7,339.6 579.1,339.7 579.5,338.9 579.9,339.8 580.3,339.1 580.7,339.6 581.1,339.4 581.5,339.9 581.9,339.4 582.3,339.2 582.7,339.3 583.1,339.1 583.5,339.3 583.9,339.1 584.3,339.6 584.7,339.4 585.1,339.5 585.5,339.5 585.9,339.4 586.3,339.8 586.7,339.7 587.1,339.4 587.5,339.9 587.9,339.5 588.3,338.6 588.7,339.7 589.1,339.1 589.5,339.7 589.9,340.1 590.3,339.0 590.7,339.4 591.1,339.4 591.5,339.3 591.9,339.4 592.3,339.4 592.7,340.0 593.1,338.7 593.5,338.9 593.9,339.6 594.3,339.2 594.7,339.8 595.1,339.2 595.5,338.9 595.9,340.2 596.3,340.5 596.7,338.6 597.1,339.1 597.5,339.7 597.9,339.8 598.3,340.0 598.7,340.0 599.1,339.9 599.5,340.0 599.9,339.4 600.3,339.1 600.7,339.4 601.1,340.1 601.5,339.3 601.9,340.0 602.3,339.1 602.7,340.1 603.1,339.8 603.5,339.1 603.9,340.4 604.3,338.7 604.7,338.7 605.1,339.4 605.5,339.2 605.9,339.7 606.3,339.2 606.7,339.8 607.1,339.3 607.5,339.6 607.9,339.9 608.3,340.7 608.7,339.6 609.1,339.3 609.5,339.4 609.9,339.4 610.3,339.0 610.7,339.8 611.1,339.8 611.5,339.6 611.9,339.4 612.3,340.3 612.7,339.6 613.1,339.8 613.5,339.9 613.9,339.8 614.3,339.4 614.7,338.8 615.1,339.3 615.5,338.9 615.9,339.5 616.3,339.2 616.7,339.4 617.1,339.6 617.5,339.0 617.9,339.4 618.3,338.3 618.7,339.8 619.1,339.5 619.5,339.4 619.9,339.2 620.3,338.9 620.7,339.8 621.1,339.3 621.5,339.4 621.9,339.8 622.3,339.5 622.7,339.1 623.1,339.6 623.5,338.9 623.9,339.2 624.3,339.5 624.7,338.7 625.1,339.3 625.5,339.3 625.9,339.4 626.3,339.1 626.7,339.5 627.1,338.8 627.5,339.7 627.9,339.8 628.3,339.9 628.7,339.7 629.1,339.5 629.5,339.7 629.9,339.6 630.3,339.4 630.7,339.2 631.1,339.2 631.5,339.3 631.9,339.5 632.3,339.5 632.7,338.3 633.1,339.2 633.5,338.4 633.9,339.7 634.3,339.5 634.7,339.3 635.1,339.7 635.5,339.4 635.9,339.1 636.3,340.5 636.7,339.6 637.1,339.3 637.5,338.9 637.9,339.4 638.3,340.1 638.7,339.0 639.1,339.5 639.5,340.0 639.9,339.2 640.3,339.1 640.7,338.6 641.1,338.6 641.5,339.6 641.9,339.7 642.3,340.0 642.7,339.8 643.1,339.8 643.5,339.4 643.9,339.6 644.3,338.9 644.7,339.5 645.1,339.6 645.5,339.4 645.9,339.3 646.3,339.8 646.7,339.3 647.1,339.3 647.5,339.6 647.9,339.6 648.3,339.0 648.7,339.3 649.1,339.8 649.5,339.1 649.9,339.0 650.3,339.2 650.7,339.1 651.1,340.5 651.5,339.2 651.9,339.4 652.3,340.4 652.7,338.7 653.1,338.6 653.5,339.2 653.9,340.0 654.3,338.8 654.7,340.0 655.1,339.1 655.5,339.7 655.9,338.4 656.3,339.9 656.7,339.8 657.1,339.5 657.5,340.6 657.9,339.3 658.3,339.8 658.7,340.0 659.1,339.6 659.5,339.5 659.9,338.7 660.3,339.6 660.7,339.5 661.1,339.0 661.5,339.7 661.9,339.3 662.3,340.0 662.7,339.4 663.1,339.6 663.5,339.0 663.9,339.2 664.3,338.9 664.7,338.8 665.1,339.0 665.5,340.1 665.9,339.1 666.3,339.5 666.7,339.2 667.1,339.2 667.5,339.8 667.9,339.9 668.3,339.3 668.7,339.3 669.1,339.4 669.5,339.3 669.9,339.0 670.3,339.7 670.7,340.4 671.1,339.3 671.5,339.9 671.9,338.3 672.3,339.7 672.7,339.7 673.1,339.8 673.5,339.4 673.9,339.7 674.3,339.5 674.7,338.4 675.1,339.5 675.5,339.0 675.9,339.7 676.3,340.0 676.7,339.0 677.1,339.8 677.5,339.9 677.9,339.2 678.3,339.8 678.7,338.6 679.1,340.6 679.5,339.1 679.9,339.5 680.3,340.0 680.7,338.9 681.1,339.2 681.5,339.4 681.9,339.6 682.3,338.6 682.7,338.9 683.1,339.4 683.5,339.7 683.9,339.1 684.3,338.5 684.7,339.7 685.1,339.4 685.5,339.9 685.9,339.8 686.3,339.5 686.7,339.2 687.1,339.1 687.5,340.2 687.9,339.4 688.3,340.0 688.7,340.0 689.1,339.1 689.5,340.1 689.9,339.0 690.3,339.1 690.7,340.1 691.1,339.4 691.5,340.0 691.9,339.2 692.3,340.2 692.7,340.0 693.1,339.7 693.5,339.6 693.9,338.8 694.3,339.5 694.7,339.3 695.1,340.4 695.5,339.6 695.9,340.3 696.3,339.4 696.7,339.4 697.1,339.5 697.5,339.5 697.9,339.0 698.3,339.1 698.7,339.4 699.1,339.0 699.5,339.6 699.9,339.4 700.3,339.8 700.7,339.5 701.1,339.4 701.5,339.4 701.9,339.4 702.3,339.7 702.7,339.5 703.1,339.0 703.5,338.8 703.9,338.6 704.3,339.1 704.7,338.8 705.1,339.1 705.5,339.6 705.9,340.3 706.3,339.5 706.7,340.3 707.1,339.3 707.5,339.6 707.9,339.2 708.3,339.2 708.7,340.0 709.1,338.9 709.5,339.8 709.9,340.3 710.3,340.4 710.7,339.7 711.1,339.5 711.5,339.9 711.9,338.9 712.3,339.2 712.7,339.6 713.1,339.5 713.5,339.2 713.9,339.8 714.3,339.3 714.7,339.2 715.1,340.0 715.5,339.8 715.9,339.9 716.3,338.7 716.7,339.0 717.1,339.1 717.5,339.6 717.9,339.6 718.3,339.7 718.7,339.5 719.1,340.0 719.5,338.6 719.9,339.7 720.3,338.9 720.7,339.4 721.1,339.4 721.5,339.3 721.9,339.9 722.3,340.1 722.7,339.2 723.1,339.1 723.5,339.1 723.9,339.6 724.3,339.5 724.7,339.5 725.1,339.9 725.5,338.7 725.9,339.5 726.3,338.7 726.7,339.5 727.1,339.2 727.5,339.9 727.9,339.0 727.9,361.3 727.5,363.6 727.1,362.9 726.7,361.3 726.3,362.1 725.9,363.2 725.5,363.5 725.1,361.8 724.7,362.9 724.3,362.2 723.9,362.2 723.5,362.8 723.1,361.8 722.7,361.1 722.3,363.0 721.9,363.1 721.5,361.5 721.1,362.9 720.7,364.2 720.3,363.5 719.9,363.2 719.5,362.4 719.1,362.4 718.7,360.3 718.3,362.4 717.9,361.9 717.5,362.1 717.1,362.2 716.7,363.3 716.3,362.9 715.9,362.5 715.5,361.5 715.1,362.2 714.7,362.9 714.3,363.5 713.9,362.4 713.5,363.1 713.1,361.8 712.7,362.6 712.3,361.9 711.9,361.3 711.5,361.2 711.1,362.5 710.7,362.7 710.3,361.4 709.9,363.0 709.5,360.9 709.1,363.4 708.7,362.8 708.3,361.2 707.9,361.3 707.5,362.4 707.1,362.7 706.7,363.5 706.3,362.5 705.9,363.1 705.5,363.4 705.1,362.1 704.7,362.8 704.3,360.9 703.9,362.6 703.5,360.5 703.1,361.5 702.7,364.0 702.3,361.9 701.9,361.7 701.5,360.5 701.1,362.9 700.7,362.3 700.3,362.2 699.9,363.4 699.5,361.5 699.1,362.1 698.7,361.8 698.3,361.0 697.9,363.5 697.5,362.6 697.1,362.7 696.7,361.5 696.3,361.5 695.9,362.4 695.5,361.2 695.1,362.8 694.7,363.0 694.3,361.9 693.9,362.3 693.5,363.4 693.1,362.2 692.7,362.4 692.3,362.8 691.9,362.7 691.5,362.6 691.1,364.0 690.7,361.9 690.3,361.7 689.9,362.1 689.5,362.4 689.1,362.7 688.7,361.4 688.3,363.0 687.9,362.8 687.5,363.7 687.1,361.8 686.7,362.1 686.3,363.4 685.9,362.8 685.5,362.4 685.1,362.2 684.7,362.8 684.3,362.2 683.9,361.8 683.5,362.5 683.1,362.4 682.7,361.8 682.3,360.7 681.9,361.8 681.5,362.1 681.1,362.5 680.7,363.4 680.3,362.3 679.9,361.8 679.5,361.8 679.1,363.8 678.7,361.6 678.3,361.7 677.9,361.8 677.5,363.0 677.1,363.5 676.7,360.9 676.3,363.9 675.9,362.5 675.5,362.3 675.1,362.9 674.7,362.3 674.3,362.0 673.9,362.0 673.5,361.9 673.1,362.6 672.7,360.6 672.3,362.1 671.9,362.5 671.5,364.4 671.1,361.0 670.7,360.4 670.3,362.2 669.9,362.3 669.5,362.3 669.1,361.0 668.7,362.1 668.3,362.3 667.9,362.8 667.5,362.9 667.1,362.4 666.7,362.5 666.3,361.0 665.9,362.4 665.5,362.5 665.1,362.6 664.7,362.9 664.3,362.8 663.9,361.9 663.5,361.8 663.1,362.0 662.7,362.1 662.3,362.6 661.9,360.7 661.5,362.8 661.1,362.3 660.7,363.1 660.3,361.9 659.9,363.2 659.5,361.8 659.1,362.0 658.7,361.8 658.3,361.4 657.9,361.5 657.5,360.1 657.1,361.0 656.7,357.9 656.3,360.4 655.9,359.1 655.5,359.5 655.1,359.3 654.7,358.8 654.3,356.1 653.9,357.4 653.5,357.0 653.1,357.5 652.7,356.8 652.3,355.7 651.9,354.6 651.5,355.2 651.1,352.0 650.7,354.7 650.3,354.6 649.9,355.3 649.5,353.1 649.1,353.5 648.7,351.6 648.3,352.2 647.9,351.2 647.5,349.5 647.1,350.8 646.7,349.3 646.3,349.5 645.9,348.5 645.5,349.8 645.1,348.6 644.7,348.6 644.3,346.6 643.9,346.8 643.5,348.1 643.1,345.3 642.7,345.3 642.3,345.1 641.9,345.2 641.5,343.6 641.1,343.9 640.7,347.3 640.3,343.5 639.9,344.8 639.5,346.1 639.1,344.6 638.7,344.1 638.3,345.5 637.9,346.5 637.5,344.6 637.1,345.1 636.7,343.9 636.3,346.6 635.9,344.0 635.5,350.8 635.1,344.0 634.7,344.9 634.3,345.6 633.9,345.9 633.5,343.7 633.1,344.4 632.7,344.2 632.3,343.7 631.9,347.0 631.5,351.5 631.1,344.4 630.7,344.7 630.3,346.2 629.9,343.8 629.5,346.1 629.1,343.9 628.7,344.2 628.3,344.2 627.9,346.3 627.5,343.9 627.1,346.8 626.7,343.8 626.3,344.8 625.9,344.1 625.5,344.6 625.1,349.0 624.7,345.8 624.3,344.2 623.9,344.4 623.5,347.0 623.1,344.8 622.7,347.4 622.3,344.9 621.9,344.1 621.5,345.6 621.1,344.8 620.7,344.2 620.3,346.9 619.9,345.3 619.5,344.2 619.1,347.8 618.7,345.1 618.3,344.9 617.9,344.0 617.5,344.7 617.1,344.3 616.7,346.1 616.3,345.0 615.9,345.1 615.5,344.5 615.1,346.1 614.7,344.3 614.3,344.7 613.9,346.7 613.5,344.0 613.1,345.1 612.7,344.1 612.3,344.9 611.9,345.6 611.5,344.9 611.1,345.3 610.7,344.5 610.3,344.3 609.9,345.7 609.5,346.1 609.1,344.7 608.7,344.9 608.3,347.0 607.9,345.1 607.5,344.9 607.1,346.0 606.7,344.3 606.3,345.2 605.9,344.5 605.5,345.2 605.1,345.9 604.7,344.9 604.3,346.7 603.9,345.1 603.5,344.3 603.1,344.7 602.7,346.0 602.3,344.8 601.9,344.3 601.5,345.7 601.1,345.4 600.7,347.2 600.3,353.7 599.9,345.1 599.5,344.4 599.1,352.1 598.7,345.9 598.3,346.4 597.9,345.8 597.5,344.7 597.1,344.7 596.7,345.1 596.3,351.6 595.9,346.6 595.5,344.6 595.1,346.5 594.7,344.9 594.3,353.0 593.9,345.4 593.5,345.9 593.1,344.8 592.7,344.7 592.3,345.5 591.9,345.1 591.5,345.0 591.1,346.3 590.7,344.5 590.3,346.0 589.9,346.3 589.5,344.7 589.1,346.7 588.7,346.3 588.3,344.6 587.9,345.3 587.5,345.9 587.1,344.9 586.7,344.7 586.3,345.6 585.9,346.8 585.5,346.6 585.1,344.7 584.7,345.3 584.3,353.1 583.9,345.8 583.5,352.7 583.1,345.0 582.7,348.6 582.3,344.9 581.9,345.8 581.5,347.3 581.1,345.6 580.7,345.1 580.3,345.5 579.9,346.8 579.5,348.8 579.1,346.1 578.7,346.2 578.3,345.3 577.9,346.7 577.5,351.6 577.1,344.8 576.7,347.2 576.3,345.1 575.9,345.5 575.5,345.6 575.1,346.5 574.7,346.1 574.3,345.5 573.9,346.4 573.5,345.7 573.1,345.9 572.7,345.8 572.3,346.5 571.9,346.1 571.5,345.6 571.1,345.2 570.7,346.2 570.3,345.0 569.9,345.2 569.5,345.8 569.1,346.3 568.7,345.3 568.3,348.7 567.9,347.5 567.5,347.0 567.1,347.3 566.7,345.5 566.3,345.6 565.9,346.4 565.5,347.6 565.1,345.5 564.7,346.6 564.3,346.2 563.9,348.4 563.5,346.9 563.1,345.5 562.7,346.0 562.3,345.6 561.9,346.6 561.5,345.2 561.1,345.2 560.7,346.0 560.3,346.8 559.9,345.9 559.5,346.8 559.1,346.3 558.7,346.1 558.3,345.9 557.9,345.6 557.5,352.2 557.1,345.5 556.7,346.0 556.3,345.9 555.9,346.0 555.5,345.5 555.1,346.6 554.7,347.0 554.3,348.1 553.9,347.5 553.5,347.0 553.1,346.3 552.7,346.1 552.3,347.1 551.9,348.9 551.5,345.6 551.1,352.2 550.7,347.6 550.3,345.6 549.9,346.3 549.5,347.2 549.1,346.8 548.7,345.8 548.3,345.5 547.9,346.0 547.5,352.9 547.1,346.3 546.7,345.8 546.3,347.5 545.9,346.9 545.5,347.0 545.1,353.1 544.7,345.5 544.3,346.4 543.9,345.9 543.5,346.5 543.1,348.6 542.7,346.0 542.3,347.2 541.9,347.0 541.5,345.7 541.1,347.3 540.7,346.3 540.3,348.0 539.9,346.5 539.5,346.6 539.1,346.1 538.7,346.4 538.3,346.0 537.9,345.9 537.5,347.1 537.1,349.5 536.7,346.1 536.3,348.8 535.9,346.8 535.5,346.6 535.1,347.9 534.7,347.1 534.3,346.8 533.9,347.0 533.5,346.6 533.1,348.0 532.7,346.6 532.3,347.2 531.9,346.0 531.5,346.9 531.1,346.7 530.7,346.4 530.3,346.7 529.9,346.5 529.5,347.9 529.1,347.1 528.7,346.1 528.3,346.5 527.9,346.7 527.5,346.6" fill="#ff9a1a" stroke="#ff9a1a" stroke-width="0.3"></polygon>
<polyline points="527.1,403.0 527.4,402.8 527.7,401.1 528.0,400.6 528.3,402.0 528.6,402.7 528.9,402.0 529.2,401.0 529.5,401.7 529.8,403.2 530.1,401.1 530.4,402.9 530.7,402.5 531.0,402.5 531.3,402.7 531.6,401.7 531.9,402.1 532.2,403.5 532.5,401.9 532.8,401.8 533.1,401.1 533.4,401.8 533.7,402.7 534.0,403.1 534.3,402.7 534.6,402.6 534.9,402.6 535.2,402.4 535.5,402.9 535.8,402.1 536.1,403.0 536.4,402.1 536.7,401.0 537.0,401.2 537.3,402.1 537.6,401.9 537.9,401.3 538.2,401.6 538.5,402.4 538.8,402.5 539.1,402.9 539.4,401.6 539.7,402.5 540.0,403.0 540.3,402.5 540.6,403.5 540.9,401.9 541.2,402.2 541.5,402.4 541.8,401.9 542.1,402.2 542.4,402.4 542.7,402.2 543.0,401.9 543.3,401.9 543.6,402.2 543.9,401.1 544.2,402.4 544.5,401.5 544.8,402.1 545.1,401.5 545.4,402.4 545.7,402.0 546.0,402.1 546.3,401.7 546.6,402.4 546.9,403.5 547.2,401.0 547.5,402.7 547.8,402.5 548.1,402.0 548.4,401.4 548.7,403.5 549.0,402.5 549.3,403.1 549.6,402.1 549.9,401.8 550.2,403.1 550.5,402.9 550.8,402.1 551.1,402.2 551.4,402.8 551.7,401.8 552.0,401.7 552.3,402.3 552.6,403.1 552.9,403.0 553.2,402.5 553.5,403.4 553.8,402.3 554.1,402.0 554.4,404.1 554.7,402.0 555.0,402.8 555.3,402.8 555.6,402.5 555.9,402.6 556.2,402.9 556.5,402.8 556.8,402.0 557.1,402.4 557.4,403.4 557.7,402.9 558.0,402.0 558.3,402.4 558.6,401.6 558.9,401.4 559.2,401.9 559.5,403.5 559.8,401.9 560.1,400.9 560.4,402.2 560.7,401.8 561.0,402.8 561.3,403.2 561.6,402.0 561.9,402.3 562.2,401.6 562.5,403.1 562.8,401.7 563.1,402.3 563.4,404.0 563.7,401.5 564.0,402.3 564.3,402.2 564.6,402.5 564.9,402.5 565.2,403.3 565.5,402.5 565.8,402.6 566.1,401.3 566.4,402.4 566.7,401.2 567.0,403.0 567.3,402.1 567.6,402.8 567.9,401.8 568.2,402.3 568.5,402.2 568.8,402.5 569.1,402.0 569.4,401.6 569.7,401.8 570.0,401.6 570.3,401.4 570.6,401.2 570.9,401.0 571.2,403.4 571.5,401.5 571.8,401.2 572.1,402.7 572.4,402.2 572.7,401.9 573.0,402.8 573.3,403.3 573.6,401.4 573.9,403.0 574.2,402.4 574.5,402.8 574.8,401.6 575.1,403.2 575.4,402.8 575.7,400.0 576.0,402.8 576.3,402.9 576.6,400.9 576.9,402.1 577.2,401.8 577.5,402.0 577.8,401.2 578.1,402.3 578.4,402.4 578.7,401.8 579.0,401.8 579.3,400.6 579.6,402.2 579.9,400.9 580.2,401.8 580.5,401.2 580.8,403.6 581.1,401.7 581.4,402.7 581.7,401.5 582.0,401.4 582.3,401.9 582.6,401.3 582.9,402.9 583.2,401.0 583.5,402.3 583.8,400.1 584.1,400.3 584.4,401.3 584.7,399.8 585.0,402.1 585.3,401.0 585.6,400.6 585.9,401.8 586.2,400.0 586.5,399.8 586.8,398.4 587.1,398.9 587.4,400.1 587.7,398.8 588.0,400.9 588.3,401.1 588.6,400.7 588.9,399.2 589.2,399.8 589.5,399.4 589.8,401.0 590.1,401.2 590.4,400.3 590.7,400.6 591.0,400.7 591.3,401.1 591.6,399.9 591.9,399.9 592.2,401.2 592.5,401.0 592.8,401.0 593.1,400.7 593.4,401.3 593.7,401.1 594.0,400.3 594.3,402.0 594.6,401.6 594.9,400.6 595.2,400.8 595.5,400.3 595.8,399.8 596.1,400.1 596.4,399.8 596.7,400.4 597.0,401.1 597.3,400.9 597.6,399.8 597.9,400.8 598.2,400.4 598.5,400.1 598.8,401.7 599.1,400.2 599.4,401.6 599.7,399.7 600.0,401.1 600.3,400.4 600.6,401.7 600.9,401.2 601.2,400.4 601.5,401.4 601.8,401.9 602.1,401.9 602.4,402.1 602.7,400.7 603.0,402.6 603.3,400.5 603.6,400.9 603.9,399.9 604.2,400.8 604.5,399.9 604.8,401.1 605.1,399.7 605.4,402.4 605.7,401.6 606.0,402.2 606.3,401.9 606.6,401.2 606.9,401.4 607.2,401.2 607.5,399.7 607.8,400.2 608.1,400.8 608.4,401.8 608.7,400.0 609.0,401.2 609.3,400.6 609.6,401.6 609.9,401.6 610.2,400.3 610.5,400.2 610.8,402.2 611.1,401.9 611.4,401.1 611.7,401.7 612.0,401.2 612.3,401.5 612.6,400.8 612.9,401.5 613.2,402.4 613.5,402.2 613.8,402.1 614.1,401.2 614.4,401.9 614.7,400.8 615.0,400.9 615.3,401.3 615.6,400.4 615.9,401.3 616.2,399.9 616.5,402.4 616.8,401.8 617.1,401.4 617.4,400.7 617.7,400.7 618.0,400.9 618.3,399.9 618.6,400.8 618.9,400.4 619.2,401.7 619.5,402.1 619.8,402.1 620.1,400.0 620.4,400.0 620.7,402.1 621.0,401.6 621.3,401.8 621.6,401.5 621.9,401.1 622.2,402.5 622.5,401.6 622.8,401.4 623.1,400.2 623.4,401.0 623.7,401.9 624.0,401.3 624.3,401.5 624.6,400.7 624.9,401.3 625.2,400.4 625.5,400.6 625.8,401.6 626.1,402.0 626.4,400.5 626.7,400.6 627.0,400.5 627.3,400.5 627.6,400.7 627.9,401.3 628.2,400.9 628.5,400.6 628.8,400.9 629.1,399.3 629.4,400.5 629.7,402.0 630.0,399.8 630.3,400.1 630.6,400.7 630.9,401.3 631.2,400.3 631.5,399.7 631.8,401.6 632.1,398.7 632.4,399.8 632.7,399.9 633.0,398.7 633.3,401.4 633.6,401.8 633.9,399.2 634.2,400.0 634.5,400.1 634.8,400.8 635.1,400.1 635.4,400.7 635.7,400.6 636.0,400.1 636.3,400.2 636.6,401.2 636.9,400.2 637.2,400.5 637.5,400.0 637.8,400.5 638.1,401.2 638.4,400.0 638.7,399.5 639.0,399.3 639.3,400.5 639.6,399.2 639.9,400.0 640.2,401.5 640.5,399.3 640.8,400.1 641.1,398.3 641.4,397.8 641.7,397.1 642.0,394.8 642.3,392.4 642.6,395.7 642.9,396.9 643.2,399.3 643.5,400.8 643.8,399.8 644.1,398.2 644.4,399.7 644.7,398.1 645.0,397.8 645.3,401.0 645.6,398.7 645.9,397.8 646.2,399.4 646.5,399.3 646.8,399.8 647.1,399.3 647.4,399.3 647.7,400.1 648.0,399.4 648.3,398.9 648.6,399.8 648.9,399.1 649.2,400.3 649.5,399.5 649.8,399.4 650.1,399.2 650.4,400.0 650.7,400.3 651.0,399.3 651.3,397.9 651.6,400.2 651.9,399.0 652.2,400.1 652.5,399.1 652.8,399.9 653.1,399.4 653.4,399.0 653.7,398.6 654.0,399.6 654.3,399.8 654.6,398.4 654.9,397.8 655.2,399.9 655.5,401.3 655.8,399.1 656.1,399.5 656.4,398.9 656.7,398.8 657.0,400.9 657.3,398.5 657.6,399.9 657.9,399.2 658.2,400.2 658.5,401.0 658.8,399.9 659.1,399.5 659.4,400.6 659.7,399.6 660.0,398.4 660.3,400.8 660.6,399.4 660.9,400.0 661.2,401.5 661.5,400.6 661.8,400.1 662.1,401.1 662.4,399.2 662.7,398.6 663.0,399.0 663.3,400.0 663.6,400.1 663.9,399.4 664.2,401.6 664.5,400.6 664.8,400.1 665.1,399.4 665.4,399.9 665.7,400.2 666.0,399.7 666.3,402.2 666.6,401.3 666.9,400.6 667.2,400.1 667.5,398.8 667.8,401.0 668.1,399.6 668.4,401.0 668.7,400.6 669.0,399.3 669.3,400.3 669.6,400.2 669.9,400.2 670.2,400.3 670.5,400.5 670.8,400.3 671.1,401.1 671.4,400.9 671.7,400.4 672.0,400.4 672.3,400.3 672.6,400.3 672.9,400.5 673.2,400.9 673.5,400.5 673.8,399.3 674.1,400.8 674.4,400.1 674.7,400.8 675.0,402.8 675.3,401.7 675.6,399.1 675.9,399.6 676.2,401.7 676.5,400.4 676.8,399.8 677.1,399.7 677.4,401.0 677.7,400.5 678.0,401.1 678.3,401.0 678.6,401.2 678.9,400.9 679.2,400.6 679.5,401.8 679.8,402.4 680.1,400.6 680.4,401.1 680.7,402.8 681.0,400.4 681.3,400.4 681.6,401.7 681.9,401.9 682.2,401.3 682.5,402.1 682.8,401.2 683.1,401.4 683.4,401.3 683.7,401.5 684.0,401.3 684.3,402.4 684.6,401.9 684.9,402.6 685.2,401.2 685.5,400.7 685.8,400.9 686.1,401.0 686.4,401.6 686.7,401.0 687.0,401.6 687.3,401.7 687.6,400.5 687.9,400.3 688.2,402.4 688.5,400.9 688.8,402.8 689.1,401.2 689.4,400.4 689.7,400.5 690.0,400.8 690.3,403.4 690.6,400.0 690.9,399.6 691.2,400.7 691.5,401.5 691.8,403.2 692.1,402.2 692.4,400.7 692.7,402.7 693.0,402.5 693.3,401.0 693.6,401.9 693.9,401.8 694.2,401.4 694.5,401.2 694.8,401.1 695.1,401.9 695.4,401.1 695.7,402.2 696.0,402.1 696.3,400.3 696.6,401.9 696.9,401.4 697.2,402.2 697.5,401.3 697.8,402.5 698.1,402.2 698.4,402.3 698.7,402.1 699.0,400.6 699.3,401.6 699.6,402.5 699.9,402.3 700.2,402.1 700.5,401.6 700.8,401.6 701.1,400.6 701.4,400.3 701.7,401.5 702.0,402.3 702.3,401.5 702.6,401.3 702.9,401.5 703.2,402.7 703.5,401.2 703.8,401.6 704.1,402.0 704.4,402.5 704.7,402.0 705.0,401.3 705.3,401.3 705.6,400.9 705.9,401.6 706.2,402.5 706.5,401.9 706.8,401.4 707.1,400.9 707.4,401.5 707.7,402.4 708.0,402.3 708.3,402.1 708.6,402.4 708.9,402.7 709.2,402.0 709.5,402.3 709.8,400.3 710.1,402.3 710.4,401.6 710.7,402.0 711.0,401.1 711.3,401.6 711.6,401.0 711.9,401.8 712.2,401.0 712.5,402.6 712.8,401.6 713.1,401.9 713.4,401.3 713.7,401.7 714.0,401.3 714.3,401.2 714.6,402.2 714.9,401.3 715.2,400.9 715.5,401.5 715.8,403.5 716.1,402.6 716.4,402.0 716.7,402.0 717.0,402.0 717.3,402.1 717.6,403.6 717.9,403.0 718.2,401.9 718.5,400.5 718.8,401.1 719.1,402.0 719.4,401.5 719.7,402.2 720.0,401.6 720.3,402.2 720.6,402.2 720.9,401.5 721.2,400.8 721.5,401.5 721.8,401.0 722.1,400.8 722.4,401.4 722.7,402.1 723.0,400.8 723.3,400.7 723.6,400.0 723.9,400.9 724.2,400.8 724.5,400.6 724.8,401.5 725.1,400.5 725.4,400.9 725.7,399.8 726.0,400.5 726.3,399.8 726.6,401.3 726.9,402.0 727.2,400.5" fill="none" stroke="#8b008b" stroke-width="1.05" stroke-opacity="1" stroke-linejoin="round"></polyline>
<polyline points="640.5,399.6 640.8,375.2 641.1,388.6 641.4,397.8" fill="none" stroke="#8b008b" stroke-width="0.6" stroke-opacity="1" stroke-linejoin="round"></polyline>
<polyline points="527.1,427.0 527.3,429.8 527.5,433.1 527.7,435.8 527.9,442.2 528.1,435.0 528.3,435.6 528.5,431.5 528.7,430.9 528.9,423.8 529.1,426.7 529.3,424.6 529.5,424.9 529.7,425.6 529.9,422.6 530.1,424.1 530.3,428.1 530.5,422.2 530.7,426.1 530.9,425.5 531.1,424.6 531.3,423.5 531.5,425.9 531.7,424.8 531.9,426.3 532.1,424.0 532.3,426.8 532.5,428.3 532.7,424.5 532.9,427.7 533.1,424.7 533.3,426.7 533.5,425.9 533.7,424.1 533.9,423.7 534.1,427.2 534.3,425.4 534.5,425.9 534.7,426.3 534.9,426.8 535.1,426.0 535.3,425.7 535.5,423.3 535.7,426.1 535.9,424.2 536.1,426.1 536.3,424.7 536.5,426.4 536.7,424.7 536.9,425.0 537.1,429.1 537.3,423.9 537.5,424.4 537.7,426.6 537.9,426.8 538.1,425.5 538.3,425.2 538.5,426.7 538.7,425.4 538.9,426.0 539.1,425.6 539.3,425.1 539.5,424.3 539.7,428.1 539.9,424.5 540.1,427.5 540.3,426.8 540.5,427.3 540.7,426.8 540.9,427.3 541.1,424.3 541.3,425.0 541.5,425.9 541.7,427.4 541.9,424.3 542.1,425.5 542.3,426.0 542.5,424.6 542.7,425.1 542.9,424.7 543.1,428.4 543.3,430.5 543.5,425.9 543.7,425.2 543.9,424.8 544.1,423.8 544.3,426.5 544.5,425.2 544.7,427.1 544.9,426.3 545.1,424.7 545.3,427.1 545.5,424.4 545.7,426.1 545.9,423.3 546.1,427.3 546.3,426.2 546.5,425.8 546.7,426.9 546.9,427.6 547.1,426.6 547.3,428.4 547.5,430.1 547.7,430.0 547.9,431.2 548.1,432.4 548.3,434.1 548.5,437.3 548.7,434.6 548.9,433.9 549.1,430.7 549.3,431.1 549.5,428.5 549.7,430.6 549.9,428.7 550.1,423.9 550.3,425.5 550.5,425.0 550.7,427.0 550.9,427.5 551.1,430.0 551.3,424.6 551.5,424.8 551.7,426.8 551.9,425.5 552.1,424.5 552.3,426.9 552.5,423.5 552.7,423.3 552.9,428.4 553.1,426.5 553.3,426.3 553.5,426.2 553.7,427.8 553.9,425.6 554.1,425.0 554.3,425.1 554.5,426.0 554.7,426.6 554.9,425.6 555.1,427.5 555.3,425.4 555.5,426.4 555.7,423.9 555.9,428.1 556.1,426.5 556.3,424.7 556.5,426.9 556.7,425.4 556.9,427.1 557.1,425.8 557.3,426.0 557.5,426.9 557.7,427.7 557.9,425.3 558.1,425.3 558.3,424.1 558.5,424.5 558.7,424.6 558.9,427.9 559.1,424.1 559.3,428.5 559.5,427.4 559.7,426.4 559.9,426.3 560.1,424.5 560.3,424.6 560.5,425.9 560.7,429.3 560.9,425.5 561.1,425.1 561.3,424.7 561.5,427.1 561.7,428.7 561.9,427.7 562.1,424.7 562.3,425.8 562.5,426.7 562.7,423.9 562.9,426.7 563.1,425.0 563.3,425.0 563.5,425.8 563.7,423.8 563.9,428.6 564.1,424.3 564.3,426.2 564.5,426.6 564.7,426.9 564.9,427.0 565.1,424.8 565.3,424.4 565.5,426.9 565.7,425.1 565.9,427.2 566.1,428.2 566.3,425.7 566.5,424.5 566.7,425.3 566.9,425.5 567.1,424.3 567.3,426.6 567.5,424.8 567.7,424.9 567.9,430.0 568.1,426.6 568.3,428.9 568.5,426.5 568.7,426.5 568.9,426.9 569.1,425.9 569.3,425.2 569.5,424.8 569.7,426.1 569.9,424.3 570.1,426.3 570.3,423.8 570.5,427.7 570.7,425.6 570.9,427.0 571.1,422.4 571.3,425.3 571.5,424.5 571.7,425.6 571.9,424.8 572.1,429.0 572.3,424.7 572.5,424.0 572.7,426.1 572.9,428.5 573.1,427.3 573.3,426.4 573.5,428.7 573.7,425.3 573.9,427.0 574.1,426.1 574.3,428.2 574.5,424.7 574.7,429.8 574.9,428.4 575.1,427.4 575.3,427.8 575.5,421.3 575.7,424.8 575.9,428.1 576.1,425.2 576.3,426.0 576.5,426.7 576.7,429.0 576.9,426.7 577.1,426.9 577.3,427.0 577.5,428.8 577.7,428.1 577.9,427.5 578.1,429.0 578.3,428.6 578.5,427.6 578.7,426.8 578.9,428.8 579.1,428.2 579.3,426.7 579.5,429.6 579.7,428.1 579.9,425.0 580.1,429.6 580.3,428.9 580.5,428.1 580.7,427.0 580.9,428.3 581.1,428.2 581.3,428.3 581.5,427.7 581.7,426.4 581.9,426.1 582.1,428.4 582.3,427.2 582.5,427.0 582.7,426.8 582.9,428.1 583.1,426.5 583.3,428.5 583.5,427.1 583.7,426.7 583.9,426.1 584.1,429.3 584.3,429.1 584.5,427.1 584.7,426.8 584.9,426.6 585.1,428.9 585.3,427.3 585.5,428.5 585.7,426.3 585.9,427.3 586.1,427.4 586.3,430.1 586.5,429.7 586.7,433.2 586.9,427.0 587.1,428.0 587.3,432.2 587.5,429.0 587.7,427.6 587.9,429.2 588.1,428.8 588.3,428.8 588.5,428.3 588.7,430.0 588.9,428.7 589.1,430.7 589.3,428.2 589.5,426.6 589.7,428.7 589.9,429.7 590.1,428.4 590.3,430.4 590.5,429.1 590.7,431.5 590.9,429.9 591.1,428.7 591.3,428.6 591.5,429.0 591.7,430.2 591.9,430.0 592.1,428.6 592.3,430.0 592.5,427.8 592.7,428.8 592.9,430.2 593.1,428.8 593.3,428.3 593.5,428.7 593.7,429.4 593.9,426.5 594.1,426.3 594.3,429.2 594.5,429.7 594.7,429.7 594.9,428.1 595.1,426.9 595.3,430.3 595.5,423.8 595.7,427.7 595.9,430.4 596.1,428.4 596.3,430.0 596.5,430.3 596.7,429.7 596.9,428.8 597.1,427.7 597.3,427.7 597.5,431.2 597.7,430.0 597.9,429.7 598.1,431.2 598.3,429.6 598.5,430.3 598.7,429.5 598.9,429.6 599.1,432.0 599.3,430.0 599.5,428.9 599.7,429.4 599.9,427.9 600.1,429.0 600.3,430.9 600.5,430.8 600.7,428.0 600.9,429.9 601.1,427.9 601.3,429.7 601.5,429.7 601.7,428.4 601.9,427.7 602.1,428.3 602.3,429.8 602.5,427.4 602.7,428.5 602.9,430.8 603.1,433.3 603.3,430.0 603.5,430.5 603.7,428.7 603.9,429.4 604.1,429.7 604.3,429.6 604.5,431.7 604.7,430.7 604.9,431.7 605.1,432.5 605.3,429.6 605.5,430.3 605.7,428.5 605.9,429.9 606.1,427.9 606.3,429.7 606.5,429.5 606.7,429.9 606.9,428.7 607.1,429.9 607.3,428.4 607.5,430.9 607.7,429.6 607.9,430.4 608.1,429.8 608.3,429.1 608.5,430.4 608.7,429.2 608.9,428.8 609.1,428.4 609.3,427.2 609.5,429.9 609.7,430.7 609.9,429.8 610.1,430.4 610.3,431.2 610.5,432.2 610.7,429.8 610.9,433.6 611.1,433.2 611.3,432.9 611.5,429.6 611.7,429.8 611.9,427.2 612.1,434.3 612.3,431.6 612.5,430.2 612.7,428.8 612.9,428.7 613.1,428.9 613.3,432.7 613.5,435.6 613.7,430.4 613.9,431.4 614.1,433.6 614.3,428.9 614.5,424.7 614.7,427.7 614.9,436.3 615.1,433.9 615.3,428.9 615.5,431.2 615.7,429.3 615.9,432.0 616.1,424.4 616.3,432.0 616.5,427.8 616.7,430.2 616.9,430.6 617.1,426.3 617.3,431.6 617.5,426.4 617.7,425.5 617.9,423.2 618.1,422.0 618.3,423.2 618.5,423.9 618.7,422.2 618.9,423.8 619.1,422.1 619.3,428.3 619.5,430.1 619.7,431.2 619.9,430.6 620.1,425.3 620.3,429.6 620.5,432.6 620.7,428.4 620.9,431.1 621.1,433.2 621.3,429.6 621.5,432.0 621.7,430.2 621.9,434.8 622.1,428.2 622.3,430.2 622.5,422.0 622.7,428.3 622.9,429.7 623.1,427.9 623.3,432.8 623.5,434.3 623.7,430.4 623.9,429.8 624.1,430.3 624.3,427.4 624.5,428.2 624.7,433.8 624.9,433.1 625.1,430.4 625.3,429.6 625.5,427.5 625.7,430.7 625.9,432.4 626.1,433.9 626.3,432.2 626.5,433.9 626.7,433.1 626.9,435.2 627.1,434.4 627.3,431.1 627.5,430.4 627.7,432.7 627.9,434.4 628.1,432.8 628.3,427.5 628.5,436.6 628.7,432.0 628.9,430.3 629.1,437.5 629.3,436.8 629.5,439.0 629.7,436.1 629.9,436.0 630.1,434.0 630.3,434.1 630.5,433.4 630.7,433.8 630.9,430.9 631.1,431.3 631.3,431.7 631.5,431.4 631.7,433.3 631.9,430.3 632.1,433.1 632.3,435.3 632.5,427.8 632.7,430.5 632.9,434.5 633.1,429.8 633.3,427.5 633.5,436.1 633.7,430.3 633.9,432.7 634.1,436.2 634.3,431.0 634.5,435.9 634.7,434.5 634.9,429.5 635.1,426.3 635.3,431.5 635.5,427.1 635.7,430.9 635.9,433.2 636.1,430.6 636.3,433.0 636.5,427.5 636.7,431.3 636.9,432.1 637.1,433.5 637.3,434.0 637.5,436.9 637.7,434.6 637.9,432.4 638.1,434.0 638.3,429.8 638.5,435.0 638.7,430.0 638.9,428.5 639.1,430.9 639.3,429.9 639.5,428.7 639.7,428.3 639.9,428.9 640.1,429.4 640.3,429.1 640.5,425.4 640.7,425.5 640.9,424.5 641.1,424.0 641.3,423.8 641.5,418.8 641.7,415.4 641.9,416.1 642.1,413.6 642.3,413.5 642.5,423.4 642.7,424.3 642.9,427.1 643.1,428.1 643.3,430.8 643.5,429.8 643.7,430.4 643.9,427.9 644.1,429.4 644.3,428.8 644.5,426.2 644.7,427.9 644.9,429.4 645.1,426.7 645.3,426.5 645.5,430.3 645.7,429.9 645.9,429.1 646.1,429.1 646.3,428.0 646.5,428.3 646.7,423.1 646.9,424.9 647.1,429.8 647.3,433.6 647.5,431.9 647.7,423.1 647.9,429.7 648.1,431.8 648.3,432.6 648.5,433.5 648.7,434.3 648.9,426.2 649.1,431.0 649.3,432.2 649.5,430.5 649.7,434.0 649.9,431.4 650.1,432.8 650.3,427.4 650.5,424.7 650.7,429.4 650.9,431.1 651.1,432.8 651.3,427.7 651.5,430.4 651.7,432.1 651.9,429.8 652.1,427.7 652.3,429.1 652.5,433.5 652.7,430.3 652.9,430.7 653.1,431.3 653.3,430.7 653.5,430.4 653.7,432.3 653.9,428.8 654.1,431.3 654.3,427.1 654.5,428.6 654.7,427.3 654.9,434.5 655.1,431.5 655.3,429.2 655.5,432.5 655.7,431.1 655.9,437.5 656.1,426.9 656.3,432.7 656.5,429.0 656.7,429.0 656.9,430.6 657.1,428.8 657.3,432.2 657.5,430.7 657.7,431.9 657.9,427.7 658.1,427.8 658.3,427.0 658.5,432.4 658.7,432.4 658.9,429.4 659.1,437.3 659.3,432.8 659.5,430.7 659.7,430.8 659.9,435.2 660.1,428.1 660.3,428.8 660.5,431.2 660.7,427.8 660.9,431.4 661.1,425.2 661.3,427.0 661.5,429.2 661.7,427.5 661.9,428.6 662.1,430.4 662.3,433.5 662.5,427.4 662.7,429.3 662.9,426.3 663.1,431.0 663.3,432.6 663.5,426.5 663.7,431.0 663.9,431.4 664.1,432.2 664.3,430.8 664.5,432.9 664.7,431.3 664.9,429.6 665.1,432.4 665.3,436.7 665.5,432.6 665.7,430.8 665.9,430.3 666.1,433.7 666.3,434.7 666.5,431.3 666.7,431.2 666.9,432.4 667.1,433.1 667.3,433.8 667.5,429.0 667.7,430.5 667.9,430.2 668.1,433.8 668.3,432.9 668.5,431.1 668.7,429.4 668.9,430.9 669.1,431.5 669.3,428.8 669.5,428.8 669.7,433.5 669.9,431.8 670.1,432.4 670.3,430.1 670.5,431.8 670.7,432.8 670.9,430.1 671.1,430.6 671.3,433.1 671.5,428.0 671.7,431.3 671.9,426.9 672.1,435.6 672.3,430.8 672.5,434.1 672.7,430.3 672.9,436.8 673.1,431.4 673.3,434.9 673.5,431.9 673.7,431.0 673.9,432.2 674.1,432.7 674.3,434.4 674.5,432.4 674.7,428.1 674.9,429.6 675.1,435.0 675.3,427.6 675.5,428.9 675.7,427.9 675.9,429.2 676.1,434.8 676.3,431.0 676.5,433.3 676.7,429.4 676.9,430.1 677.1,429.3 677.3,433.0 677.5,431.1 677.7,434.6 677.9,432.2 678.1,429.7 678.3,432.0 678.5,431.9 678.7,435.7 678.9,430.8 679.1,430.0 679.3,433.4 679.5,428.3 679.7,432.1 679.9,429.6 680.1,433.0 680.3,432.5 680.5,431.0 680.7,432.7 680.9,434.0 681.1,430.9 681.3,431.9 681.5,436.6 681.7,430.8 681.9,435.6 682.1,430.3 682.3,429.9 682.5,435.1 682.7,433.6 682.9,434.0 683.1,428.8 683.3,435.2 683.5,435.4 683.7,430.1 683.9,431.4 684.1,427.1 684.3,431.4 684.5,428.4 684.7,428.5 684.9,428.7 685.1,427.9 685.3,435.9 685.5,434.1 685.7,432.5 685.9,432.9 686.1,427.6 686.3,432.2 686.5,432.4 686.7,432.5 686.9,429.1 687.1,432.5 687.3,428.7 687.5,428.8 687.7,432.5 687.9,429.1 688.1,434.0 688.3,429.7 688.5,430.2 688.7,430.0 688.9,435.0 689.1,429.6 689.3,429.6 689.5,432.6 689.7,428.2 689.9,427.8 690.1,432.2 690.3,430.8 690.5,428.0 690.7,432.6 690.9,430.6 691.1,429.5 691.3,436.7 691.5,431.0 691.7,431.4 691.9,429.7 692.1,432.1 692.3,431.3 692.5,427.8 692.7,429.3 692.9,431.3 693.1,436.8 693.3,433.2 693.5,430.5 693.7,428.6 693.9,432.9 694.1,430.3 694.3,431.6 694.5,429.5 694.7,432.1 694.9,433.0 695.1,435.2 695.3,436.0 695.5,432.8 695.7,432.9 695.9,430.8 696.1,428.9 696.3,426.3 696.5,431.6 696.7,434.1 696.9,430.8 697.1,430.5 697.3,436.0 697.5,435.3 697.7,430.6 697.9,431.4 698.1,433.6 698.3,429.6 698.5,430.5 698.7,429.6 698.9,433.9 699.1,432.7 699.3,431.7 699.5,427.5 699.7,429.2 699.9,429.9 700.1,431.3 700.3,433.8 700.5,431.1 700.7,432.1 700.9,434.3 701.1,432.2 701.3,434.2 701.5,432.0 701.7,433.7 701.9,430.0 702.1,432.8 702.3,435.1 702.5,433.8 702.7,429.5 702.9,430.6 703.1,432.0 703.3,436.5 703.5,433.5 703.7,432.7 703.9,431.8 704.1,434.3 704.3,433.0 704.5,431.0 704.7,430.0 704.9,430.5 705.1,432.5 705.3,434.9 705.5,430.3 705.7,431.6 705.9,435.1 706.1,431.3 706.3,431.7 706.5,435.1 706.7,429.6 706.9,431.6 707.1,430.1 707.3,433.4 707.5,433.6 707.7,430.8 707.9,431.0 708.1,432.0 708.3,436.8 708.5,429.7 708.7,431.3 708.9,433.0 709.1,431.8 709.3,431.4 709.5,433.5 709.7,434.9 709.9,432.7 710.1,430.8 710.3,429.8 710.5,435.1 710.7,430.0 710.9,432.9 711.1,430.3 711.3,433.1 711.5,434.9 711.7,432.9 711.9,432.9 712.1,432.2 712.3,432.3 712.5,434.0 712.7,428.8 712.9,433.1 713.1,433.9 713.3,427.0 713.5,432.1 713.7,429.6 713.9,431.4 714.1,428.9 714.3,436.2 714.5,432.7 714.7,435.9 714.9,430.3 715.1,431.0 715.3,431.5 715.5,432.3 715.7,428.8 715.9,434.6 716.1,435.9 716.3,432.1 716.5,431.8 716.7,432.3 716.9,431.9 717.1,431.9 717.3,434.5 717.5,432.0 717.7,432.8 717.9,435.7 718.1,432.9 718.3,428.6 718.5,435.4 718.7,435.0 718.9,430.5 719.1,432.2 719.3,430.0 719.5,429.1 719.7,434.6 719.9,436.6 720.1,428.9 720.3,429.0 720.5,431.1 720.7,431.7 720.9,428.3 721.1,434.0 721.3,433.7 721.5,432.0 721.7,432.1 721.9,431.8 722.1,426.3 722.3,430.9 722.5,428.8 722.7,434.6 722.9,429.5 723.1,429.4 723.3,430.8 723.5,430.3 723.7,427.8 723.9,429.3 724.1,431.8 724.3,426.3 724.5,429.1 724.7,426.2 724.9,421.9 725.1,426.4 725.3,426.6 725.5,427.7 725.7,422.2 725.9,428.7 726.1,426.5 726.3,423.0 726.5,424.3 726.7,427.3 726.9,423.7 727.1,424.9 727.3,427.1 727.5,426.3 727.7,425.6" fill="none" stroke="#0a8a2a" stroke-width="1.1" stroke-opacity="1" stroke-linejoin="round"></polyline>
<rect x="518.2" y="260" width="220.39999999999998" height="31.6" fill="none" stroke="#555" stroke-width="0.55"></rect>
<rect x="518.2" y="297.7" width="220.39999999999998" height="31.6" fill="none" stroke="#555" stroke-width="0.55"></rect>
<rect x="518.2" y="335.4" width="220.39999999999998" height="31.6" fill="none" stroke="#555" stroke-width="0.55"></rect>
<rect x="518.2" y="373.1" width="220.39999999999998" height="31.6" fill="none" stroke="#555" stroke-width="0.55"></rect>
<rect x="518.2" y="410.8" width="220.39999999999998" height="31.6" fill="none" stroke="#555" stroke-width="0.55"></rect>
<line x1="569.9" x2="569.9" y1="260" y2="291.6" stroke="#777" stroke-width="0.4"></line>
<line x1="569.9" x2="569.9" y1="297.7" y2="329.3" stroke="#777" stroke-width="0.4"></line>
<line x1="569.9" x2="569.9" y1="335.4" y2="367.0" stroke="#777" stroke-width="0.4"></line>
<line x1="569.9" x2="569.9" y1="373.1" y2="404.70000000000005" stroke="#777" stroke-width="0.4"></line>
<line x1="569.9" x2="569.9" y1="410.8" y2="442.40000000000003" stroke="#777" stroke-width="0.4"></line>
<text x="507.4" y="271" font-size="3.3" fill="#e8202a" text-anchor="start" font-weight="400" fill-opacity="0.8" transform="rotate(-90 507.4 271)">Bt (nT)</text>
<text x="507.4" y="282.5" font-size="3.3" fill="#111" text-anchor="start" font-weight="400" fill-opacity="0.8" transform="rotate(-90 507.4 282.5)">Bz</text>
<text x="507.4" y="319.7" font-size="3.3" fill="#1818e0" text-anchor="start" font-weight="400" fill-opacity="0.8" transform="rotate(-90 507.4 319.7)">Phi (deg)</text>
<text x="507.4" y="364.4" font-size="3.3" fill="#ffa030" text-anchor="start" font-weight="400" fill-opacity="0.8" transform="rotate(-90 507.4 364.4)">Density (p/cm³)</text>
<text x="507.4" y="401.6" font-size="3.3" fill="#8b008b" text-anchor="start" font-weight="400" fill-opacity="0.8" transform="rotate(-90 507.4 401.6)">Speed (km/sec)</text>
<text x="507.4" y="434.8" font-size="3.3" fill="#1a9a5a" text-anchor="start" font-weight="400" fill-opacity="0.8" transform="rotate(-90 507.4 434.8)">Temp (°K)</text>
<text x="569.9" y="448.3" font-size="3.5" fill="#222" text-anchor="middle" font-weight="400" fill-opacity="0.95" textLength="28.5" lengthAdjust="spacingAndGlyphs">2025-04-02T00:00</text>
<text x="738.6" y="454.6" font-size="2.9" fill="#222" text-anchor="end" font-weight="400" fill-opacity="0.9" textLength="114" lengthAdjust="spacingAndGlyphs">Solar wind data from swpc.noaa.gov. Plot by "9 RESE LLC" for spaceweathernews.com</text>
<text x="516.2" y="269.2" font-size="3.4" fill="#222" text-anchor="end" font-weight="400" fill-opacity="0.95">10</text>
<text x="516.2" y="280.2" font-size="3.4" fill="#222" text-anchor="end" font-weight="400" fill-opacity="0.95">0</text>
<text x="516.2" y="291.2" font-size="3.4" fill="#222" text-anchor="end" font-weight="400" fill-opacity="0.95">-10</text>
<text x="516.2" y="306.9" font-size="3.4" fill="#222" text-anchor="end" font-weight="400" fill-opacity="0.95">200</text>
<text x="516.2" y="320.9" font-size="3.4" fill="#222" text-anchor="end" font-weight="400" fill-opacity="0.95">100</text>
<text x="516.2" y="341.59999999999997" font-size="3.4" fill="#222" text-anchor="end" font-weight="400" fill-opacity="0.95">10</text>
<text x="516.2" y="357.59999999999997" font-size="3.4" fill="#222" text-anchor="end" font-weight="400" fill-opacity="0.95">0.1</text>
<text x="516.2" y="379.3" font-size="3.4" fill="#222" text-anchor="end" font-weight="400" fill-opacity="0.95">800</text>
<text x="516.2" y="390.3" font-size="3.4" fill="#222" text-anchor="end" font-weight="400" fill-opacity="0.95">600</text>
<text x="516.2" y="402.3" font-size="3.4" fill="#222" text-anchor="end" font-weight="400" fill-opacity="0.95">400</text>
<text x="516.2" y="418.0" font-size="3.4" fill="#222" text-anchor="end" font-weight="400" fill-opacity="0.95">10</text>
<text x="516.2" y="431.0" font-size="3.4" fill="#222" text-anchor="end" font-weight="400" fill-opacity="0.95">10</text>
<rect x="257" y="480.8" width="240" height="179.2" fill="#fff"></rect>
<line x1="287.4" x2="473" y1="513.5" y2="513.5" stroke="#8a8a8a" stroke-width="0.4"></line>
<line x1="287.4" x2="473" y1="535.7" y2="535.7" stroke="#8a8a8a" stroke-width="0.4"></line>
<line x1="287.4" x2="473" y1="557.5" y2="557.5" stroke="#8a8a8a" stroke-width="0.4"></line>
<line x1="287.4" x2="473" y1="580" y2="580" stroke="#8a8a8a" stroke-width="0.4"></line>
<line x1="287.4" x2="473" y1="602.4" y2="602.4" stroke="#8a8a8a" stroke-width="0.4"></line>
<line x1="287.4" x2="473" y1="624.6" y2="624.6" stroke="#8a8a8a" stroke-width="0.4"></line>
<line x1="307.6" x2="307.6" y1="502.5" y2="641.7" stroke="#8a8a8a" stroke-width="0.4"></line>
<line x1="335.6" x2="335.6" y1="502.5" y2="641.7" stroke="#8a8a8a" stroke-width="0.4"></line>
<line x1="363.8" x2="363.8" y1="502.5" y2="641.7" stroke="#8a8a8a" stroke-width="0.4"></line>
<line x1="392" x2="392" y1="502.5" y2="641.7" stroke="#8a8a8a" stroke-width="0.4"></line>
<line x1="420.2" x2="420.2" y1="502.5" y2="641.7" stroke="#8a8a8a" stroke-width="0.4"></line>
<line x1="448.5" x2="448.5" y1="502.5" y2="641.7" stroke="#8a8a8a" stroke-width="0.4"></line>
<polyline points="295.8,540.8 296.1,541.1 296.4,539.9 296.7,539.0 297.0,539.1 297.3,539.9 297.6,539.4 297.9,538.0 298.2,537.3 298.5,537.2 298.8,537.7 299.1,538.0 299.4,538.3 299.7,538.8 300.0,539.6 300.3,539.7 300.6,540.5 300.9,541.4 301.2,543.0 301.5,543.2 301.8,544.1 302.1,543.2 302.4,543.5 302.7,543.1 303.0,542.4 303.3,542.2 303.6,542.5 303.9,541.9 304.2,542.2 304.5,542.6 304.8,542.8 305.1,542.9 305.4,541.0 305.7,541.1 306.0,541.2 306.3,542.5 306.6,543.1 306.9,543.7 307.2,544.6 307.5,544.7 307.8,545.5 308.1,545.7 308.4,547.9 308.7,547.9 309.0,548.7 309.3,547.0 309.6,546.7 309.9,547.6 310.2,550.6 310.5,552.6 310.8,553.6 311.1,553.3 311.4,556.6 311.7,555.3 312.0,555.0 312.3,556.9 312.6,556.4 312.9,558.1 313.2,560.3 313.5,560.6 313.8,561.7 314.1,562.2 314.4,562.0 314.7,559.0 315.0,560.0 315.3,562.4 315.6,562.1 315.9,563.7 316.2,565.9 316.5,568.9 316.8,567.7 317.1,568.3 317.4,569.9 317.7,571.6 318.0,570.6 318.3,574.3 318.6,573.5 318.9,576.0 319.2,576.4 319.5,578.0 319.8,580.9 320.1,582.0 320.4,582.4 320.7,581.7 321.0,582.1 321.3,581.9 321.6,586.6 321.9,585.6 322.2,584.6 322.5,590.0 322.8,593.5 323.1,594.2 323.4,596.8 323.7,597.0 324.0,597.2 324.3,596.7 324.6,595.6 324.9,593.3 325.2,594.0 325.5,592.6 325.8,590.5 326.1,586.9 326.4,586.2 326.7,586.8 327.0,588.0 327.3,590.1 327.6,590.1 327.9,591.5 328.2,593.5 328.5,594.5 328.8,598.0 329.1,595.3 329.4,596.3 329.7,595.8 330.0,597.3 330.3,597.4 330.6,590.3 330.9,586.2 331.2,583.3 331.5,579.2 331.8,576.2 332.1,573.5 332.4,576.1 332.7,575.5 333.0,575.2 333.3,577.6 333.6,579.3 333.9,579.1 334.2,578.7 334.5,578.0 334.8,577.3 335.1,576.5 335.4,575.0 335.7,573.0 336.0,573.7 336.3,573.1 336.6,571.4 336.9,569.9 337.2,569.2 337.5,568.6 337.8,566.9 338.1,567.8 338.4,567.4 338.7,566.4 339.0,565.8 339.3,565.1 339.6,564.9 339.9,563.9 340.2,563.7 340.5,563.4 340.8,561.7 341.1,560.3 341.4,558.9 341.7,558.1 342.0,557.2 342.3,556.9 342.6,556.7 342.9,556.5 343.2,555.0 343.5,555.3 343.8,554.4 344.1,553.7 344.4,552.8 344.7,551.1 345.0,551.2 345.3,549.8 345.6,550.5 345.9,550.0 346.2,550.5 346.5,550.2 346.8,549.9 347.1,550.1 347.4,549.2 347.7,549.5 348.0,548.5 348.3,548.1 348.6,547.1 348.9,547.1 349.2,547.1 349.5,546.3 349.8,545.1 350.1,545.1 350.4,545.3 350.7,544.9 351.0,544.1 351.3,543.9 351.6,543.9 351.9,542.4 352.2,542.8 352.5,544.3 352.8,543.4 353.1,543.5 353.4,544.7 353.7,544.8 354.0,544.9 354.3,544.3 354.6,543.1 354.9,545.1 355.2,544.5 355.5,544.1 355.8,544.7 356.1,544.5 356.4,543.8 356.7,542.6 357.0,542.4 357.3,542.2 357.6,541.7 357.9,541.2 358.2,540.8 358.5,541.0 358.8,540.8 359.1,541.3 359.4,541.9 359.7,541.7 360.0,541.4 360.3,542.1 360.6,541.9 360.9,540.3 361.2,539.8 361.5,540.1 361.8,540.0 362.1,541.3 362.4,540.6 362.7,540.3 363.0,542.1 363.3,543.1 363.6,542.5 363.9,543.4 364.2,545.0 364.5,544.5 364.8,544.4 365.1,544.5 365.4,544.8 365.7,542.9 366.0,541.3 366.3,538.9 366.6,537.5 366.9,537.3 367.2,538.7 367.5,544.3 367.8,549.9 368.1,550.4 368.4,551.2 368.7,551.8 369.0,552.1 369.3,553.2 369.6,553.3 369.9,554.0 370.2,554.1 370.5,554.5 370.8,554.5 371.1,556.6 371.4,556.6 371.7,556.0 372.0,557.8 372.3,559.0 372.6,558.9 372.9,558.8 373.2,559.0 373.5,560.7 373.8,560.9 374.1,561.1 374.4,562.5 374.7,562.9 375.0,563.6 375.3,565.5 375.6,566.3 375.9,567.3 376.2,567.6 376.5,568.7 376.8,568.7 377.1,569.9 377.4,571.2 377.7,571.4 378.0,571.3 378.3,572.9 378.6,573.8 378.9,575.2 379.2,575.7 379.5,577.1 379.8,578.6 380.1,580.8 380.4,582.2 380.7,582.5 381.0,583.7 381.3,583.6 381.6,584.8 381.9,585.2 382.2,586.5 382.5,586.9 382.8,587.1 383.1,587.2 383.4,588.8 383.7,589.4 384.0,589.3 384.3,588.3 384.6,585.7 384.9,585.5 385.2,584.3 385.5,583.7 385.8,582.9 386.1,580.7 386.4,579.8 386.7,579.1 387.0,578.5 387.3,578.2 387.6,576.7 387.9,575.9 388.2,575.8 388.5,573.9 388.8,574.9 389.1,573.5 389.4,573.8 389.7,573.0 390.0,573.4 390.3,572.9 390.6,571.7 390.9,569.6 391.2,569.3 391.5,569.0 391.8,568.7 392.1,567.1 392.4,565.8 392.7,564.7 393.0,564.3 393.3,562.9 393.6,562.1 393.9,562.0 394.2,560.6 394.5,560.5 394.8,559.4 395.1,557.9 395.4,557.5 395.7,556.5 396.0,555.0 396.3,553.5 396.6,552.6 396.9,552.2 397.2,552.2 397.5,551.5 397.8,550.2 398.1,548.8 398.4,548.7 398.7,548.5 399.0,548.6 399.3,547.3 399.6,545.9 399.9,546.1 400.2,545.4 400.5,544.0 400.8,544.8 401.1,544.5 401.4,543.5 401.7,542.7 402.0,541.2 402.3,541.1 402.6,539.8 402.9,538.7 403.2,537.8 403.5,536.4 403.8,536.6 404.1,536.8 404.4,536.1 404.7,533.5 405.0,532.8 405.3,531.8 405.6,531.5 405.9,529.1 406.2,526.2 406.5,524.7 406.8,523.9 407.1,521.9 407.4,521.3 407.7,518.2 408.0,516.0 408.3,513.8 408.6,511.2 408.9,510.1 409.2,508.8 409.5,508.1 409.8,508.0 410.1,507.7 410.4,508.4 410.7,507.7 411.0,507.8 411.3,507.1 411.6,507.7 411.9,507.1 412.2,507.4 412.5,506.5 412.8,507.5 413.1,507.4 413.4,508.5 413.7,509.0 414.0,509.4 414.3,510.1 414.6,510.2 414.9,509.6 415.2,510.0 415.5,510.4 415.8,509.9 416.1,510.8 416.4,512.1 416.7,513.1 417.0,514.9 417.3,516.9 417.6,519.3 417.9,520.5 418.2,523.0 418.5,524.1 418.8,526.4 419.1,528.6 419.4,529.5 419.7,532.1 420.0,534.8 420.3,533.2 420.6,535.5 420.9,537.4 421.2,538.9 421.5,543.3 421.8,544.3 422.1,547.4 422.4,547.8 422.7,551.8 423.0,563.8 423.3,571.0 423.6,574.1 423.9,580.2 424.2,588.4 424.5,593.2 424.8,603.5 425.1,601.8 425.4,599.8 425.7,598.1 426.0,594.8 426.3,591.0 426.6,583.9 426.9,586.4 427.2,592.8 427.5,598.6 427.8,601.3 428.1,600.6 428.4,604.2 428.7,608.2 429.0,605.3 429.3,607.9 429.6,603.7 429.9,602.8 430.2,599.3 430.5,600.7 430.8,596.3 431.1,591.8 431.4,590.9 431.7,583.7 432.0,579.1 432.3,576.7 432.6,573.1 432.9,569.8 433.2,576.3 433.5,579.8 433.8,586.6 434.1,586.2 434.4,592.6 434.7,597.2 435.0,599.1 435.3,600.5 435.6,603.8 435.9,604.5 436.2,606.4 436.5,607.6 436.8,611.0 437.1,615.1 437.4,613.8 437.7,617.2 438.0,620.8 438.3,626.3 438.6,625.9 438.9,630.6 439.2,630.9 439.5,633.8 439.8,636.0 440.1,637.4 440.4,632.9 440.7,627.6 441.0,628.2 441.3,627.2 441.6,622.1 441.9,617.4 442.2,608.3 442.5,597.2 442.8,587.7 443.1,581.9 443.4,585.2 443.7,585.5 444.0,584.6 444.3,584.2 444.6,585.4 444.9,589.3 445.2,590.7 445.5,589.0 445.8,588.2 446.1,590.9 446.4,592.6 446.7,596.7 447.0,598.6 447.3,597.3 447.6,594.9 447.9,595.4 448.2,593.0 448.5,592.6 448.8,596.1 449.1,597.5 449.4,599.1 449.7,601.6 450.0,599.1 450.3,600.3 450.6,599.7 450.9,599.9 451.2,598.7 451.5,596.6 451.8,590.3 452.1,585.6 452.4,584.7 452.7,584.0 453.0,580.5 453.3,578.7 453.6,574.9 453.9,577.1 454.2,576.9 454.5,578.4 454.8,574.9 455.1,573.0 455.4,571.7 455.7,573.1 456.0,571.8 456.3,570.3 456.6,564.9 456.9,563.0 457.2,560.2 457.5,560.8 457.8,563.0 458.1,562.2 458.4,559.4 458.7,563.5 459.0,559.1 459.3,561.2 459.6,561.7 459.9,559.7 460.2,560.5 460.5,555.5 460.8,553.3 461.1,552.1 461.4,552.4 461.7,551.1 462.0,553.9 462.3,550.8 462.6,549.2 462.9,546.0 463.2,547.3 463.5,548.6 463.8,545.8 464.1,542.9 464.4,540.7 464.7,544.4 465.0,545.6 465.3,545.0" fill="none" stroke="#e8202a" stroke-width="0.5" stroke-opacity="0.9" stroke-linejoin="round"></polyline>
<polyline points="419.1,528.6 419.4,529.5 419.7,532.1 420.0,534.8 420.3,533.2 420.6,535.5 420.9,537.4 421.2,538.9 421.5,543.3 421.8,544.3 422.1,547.4 422.4,547.8 422.7,551.8 423.0,563.8 423.3,571.0 423.6,574.1 423.9,580.2 424.2,588.4 424.5,593.2 424.8,603.5 425.1,601.8 425.4,599.8 425.7,598.1 426.0,594.8 426.3,591.0 426.6,583.9 426.9,586.4 427.2,592.8 427.5,598.6 427.8,601.3 428.1,600.6 428.4,604.2 428.7,608.2 429.0,605.3 429.3,607.9 429.6,603.7 429.9,602.8 430.2,599.3 430.5,600.7 430.8,596.3 431.1,591.8 431.4,590.9 431.7,583.7 432.0,579.1 432.3,576.7 432.6,573.1 432.9,569.8 433.2,576.3 433.5,579.8 433.8,586.6 434.1,586.2 434.4,592.6 434.7,597.2 435.0,599.1 435.3,600.5 435.6,603.8 435.9,604.5 436.2,606.4 436.5,607.6 436.8,611.0 437.1,615.1 437.4,613.8 437.7,617.2 438.0,620.8 438.3,626.3 438.6,625.9 438.9,630.6 439.2,630.9 439.5,633.8 439.8,636.0 440.1,637.4 440.4,632.9 440.7,627.6 441.0,628.2 441.3,627.2 441.6,622.1 441.9,617.4 442.2,608.3 442.5,597.2 442.8,587.7 443.1,581.9 443.4,585.2 443.7,585.5 444.0,584.6 444.3,584.2 444.6,585.4 444.9,589.3 445.2,590.7 445.5,589.0 445.8,588.2 446.1,590.9 446.4,592.6 446.7,596.7 447.0,598.6 447.3,597.3 447.6,594.9 447.9,595.4 448.2,593.0 448.5,592.6 448.8,596.1 449.1,597.5 449.4,599.1 449.7,601.6 450.0,599.1 450.3,600.3 450.6,599.7 450.9,599.9 451.2,598.7 451.5,596.6 451.8,590.3" fill="none" stroke="#e8202a" stroke-width="0.9" stroke-opacity="0.9" stroke-linejoin="round"></polyline>
<polyline points="314.1,562.2 314.4,562.0 314.7,559.0 315.0,560.0 315.3,562.4 315.6,562.1 315.9,563.7 316.2,565.9 316.5,568.9 316.8,567.7 317.1,568.3 317.4,569.9 317.7,571.6 318.0,570.6 318.3,574.3 318.6,573.5 318.9,576.0 319.2,576.4 319.5,578.0 319.8,580.9 320.1,582.0 320.4,582.4 320.7,581.7 321.0,582.1 321.3,581.9 321.6,586.6 321.9,585.6 322.2,584.6 322.5,590.0 322.8,593.5 323.1,594.2 323.4,596.8 323.7,597.0 324.0,597.2 324.3,596.7 324.6,595.6 324.9,593.3 325.2,594.0 325.5,592.6 325.8,590.5 326.1,586.9 326.4,586.2 326.7,586.8 327.0,588.0 327.3,590.1 327.6,590.1 327.9,591.5 328.2,593.5 328.5,594.5 328.8,598.0 329.1,595.3 329.4,596.3 329.7,595.8 330.0,597.3 330.3,597.4 330.6,590.3 330.9,586.2 331.2,583.3 331.5,579.2 331.8,576.2" fill="none" stroke="#e8202a" stroke-width="0.8" stroke-opacity="0.8" stroke-linejoin="round"></polyline>
<polyline points="295.8,548.3 296.1,548.8 296.4,551.8 296.7,551.9 297.0,552.1 297.3,552.7 297.6,552.7 297.9,552.9 298.2,554.1 298.5,554.5 298.8,555.9 299.1,556.3 299.4,555.8 299.7,556.1 300.0,556.9 300.3,556.9 300.6,558.5 300.9,559.7 301.2,561.4 301.5,561.6 301.8,562.4 302.1,563.0 302.4,563.0 302.7,561.7 303.0,562.4 303.3,561.2 303.6,561.5 303.9,560.5 304.2,559.7 304.5,558.4 304.8,558.3 305.1,560.3 305.4,560.2 305.7,562.0 306.0,563.3 306.3,563.3 306.6,564.7 306.9,566.1 307.2,566.1 307.5,566.3 307.8,567.9 308.1,568.7 308.4,570.6 308.7,570.9 309.0,570.4 309.3,571.0 309.6,570.2 309.9,572.6 310.2,574.2 310.5,574.0 310.8,573.6 311.1,576.0 311.4,576.0 311.7,578.4 312.0,577.2 312.3,577.7 312.6,577.9 312.9,577.6 313.2,582.8 313.5,584.8 313.8,583.2 314.1,584.4 314.4,581.9 314.7,584.8 315.0,586.6 315.3,586.0 315.6,586.0 315.9,587.5 316.2,589.2 316.5,589.7 316.8,589.9 317.1,591.3 317.4,592.4 317.7,595.2 318.0,595.4 318.3,595.3 318.6,592.5 318.9,592.4 319.2,592.2 319.5,591.8 319.8,591.9 320.1,591.6 320.4,589.6 320.7,591.6 321.0,592.7 321.3,591.2 321.6,591.8 321.9,589.8 322.2,588.0 322.5,588.1 322.8,590.4 323.1,589.3 323.4,586.6 323.7,587.2 324.0,586.3 324.3,585.3 324.6,586.0 324.9,583.3 325.2,581.1 325.5,579.9 325.8,582.2 326.1,581.9 326.4,580.4 326.7,579.0 327.0,579.7 327.3,580.5 327.6,578.0 327.9,577.4 328.2,579.6 328.5,578.1 328.8,575.6 329.1,574.7 329.4,573.5 329.7,573.1 330.0,572.1 330.3,570.0 330.6,568.9 330.9,568.6 331.2,566.6 331.5,566.0 331.8,564.0 332.1,565.3 332.4,566.2 332.7,563.1 333.0,563.2 333.3,562.0 333.6,560.8 333.9,559.2 334.2,558.7 334.5,559.0 334.8,557.6 335.1,558.1 335.4,557.4 335.7,556.4 336.0,556.3 336.3,556.6 336.6,556.2 336.9,556.0 337.2,555.4 337.5,554.8 337.8,555.3 338.1,554.3 338.4,554.8 338.7,554.5 339.0,553.8 339.3,553.3 339.6,552.9 339.9,552.7 340.2,552.4 340.5,551.9 340.8,550.3 341.1,549.0 341.4,549.8 341.7,549.4 342.0,549.1 342.3,549.0 342.6,548.1 342.9,549.2 343.2,548.7 343.5,548.1 343.8,547.0 344.1,547.5 344.4,547.5 344.7,547.8 345.0,548.0 345.3,547.0 345.6,546.1 345.9,547.4 346.2,546.9 346.5,546.9 346.8,547.0 347.1,547.5 347.4,547.9 347.7,547.1 348.0,546.9 348.3,546.2 348.6,547.2 348.9,547.5 349.2,546.6 349.5,548.1 349.8,548.5 350.1,548.1 350.4,548.4 350.7,548.6 351.0,549.3 351.3,549.9 351.6,549.9 351.9,550.7 352.2,549.2 352.5,550.1 352.8,551.5 353.1,552.7 353.4,553.5 353.7,552.9 354.0,552.3 354.3,553.1 354.6,555.4 354.9,555.7 355.2,555.3 355.5,555.3 355.8,558.0 356.1,560.0 356.4,562.8 356.7,565.1 357.0,565.6 357.3,568.3 357.6,570.2 357.9,566.9 358.2,563.3 358.5,559.9 358.8,557.1 359.1,559.5 359.4,560.6 359.7,560.0 360.0,561.1 360.3,560.3 360.6,560.3 360.9,560.3 361.2,560.8 361.5,561.7 361.8,563.4 362.1,563.6 362.4,563.3 362.7,563.5 363.0,563.4 363.3,563.9 363.6,563.5 363.9,564.1 364.2,564.7 364.5,565.5 364.8,565.0 365.1,565.6 365.4,566.0 365.7,565.6 366.0,564.7 366.3,565.3 366.6,566.7 366.9,566.9 367.2,568.8 367.5,568.9 367.8,568.4 368.1,568.7 368.4,569.5 368.7,570.2 369.0,570.3 369.3,571.1 369.6,573.3 369.9,573.6 370.2,573.4 370.5,573.1 370.8,572.3 371.1,573.2 371.4,573.6 371.7,574.3 372.0,574.6 372.3,575.7 372.6,576.4 372.9,575.8 373.2,574.9 373.5,575.6 373.8,576.7 374.1,576.8 374.4,577.0 374.7,575.9 375.0,575.8 375.3,576.5 375.6,576.9 375.9,576.9 376.2,577.3 376.5,577.8 376.8,577.6 377.1,576.9 377.4,576.0 377.7,576.6 378.0,576.6 378.3,576.7 378.6,577.5 378.9,576.9 379.2,576.8 379.5,577.3 379.8,576.6 380.1,575.4 380.4,575.7 380.7,576.7 381.0,576.5 381.3,576.5 381.6,575.1 381.9,575.8 382.2,574.2 382.5,573.6 382.8,573.4 383.1,574.3 383.4,573.5 383.7,572.2 384.0,570.7 384.3,570.3 384.6,569.3 384.9,568.8 385.2,568.7 385.5,569.2 385.8,567.7 386.1,568.1 386.4,565.8 386.7,566.6 387.0,565.1 387.3,564.0 387.6,563.0 387.9,562.6 388.2,561.8 388.5,560.8 388.8,559.7 389.1,558.7 389.4,558.3 389.7,557.3 390.0,556.3 390.3,554.9 390.6,554.7 390.9,554.8 391.2,553.8 391.5,554.2 391.8,553.6 392.1,553.1 392.4,551.5 392.7,551.8 393.0,552.2 393.3,552.7 393.6,551.1 393.9,550.3 394.2,550.2 394.5,549.8 394.8,548.6 395.1,548.1 395.4,548.3 395.7,548.0 396.0,547.2 396.3,547.3 396.6,545.6 396.9,545.7 397.2,544.8 397.5,544.3 397.8,544.7 398.1,545.3 398.4,544.7 398.7,543.9 399.0,544.3 399.3,543.8 399.6,541.4 399.9,540.9 400.2,540.3 400.5,539.9 400.8,538.9 401.1,539.5 401.4,539.4 401.7,540.2 402.0,539.3 402.3,538.8 402.6,537.8 402.9,538.1 403.2,538.3 403.5,538.6 403.8,538.1 404.1,536.7 404.4,536.8 404.7,535.3 405.0,534.4 405.3,534.0 405.6,535.0 405.9,533.6 406.2,532.4 406.5,532.3 406.8,532.7 407.1,532.4 407.4,531.8 407.7,529.4 408.0,527.7 408.3,527.1 408.6,525.4 408.9,523.3 409.2,521.7 409.5,521.3 409.8,524.1 410.1,525.9 410.4,526.9 410.7,530.0 411.0,531.2 411.3,533.2 411.6,535.4 411.9,537.3 412.2,538.6 412.5,540.9 412.8,542.1 413.1,542.2 413.4,543.3 413.7,545.7 414.0,546.8 414.3,547.4 414.6,549.6 414.9,551.1 415.2,551.3 415.5,551.4 415.8,550.8 416.1,550.7 416.4,550.9 416.7,550.2 417.0,550.9 417.3,549.7 417.6,551.0 417.9,550.4 418.2,550.8 418.5,550.9 418.8,552.7 419.1,553.2 419.4,554.7 419.7,555.8 420.0,555.6 420.3,561.0 420.6,563.9 420.9,570.3 421.2,577.7 421.5,586.9 421.8,595.9 422.1,608.6 422.4,617.7 422.7,626.6 423.0,624.8 423.3,623.0 423.6,624.9 423.9,622.4 424.2,619.0 424.5,621.4 424.8,620.2 425.1,621.5 425.4,621.9 425.7,621.9 426.0,622.0 426.3,625.3 426.6,622.2 426.9,625.1 427.2,624.4 427.5,625.1 427.8,624.3 428.1,626.7 428.4,627.6 428.7,626.5 429.0,625.1 429.3,624.2 429.6,621.6 429.9,624.7 430.2,622.0 430.5,617.6 430.8,617.2 431.1,614.7 431.4,610.8 431.7,608.2 432.0,604.8 432.3,608.4 432.6,612.4 432.9,611.7 433.2,610.1 433.5,607.4 433.8,607.1 434.1,609.7 434.4,610.1 434.7,611.6 435.0,610.7 435.3,610.7 435.6,610.2 435.9,610.3 436.2,609.9 436.5,609.5 436.8,606.8 437.1,605.9 437.4,603.1 437.7,602.5 438.0,603.5 438.3,606.6 438.6,605.5 438.9,606.2 439.2,608.0 439.5,608.4 439.8,611.1 440.1,613.5 440.4,614.5 440.7,620.4 441.0,620.1 441.3,618.4 441.6,612.5 441.9,613.4 442.2,612.1 442.5,610.2 442.8,603.4 443.1,602.8 443.4,600.3 443.7,600.2 444.0,598.4 444.3,594.9 444.6,591.8 444.9,592.4 445.2,591.3 445.5,583.9 445.8,580.9 446.1,580.3 446.4,576.7 446.7,574.9 447.0,571.5 447.3,573.4 447.6,572.5 447.9,569.6 448.2,570.7 448.5,569.2 448.8,570.0 449.1,565.6 449.4,560.4 449.7,561.4 450.0,560.1 450.3,555.1 450.6,547.3 450.9,550.3 451.2,551.5 451.5,550.0 451.8,549.2 452.1,549.5 452.4,546.1 452.7,549.0 453.0,545.0 453.3,544.8 453.6,543.9 453.9,541.7 454.2,539.2 454.5,540.5 454.8,535.6 455.1,535.3 455.4,538.4 455.7,536.7 456.0,534.4 456.3,535.4 456.6,531.3 456.9,533.6 457.2,534.5 457.5,536.0 457.8,537.0 458.1,539.1 458.4,538.9 458.7,536.1 459.0,538.8 459.3,535.4 459.6,537.9 459.9,535.0 460.2,531.9 460.5,530.6 460.8,533.3 461.1,533.6 461.4,534.1 461.7,531.4 462.0,533.6 462.3,534.7 462.6,535.7 462.9,535.8 463.2,534.7 463.5,540.3 463.8,539.5" fill="none" stroke="#2020d8" stroke-width="0.5" stroke-opacity="0.9" stroke-linejoin="round"></polyline>
<polyline points="419.1,553.2 419.4,554.7 419.7,555.8 420.0,555.6 420.3,561.0 420.6,563.9 420.9,570.3 421.2,577.7 421.5,586.9 421.8,595.9 422.1,608.6 422.4,617.7 422.7,626.6 423.0,624.8 423.3,623.0 423.6,624.9 423.9,622.4 424.2,619.0 424.5,621.4 424.8,620.2 425.1,621.5 425.4,621.9 425.7,621.9 426.0,622.0 426.3,625.3 426.6,622.2 426.9,625.1 427.2,624.4 427.5,625.1 427.8,624.3 428.1,626.7 428.4,627.6 428.7,626.5 429.0,625.1 429.3,624.2 429.6,621.6 429.9,624.7 430.2,622.0 430.5,617.6 430.8,617.2 431.1,614.7 431.4,610.8 431.7,608.2 432.0,604.8 432.3,608.4 432.6,612.4 432.9,611.7 433.2,610.1 433.5,607.4 433.8,607.1 434.1,609.7 434.4,610.1 434.7,611.6 435.0,610.7 435.3,610.7 435.6,610.2 435.9,610.3 436.2,609.9 436.5,609.5 436.8,606.8 437.1,605.9 437.4,603.1 437.7,602.5 438.0,603.5 438.3,606.6 438.6,605.5 438.9,606.2 439.2,608.0 439.5,608.4 439.8,611.1 440.1,613.5 440.4,614.5 440.7,620.4 441.0,620.1 441.3,618.4 441.6,612.5 441.9,613.4 442.2,612.1 442.5,610.2 442.8,603.4 443.1,602.8 443.4,600.3 443.7,600.2 444.0,598.4 444.3,594.9 444.6,591.8 444.9,592.4 445.2,591.3 445.5,583.9 445.8,580.9 446.1,580.3 446.4,576.7 446.7,574.9 447.0,571.5 447.3,573.4 447.6,572.5 447.9,569.6 448.2,570.7 448.5,569.2 448.8,570.0 449.1,565.6 449.4,560.4 449.7,561.4 450.0,560.1 450.3,555.1 450.6,547.3 450.9,550.3 451.2,551.5 451.5,550.0 451.8,549.2 452.1,549.5 452.4,546.1 452.7,549.0 453.0,545.0 453.3,544.8 453.6,543.9 453.9,541.7 454.2,539.2 454.5,540.5 454.8,535.6 455.1,535.3 455.4,538.4 455.7,536.7 456.0,534.4 456.3,535.4 456.6,531.3 456.9,533.6 457.2,534.5 457.5,536.0 457.8,537.0 458.1,539.1 458.4,538.9 458.7,536.1 459.0,538.8 459.3,535.4 459.6,537.9 459.9,535.0 460.2,531.9 460.5,530.6 460.8,533.3 461.1,533.6 461.4,534.1 461.7,531.4 462.0,533.6 462.3,534.7 462.6,535.7 462.9,535.8 463.2,534.7 463.5,540.3 463.8,539.5" fill="none" stroke="#2020d8" stroke-width="0.9" stroke-opacity="0.9" stroke-linejoin="round"></polyline>
<rect x="287.4" y="502.5" width="185.6" height="138" fill="none" stroke="#222" stroke-width="0.6"></rect>
<text x="380.2" y="499" font-size="6.9" fill="#222" text-anchor="middle" font-weight="400" fill-opacity="1" textLength="90" lengthAdjust="spacingAndGlyphs">GOES Magnetometer (1 min)</text>
<text x="284.3" y="515.6" font-size="5.9" fill="#222" text-anchor="end" font-weight="400" fill-opacity="1">140</text>
<line x1="285.9" x2="287.4" y1="513.5" y2="513.5" stroke="#222" stroke-width="0.45"></line>
<text x="284.3" y="537.8000000000001" font-size="5.9" fill="#222" text-anchor="end" font-weight="400" fill-opacity="1">120</text>
<line x1="285.9" x2="287.4" y1="535.7" y2="535.7" stroke="#222" stroke-width="0.45"></line>
<text x="284.3" y="559.6" font-size="5.9" fill="#222" text-anchor="end" font-weight="400" fill-opacity="1">100</text>
<line x1="285.9" x2="287.4" y1="557.5" y2="557.5" stroke="#222" stroke-width="0.45"></line>
<text x="284.3" y="582.1" font-size="5.9" fill="#222" text-anchor="end" font-weight="400" fill-opacity="1">80</text>
<line x1="285.9" x2="287.4" y1="580" y2="580" stroke="#222" stroke-width="0.45"></line>
<text x="284.3" y="604.5" font-size="5.9" fill="#222" text-anchor="end" font-weight="400" fill-opacity="1">60</text>
<line x1="285.9" x2="287.4" y1="602.4" y2="602.4" stroke="#222" stroke-width="0.45"></line>
<text x="284.3" y="626.7" font-size="5.9" fill="#222" text-anchor="end" font-weight="400" fill-opacity="1">40</text>
<line x1="285.9" x2="287.4" y1="624.6" y2="624.6" stroke="#222" stroke-width="0.45"></line>
<text x="307.6" y="648.7" font-size="5.9" fill="#222" text-anchor="middle" font-weight="400" fill-opacity="1">03-31 00</text>
<text x="335.6" y="648.7" font-size="5.9" fill="#222" text-anchor="middle" font-weight="400" fill-opacity="1">03-31 12</text>
<text x="363.8" y="648.7" font-size="5.9" fill="#222" text-anchor="middle" font-weight="400" fill-opacity="1">04-01 00</text>
<text x="392" y="648.7" font-size="5.9" fill="#222" text-anchor="middle" font-weight="400" fill-opacity="1">04-01 12</text>
<text x="420.2" y="648.7" font-size="5.9" fill="#222" text-anchor="middle" font-weight="400" fill-opacity="1">04-02 00</text>
<text x="448.5" y="648.7" font-size="5.9" fill="#222" text-anchor="middle" font-weight="400" fill-opacity="1">04-02 12</text>
<text x="380" y="654.8" font-size="5.4" fill="#222" text-anchor="middle" font-weight="400" fill-opacity="1">UTC</text>
<text x="494.5" y="658.4" font-size="4.05" fill="#333" text-anchor="end" font-weight="400" fill-opacity="1">Magnetometer data from swpc.noaa.gov. Plot by "9 RESE LLC" for spaceweathernews.com</text>
<text x="271" y="591.5" font-size="5.5" fill="#222" text-anchor="start" font-weight="400" fill-opacity="1" transform="rotate(-90 271 591.5)">NanoTesla (nT)</text>
<text x="489" y="572.5" font-size="5.2" fill="#2020d8" text-anchor="start" font-weight="400" fill-opacity="1" transform="rotate(-90 489 572.5)">GOES 16</text>
<text x="489" y="626.5" font-size="5.2" fill="#e8202a" text-anchor="start" font-weight="400" fill-opacity="1" transform="rotate(-90 489 626.5)">GOES 18</text>
<rect x="501.1" y="480.8" width="240.2" height="143.8" fill="#fff"></rect>
<path d="M531 494.9H717.7" stroke="#ccc" stroke-width="0.4"></path><path d="M717.7 494.9V587.5" stroke="#ddd" stroke-width="0.4"></path>
<rect x="531.8" y="539.4" width="2.1" height="48.1" fill="#ffff66"></rect>
<rect x="534.8" y="542.9" width="2.1" height="44.6" fill="#ffff66"></rect>
<rect x="537.8" y="563.5" width="2.1" height="24.0" fill="#66ee55"></rect>
<rect x="540.8" y="553.2" width="2.1" height="34.3" fill="#66ee55"></rect>
<rect x="543.8" y="529.2" width="2.1" height="58.3" fill="#ffd04a"></rect>
<rect x="546.8" y="529.2" width="2.1" height="58.3" fill="#ffd04a"></rect>
<rect x="549.8" y="522.4" width="2.1" height="65.1" fill="#f5923a"></rect>
<rect x="552.8" y="539.4" width="2.1" height="48.1" fill="#ffff66"></rect>
<rect x="555.8" y="546.3" width="2.1" height="41.2" fill="#ffff66"></rect>
<rect x="558.8" y="539.4" width="2.1" height="48.1" fill="#ffff66"></rect>
<rect x="561.8" y="539.4" width="2.1" height="48.1" fill="#ffff66"></rect>
<rect x="564.8" y="546.3" width="2.1" height="41.2" fill="#ffff66"></rect>
<rect x="567.8" y="539.4" width="2.1" height="48.1" fill="#ffff66"></rect>
<rect x="570.8" y="536.0" width="2.1" height="51.4" fill="#ffd04a"></rect>
<rect x="573.8" y="549.7" width="2.1" height="37.8" fill="#66ee55"></rect>
<rect x="576.8" y="549.7" width="2.1" height="37.8" fill="#66ee55"></rect>
<rect x="579.8" y="560.0" width="2.1" height="27.5" fill="#66ee55"></rect>
<rect x="582.8" y="553.2" width="2.1" height="34.3" fill="#66ee55"></rect>
<rect x="585.8" y="553.2" width="2.1" height="34.3" fill="#66ee55"></rect>
<rect x="588.8" y="563.5" width="2.1" height="24.0" fill="#66ee55"></rect>
<rect x="591.8" y="556.6" width="2.1" height="30.9" fill="#66ee55"></rect>
<rect x="594.8" y="553.2" width="2.1" height="34.3" fill="#66ee55"></rect>
<rect x="597.8" y="560.0" width="2.1" height="27.5" fill="#66ee55"></rect>
<rect x="600.8" y="549.7" width="2.1" height="37.8" fill="#66ee55"></rect>
<rect x="603.8" y="553.2" width="2.1" height="34.3" fill="#66ee55"></rect>
<rect x="606.8" y="549.7" width="2.1" height="37.8" fill="#66ee55"></rect>
<rect x="609.8" y="570.3" width="2.1" height="17.2" fill="#66ee55"></rect>
<rect x="612.8" y="566.9" width="2.1" height="20.6" fill="#66ee55"></rect>
<rect x="615.8" y="570.3" width="2.1" height="17.2" fill="#66ee55"></rect>
<rect x="618.8" y="573.8" width="2.1" height="13.7" fill="#66ee55"></rect>
<rect x="621.8" y="580.6" width="2.1" height="6.9" fill="#66ee55"></rect>
<rect x="624.8" y="577.2" width="2.1" height="10.3" fill="#66ee55"></rect>
<rect x="627.8" y="566.9" width="2.1" height="20.6" fill="#66ee55"></rect>
<rect x="630.8" y="563.5" width="2.1" height="24.0" fill="#66ee55"></rect>
<rect x="633.8" y="560.0" width="2.1" height="27.5" fill="#66ee55"></rect>
<rect x="636.8" y="570.3" width="2.1" height="17.2" fill="#66ee55"></rect>
<rect x="639.8" y="573.8" width="2.1" height="13.7" fill="#66ee55"></rect>
<rect x="642.8" y="577.2" width="2.1" height="10.3" fill="#66ee55"></rect>
<rect x="645.8" y="573.8" width="2.1" height="13.7" fill="#66ee55"></rect>
<rect x="648.8" y="577.2" width="2.1" height="10.3" fill="#66ee55"></rect>
<rect x="651.8" y="577.2" width="2.1" height="10.3" fill="#66ee55"></rect>
<rect x="654.8" y="566.9" width="2.1" height="20.6" fill="#66ee55"></rect>
<rect x="657.8" y="566.9" width="2.1" height="20.6" fill="#66ee55"></rect>
<rect x="660.8" y="560.0" width="2.1" height="27.5" fill="#66ee55"></rect>
<rect x="663.8" y="570.3" width="2.1" height="17.2" fill="#66ee55"></rect>
<rect x="666.8" y="573.8" width="2.1" height="13.7" fill="#66ee55"></rect>
<rect x="669.8" y="573.8" width="2.1" height="13.7" fill="#66ee55"></rect>
<rect x="672.8" y="577.2" width="2.1" height="10.3" fill="#66ee55"></rect>
<rect x="675.8" y="577.2" width="2.1" height="10.3" fill="#66ee55"></rect>
<rect x="678.8" y="573.8" width="2.1" height="13.7" fill="#66ee55"></rect>
<rect x="681.8" y="573.8" width="2.1" height="13.7" fill="#66ee55"></rect>
<rect x="684.8" y="577.2" width="2.1" height="10.3" fill="#66ee55"></rect>
<rect x="687.8" y="570.3" width="2.1" height="17.2" fill="#66ee55"></rect>
<rect x="690.8" y="577.2" width="2.1" height="10.3" fill="#66ee55"></rect>
<rect x="693.8" y="566.9" width="2.1" height="20.6" fill="#66ee55"></rect>
<rect x="696.8" y="566.9" width="2.1" height="20.6" fill="#66ee55"></rect>
<rect x="699.8" y="542.9" width="2.1" height="44.6" fill="#ffff66"></rect>
<rect x="702.8" y="549.7" width="2.1" height="37.8" fill="#66ee55"></rect>
<rect x="705.8" y="546.3" width="2.1" height="41.2" fill="#ffff66"></rect>
<rect x="708.8" y="546.3" width="2.1" height="41.2" fill="#ffff66"></rect>
<rect x="711.8" y="553.2" width="2.1" height="34.3" fill="#66ee55"></rect>
<rect x="714.8" y="566.9" width="2.1" height="20.6" fill="#66ee55"></rect>
<path d="M531 494.9V587.5H717.7" stroke="#aaa" stroke-width="0.45" fill="none"></path>
<rect x="528.4" y="586.9" width="1.6" height="1.2" fill="#888" opacity="0.7"></rect>
<rect x="528.4" y="576.6" width="1.6" height="1.2" fill="#888" opacity="0.7"></rect>
<rect x="528.4" y="566.3" width="1.6" height="1.2" fill="#888" opacity="0.7"></rect>
<rect x="528.4" y="556.0" width="1.6" height="1.2" fill="#888" opacity="0.7"></rect>
<rect x="528.4" y="545.7" width="1.6" height="1.2" fill="#888" opacity="0.7"></rect>
<rect x="528.4" y="535.4" width="1.6" height="1.2" fill="#888" opacity="0.7"></rect>
<rect x="528.4" y="525.2" width="1.6" height="1.2" fill="#888" opacity="0.7"></rect>
<rect x="528.4" y="514.9" width="1.6" height="1.2" fill="#888" opacity="0.7"></rect>
<rect x="528.4" y="504.6" width="1.6" height="1.2" fill="#888" opacity="0.7"></rect>
<rect x="528.4" y="494.3" width="1.6" height="1.2" fill="#888" opacity="0.7"></rect>
<text x="624" y="494.3" font-size="3.6" fill="#444" text-anchor="middle" font-weight="400" fill-opacity="1" textLength="60" lengthAdjust="spacingAndGlyphs">Estimated Planetary K index(3 hours)</text>
<line x1="532.8" y1="588.6" x2="529.4" y2="592.6" stroke="#888" stroke-width="0.5" opacity="0.7"></line>
<line x1="535.8" y1="588.6" x2="532.4" y2="592.6" stroke="#888" stroke-width="0.5" opacity="0.7"></line>
<line x1="538.8" y1="588.6" x2="535.4" y2="592.6" stroke="#888" stroke-width="0.5" opacity="0.7"></line>
<line x1="541.8" y1="588.6" x2="538.4" y2="592.6" stroke="#888" stroke-width="0.5" opacity="0.7"></line>
<line x1="544.8" y1="588.6" x2="541.4" y2="592.6" stroke="#888" stroke-width="0.5" opacity="0.7"></line>
<line x1="547.8" y1="588.6" x2="544.4" y2="592.6" stroke="#888" stroke-width="0.5" opacity="0.7"></line>
<line x1="550.8" y1="588.6" x2="547.4" y2="592.6" stroke="#888" stroke-width="0.5" opacity="0.7"></line>
<line x1="553.8" y1="588.6" x2="550.4" y2="592.6" stroke="#888" stroke-width="0.5" opacity="0.7"></line>
<line x1="556.8" y1="588.6" x2="553.4" y2="592.6" stroke="#888" stroke-width="0.5" opacity="0.7"></line>
<line x1="559.8" y1="588.6" x2="556.4" y2="592.6" stroke="#888" stroke-width="0.5" opacity="0.7"></line>
<line x1="562.8" y1="588.6" x2="559.4" y2="592.6" stroke="#888" stroke-width="0.5" opacity="0.7"></line>
<line x1="565.8" y1="588.6" x2="562.4" y2="592.6" stroke="#888" stroke-width="0.5" opacity="0.7"></line>
<line x1="568.8" y1="588.6" x2="565.4" y2="592.6" stroke="#888" stroke-width="0.5" opacity="0.7"></line>
<line x1="571.8" y1="588.6" x2="568.4" y2="592.6" stroke="#888" stroke-width="0.5" opacity="0.7"></line>
<line x1="574.8" y1="588.6" x2="571.4" y2="592.6" stroke="#888" stroke-width="0.5" opacity="0.7"></line>
<line x1="577.8" y1="588.6" x2="574.4" y2="592.6" stroke="#888" stroke-width="0.5" opacity="0.7"></line>
<line x1="580.8" y1="588.6" x2="577.4" y2="592.6" stroke="#888" stroke-width="0.5" opacity="0.7"></line>
<line x1="583.8" y1="588.6" x2="580.4" y2="592.6" stroke="#888" stroke-width="0.5" opacity="0.7"></line>
<line x1="586.8" y1="588.6" x2="583.4" y2="592.6" stroke="#888" stroke-width="0.5" opacity="0.7"></line>
<line x1="589.8" y1="588.6" x2="586.4" y2="592.6" stroke="#888" stroke-width="0.5" opacity="0.7"></line>
<line x1="592.8" y1="588.6" x2="589.4" y2="592.6" stroke="#888" stroke-width="0.5" opacity="0.7"></line>
<line x1="595.8" y1="588.6" x2="592.4" y2="592.6" stroke="#888" stroke-width="0.5" opacity="0.7"></line>
<line x1="598.8" y1="588.6" x2="595.4" y2="592.6" stroke="#888" stroke-width="0.5" opacity="0.7"></line>
<line x1="601.8" y1="588.6" x2="598.4" y2="592.6" stroke="#888" stroke-width="0.5" opacity="0.7"></line>
<line x1="604.8" y1="588.6" x2="601.4" y2="592.6" stroke="#888" stroke-width="0.5" opacity="0.7"></line>
<line x1="607.8" y1="588.6" x2="604.4" y2="592.6" stroke="#888" stroke-width="0.5" opacity="0.7"></line>
<line x1="610.8" y1="588.6" x2="607.4" y2="592.6" stroke="#888" stroke-width="0.5" opacity="0.7"></line>
<line x1="613.8" y1="588.6" x2="610.4" y2="592.6" stroke="#888" stroke-width="0.5" opacity="0.7"></line>
<line x1="616.8" y1="588.6" x2="613.4" y2="592.6" stroke="#888" stroke-width="0.5" opacity="0.7"></line>
<line x1="619.8" y1="588.6" x2="616.4" y2="592.6" stroke="#888" stroke-width="0.5" opacity="0.7"></line>
<line x1="622.8" y1="588.6" x2="619.4" y2="592.6" stroke="#888" stroke-width="0.5" opacity="0.7"></line>
<line x1="625.8" y1="588.6" x2="622.4" y2="592.6" stroke="#888" stroke-width="0.5" opacity="0.7"></line>
<line x1="628.8" y1="588.6" x2="625.4" y2="592.6" stroke="#888" stroke-width="0.5" opacity="0.7"></line>
<line x1="631.8" y1="588.6" x2="628.4" y2="592.6" stroke="#888" stroke-width="0.5" opacity="0.7"></line>
<line x1="634.8" y1="588.6" x2="631.4" y2="592.6" stroke="#888" stroke-width="0.5" opacity="0.7"></line>
<line x1="637.8" y1="588.6" x2="634.4" y2="592.6" stroke="#888" stroke-width="0.5" opacity="0.7"></line>
<line x1="640.8" y1="588.6" x2="637.4" y2="592.6" stroke="#888" stroke-width="0.5" opacity="0.7"></line>
<line x1="643.8" y1="588.6" x2="640.4" y2="592.6" stroke="#888" stroke-width="0.5" opacity="0.7"></line>
<line x1="646.8" y1="588.6" x2="643.4" y2="592.6" stroke="#888" stroke-width="0.5" opacity="0.7"></line>
<line x1="649.8" y1="588.6" x2="646.4" y2="592.6" stroke="#888" stroke-width="0.5" opacity="0.7"></line>
<line x1="652.8" y1="588.6" x2="649.4" y2="592.6" stroke="#888" stroke-width="0.5" opacity="0.7"></line>
<line x1="655.8" y1="588.6" x2="652.4" y2="592.6" stroke="#888" stroke-width="0.5" opacity="0.7"></line>
<line x1="658.8" y1="588.6" x2="655.4" y2="592.6" stroke="#888" stroke-width="0.5" opacity="0.7"></line>
<line x1="661.8" y1="588.6" x2="658.4" y2="592.6" stroke="#888" stroke-width="0.5" opacity="0.7"></line>
<line x1="664.8" y1="588.6" x2="661.4" y2="592.6" stroke="#888" stroke-width="0.5" opacity="0.7"></line>
<line x1="667.8" y1="588.6" x2="664.4" y2="592.6" stroke="#888" stroke-width="0.5" opacity="0.7"></line>
<line x1="670.8" y1="588.6" x2="667.4" y2="592.6" stroke="#888" stroke-width="0.5" opacity="0.7"></line>
<line x1="673.8" y1="588.6" x2="670.4" y2="592.6" stroke="#888" stroke-width="0.5" opacity="0.7"></line>
<line x1="676.8" y1="588.6" x2="673.4" y2="592.6" stroke="#888" stroke-width="0.5" opacity="0.7"></line>
<line x1="679.8" y1="588.6" x2="676.4" y2="592.6" stroke="#888" stroke-width="0.5" opacity="0.7"></line>
<line x1="682.8" y1="588.6" x2="679.4" y2="592.6" stroke="#888" stroke-width="0.5" opacity="0.7"></line>
<line x1="685.8" y1="588.6" x2="682.4" y2="592.6" stroke="#888" stroke-width="0.5" opacity="0.7"></line>
<line x1="688.8" y1="588.6" x2="685.4" y2="592.6" stroke="#888" stroke-width="0.5" opacity="0.7"></line>
<line x1="691.8" y1="588.6" x2="688.4" y2="592.6" stroke="#888" stroke-width="0.5" opacity="0.7"></line>
<line x1="694.8" y1="588.6" x2="691.4" y2="592.6" stroke="#888" stroke-width="0.5" opacity="0.7"></line>
<line x1="697.8" y1="588.6" x2="694.4" y2="592.6" stroke="#888" stroke-width="0.5" opacity="0.7"></line>
<line x1="700.8" y1="588.6" x2="697.4" y2="592.6" stroke="#888" stroke-width="0.5" opacity="0.7"></line>
<line x1="703.8" y1="588.6" x2="700.4" y2="592.6" stroke="#888" stroke-width="0.5" opacity="0.7"></line>
<line x1="706.8" y1="588.6" x2="703.4" y2="592.6" stroke="#888" stroke-width="0.5" opacity="0.7"></line>
<line x1="709.8" y1="588.6" x2="706.4" y2="592.6" stroke="#888" stroke-width="0.5" opacity="0.7"></line>
<line x1="712.8" y1="588.6" x2="709.4" y2="592.6" stroke="#888" stroke-width="0.5" opacity="0.7"></line>
<line x1="715.8" y1="588.6" x2="712.4" y2="592.6" stroke="#888" stroke-width="0.5" opacity="0.7"></line>
<text x="624" y="597.6" font-size="2.6" fill="#555" text-anchor="middle" font-weight="400" fill-opacity="1" textLength="15" lengthAdjust="spacingAndGlyphs">Universal Time</text>
<rect x="531.0" y="608" width="25.5" height="9" fill="#33ee33"></rect>
<rect x="538.0" y="611.9" width="9" height="1.4" fill="#553" opacity="0.55"></rect>
<rect x="556.3" y="608" width="25.5" height="9" fill="#ffff33"></rect>
<rect x="563.3" y="611.9" width="9" height="1.4" fill="#553" opacity="0.55"></rect>
<rect x="581.7" y="608" width="25.5" height="9" fill="#ffc832"></rect>
<rect x="588.7" y="611.9" width="13" height="1.4" fill="#553" opacity="0.55"></rect>
<rect x="607.0" y="608" width="25.5" height="9" fill="#ff981e"></rect>
<rect x="614.0" y="611.9" width="13" height="1.4" fill="#553" opacity="0.55"></rect>
<rect x="632.3" y="608" width="25.5" height="9" fill="#ff8a1e"></rect>
<rect x="639.3" y="611.9" width="13" height="1.4" fill="#553" opacity="0.55"></rect>
<rect x="657.6" y="608" width="25.5" height="9" fill="#ff1414"></rect>
<rect x="664.6" y="611.9" width="13" height="1.4" fill="#553" opacity="0.55"></rect>
<rect x="683.0" y="608" width="25.5" height="9" fill="#8b0a0a"></rect>
<rect x="622" y="619.6" width="80" height="1.2" fill="#777" opacity="0.5"></rect>
<rect x="745.8" y="508.2" width="224.2" height="125" fill="#fff"></rect>
<rect x="788.1" y="536.4" width="152.5" height="5.5" fill="#c4c4c4"></rect>
<rect x="788.1" y="541.9" width="152.5" height="5.5" fill="#f2ea60"></rect>
<rect x="788.1" y="547.4" width="152.5" height="5.100000000000023" fill="#f4c468"></rect>
<rect x="788.1" y="552.5" width="152.5" height="5.5" fill="#f69a64"></rect>
<rect x="788.1" y="558" width="152.5" height="8.700000000000045" fill="#f8605c"></rect>
<rect x="788.1" y="566.7" width="152.5" height="21.799999999999955" fill="#e860e0"></rect>
<line x1="788.1" x2="940.6" y1="536.4" y2="536.4" stroke="#8a8a8a" stroke-width="0.5"></line>
<line x1="788.1" x2="940.6" y1="541.9" y2="541.9" stroke="#8a8a8a" stroke-width="0.5"></line>
<line x1="788.1" x2="940.6" y1="547.4" y2="547.4" stroke="#8a8a8a" stroke-width="0.5"></line>
<line x1="788.1" x2="940.6" y1="552.5" y2="552.5" stroke="#8a8a8a" stroke-width="0.5"></line>
<line x1="788.1" x2="940.6" y1="558" y2="558" stroke="#8a8a8a" stroke-width="0.5"></line>
<line x1="788.1" x2="940.6" y1="566.7" y2="566.7" stroke="#8a8a8a" stroke-width="0.5"></line>
<line x1="788.1" x2="940.6" y1="588.5" y2="588.5" stroke="#9a7a9a" stroke-width="0.5"></line>
<path d="M861.5 518.1C864.6 518.3 873.5 518.8 880.0 519.2C886.5 519.7 893.3 520.2 900.5 520.8C907.7 521.4 916.7 522.2 923.4 522.7C930.1 523.2 937.7 523.8 940.6 524.0" fill="none" stroke="#e040d8" stroke-width="1.15" stroke-linecap="round"></path>
<path d="M797.3 518.1C799.8 518.9 806.3 521.0 812.0 523.0C817.7 525.0 824.6 527.8 831.7 530.0C838.8 532.2 847.0 534.4 854.6 536.4C862.2 538.4 869.9 540.4 877.5 541.9C885.1 543.4 892.9 544.5 900.5 545.6C908.1 546.7 916.7 547.5 923.4 548.3C930.1 549.1 937.7 549.9 940.6 550.2" fill="none" stroke="#f03830" stroke-width="1.15" stroke-linecap="round"></path>
<path d="M790.4 518.1C792.7 519.9 799.0 525.1 804.0 529.0C809.0 532.9 811.8 536.4 820.2 541.5C828.6 546.6 845.1 554.8 854.6 559.8C864.1 564.8 869.9 567.9 877.5 571.3C885.1 574.7 892.9 577.5 900.5 580.4C908.1 583.3 916.7 586.4 923.4 588.5C930.1 590.6 937.7 592.2 940.6 593.0" fill="none" stroke="#f58a30" stroke-width="1.15" stroke-linecap="round"></path>
<path d="M788.6 518.1C790.0 520.1 793.6 525.7 797.0 530.0C800.4 534.3 803.0 538.1 808.8 543.8C814.6 549.5 824.1 558.3 831.7 564.4C839.3 570.5 847.0 575.8 854.6 580.4C862.2 585.0 869.9 588.5 877.5 591.9C885.1 595.3 892.9 598.3 900.5 601.0C908.1 603.7 916.7 606.1 923.4 607.9C930.1 609.7 937.7 611.3 940.6 612.0" fill="none" stroke="#f4e030" stroke-width="1.15" stroke-linecap="round"></path>
<path d="M788.3 518.1C788.8 520.1 790.0 525.7 791.5 530.0C793.0 534.3 795.0 538.8 797.3 543.8C799.5 548.8 802.0 554.6 805.0 560.0C808.0 565.4 811.1 570.6 815.6 575.9C820.1 581.2 825.2 586.9 831.7 591.9C838.2 596.9 847.0 602.7 854.6 605.7C862.2 608.8 869.9 609.2 877.5 610.2C885.1 611.2 896.7 611.7 900.5 612.0" fill="none" stroke="#28d840" stroke-width="1.15" stroke-linecap="round"></path>
<path d="M788.2 518.1C788.3 521.8 788.2 531.9 789.0 540.0C789.8 548.1 790.9 558.2 792.7 566.7C794.5 575.2 797.6 585.2 800.0 590.8C802.4 596.3 804.4 597.5 807.0 600.0C809.6 602.5 810.7 603.9 815.6 605.7C820.5 607.5 828.8 610.0 836.3 611.0C843.8 612.0 856.3 611.8 860.3 612.0" fill="none" stroke="#2838e0" stroke-width="1.15" stroke-linecap="round"></path>
<rect x="788.1" y="518.1" width="152.5" height="93.89999999999998" fill="none" stroke="#555" stroke-width="0.55"></rect>
<text x="942.4" y="540.3" font-size="3.9" fill="#222" text-anchor="start" font-weight="700" fill-opacity="1" style="font-family:'Liberation Serif',serif">Now (20%)</text>
<text x="942.4" y="545.4" font-size="3.9" fill="#222" text-anchor="start" font-weight="700" fill-opacity="1" style="font-family:'Liberation Serif',serif">Kp5</text>
<text x="942.4" y="550.4" font-size="3.9" fill="#222" text-anchor="start" font-weight="700" fill-opacity="1" style="font-family:'Liberation Serif',serif">Kp6</text>
<text x="942.4" y="555.3" font-size="3.9" fill="#222" text-anchor="start" font-weight="700" fill-opacity="1" style="font-family:'Liberation Serif',serif">Kp7</text>
<text x="942.4" y="564.6" font-size="3.9" fill="#222" text-anchor="start" font-weight="700" fill-opacity="1" style="font-family:'Liberation Serif',serif">Kp8</text>
<text x="942.4" y="579.6" font-size="3.9" fill="#222" text-anchor="start" font-weight="700" fill-opacity="1" style="font-family:'Liberation Serif',serif">Kp9</text>
<rect x="780.8" y="519.9" width="2.6" height="1.4" fill="#666" opacity="0.6"></rect>
<rect x="780.8" y="528.8" width="2.6" height="1.4" fill="#666" opacity="0.6"></rect>
<rect x="780.8" y="537.7" width="2.6" height="1.4" fill="#666" opacity="0.6"></rect>
<rect x="780.8" y="546.6" width="2.6" height="1.4" fill="#666" opacity="0.6"></rect>
<rect x="780.8" y="555.5" width="2.6" height="1.4" fill="#666" opacity="0.6"></rect>
<rect x="780.8" y="564.4" width="2.6" height="1.4" fill="#666" opacity="0.6"></rect>
<rect x="780.8" y="573.3" width="2.6" height="1.4" fill="#666" opacity="0.6"></rect>
<rect x="780.8" y="582.2" width="2.6" height="1.4" fill="#666" opacity="0.6"></rect>
<rect x="780.8" y="591.1" width="2.6" height="1.4" fill="#666" opacity="0.6"></rect>
<rect x="780.8" y="600.0" width="2.6" height="1.4" fill="#666" opacity="0.6"></rect>
<rect x="780.8" y="608.9" width="2.6" height="1.4" fill="#666" opacity="0.6"></rect>
<rect x="786.5" y="616.3" width="3.2" height="1.5" fill="#666" opacity="0.6"></rect>
<rect x="824.6" y="616.3" width="3.2" height="1.5" fill="#666" opacity="0.6"></rect>
<rect x="862.6999999999999" y="616.3" width="3.2" height="1.5" fill="#666" opacity="0.6"></rect>
<rect x="900.9" y="616.3" width="3.2" height="1.5" fill="#666" opacity="0.6"></rect>
<rect x="939.0" y="616.3" width="3.2" height="1.5" fill="#666" opacity="0.6"></rect>
<text x="762.5" y="563.2" font-size="3.2" fill="#444" text-anchor="middle" font-weight="400" fill-opacity="1" style="font-family:'Liberation Serif',serif">Field Loss</text>
<text x="762.5" y="568" font-size="3.2" fill="#444" text-anchor="middle" font-weight="400" fill-opacity="1" style="font-family:'Liberation Serif',serif">(%)</text>
<text x="862" y="624.6" font-size="3.5" fill="#444" text-anchor="middle" font-weight="400" fill-opacity="1" style="font-family:'Liberation Serif',serif" textLength="45" lengthAdjust="spacingAndGlyphs">Chance of Field Collapse (%)</text>
<rect x="803" y="594.2" width="4.5" height="1.7" fill="#4050e0" opacity="0.6"></rect>
<rect x="829" y="591.2" width="4.5" height="1.7" fill="#9040e0" opacity="0.6"></rect>
<rect x="856" y="585.2" width="4.5" height="1.7" fill="#d040d0" opacity="0.6"></rect>
<rect x="875" y="578.2" width="4.5" height="1.7" fill="#c050e0" opacity="0.6"></rect>
<rect x="901" y="548.2" width="4.5" height="1.7" fill="#c0a040" opacity="0.6"></rect>
<rect x="918" y="525.2" width="4.5" height="1.7" fill="#9050e0" opacity="0.6"></rect>
<rect x="896" y="484.6" width="1" height="7" fill="#d3d3d3"></rect>
<rect x="898" y="484.6" width="1" height="7" fill="#d3d3d3"></rect>
<rect x="900" y="484.6" width="1" height="7" fill="#d3d3d3"></rect>
<rect x="902" y="484.6" width="1" height="7" fill="#d3d3d3"></rect>
<rect x="904" y="484.6" width="1" height="7" fill="#d3d3d3"></rect>
<rect x="906" y="484.6" width="1" height="7" fill="#d3d3d3"></rect>
<rect x="908" y="484.6" width="1" height="7" fill="#d3d3d3"></rect>
<rect x="910" y="484.6" width="1" height="7" fill="#d3d3d3"></rect>
<rect x="912" y="484.6" width="1" height="7" fill="#d3d3d3"></rect>
<rect x="914" y="484.6" width="1" height="7" fill="#d3d3d3"></rect>
<rect x="916" y="484.6" width="1" height="7" fill="#d3d3d3"></rect>
<rect x="918" y="484.6" width="1" height="7" fill="#d3d3d3"></rect>
<rect x="920" y="484.6" width="1" height="7" fill="#d3d3d3"></rect>
<rect x="922" y="484.6" width="1" height="7" fill="#d3d3d3"></rect>
<rect x="924" y="484.6" width="1" height="7" fill="#d3d3d3"></rect>
<rect x="926" y="484.6" width="1" height="7" fill="#d3d3d3"></rect>
<rect x="928" y="484.6" width="1" height="7" fill="#d3d3d3"></rect>
<rect x="930" y="484.6" width="1" height="7" fill="#d3d3d3"></rect>
<rect x="932" y="484.6" width="1" height="7" fill="#d3d3d3"></rect>
<rect x="934" y="484.6" width="1" height="7" fill="#d3d3d3"></rect>
<rect x="936" y="484.6" width="1" height="7" fill="#d3d3d3"></rect>
<rect x="938" y="484.6" width="1" height="7" fill="#d3d3d3"></rect>
<rect x="940" y="484.6" width="1" height="7" fill="#d3d3d3"></rect>
<rect x="942" y="484.6" width="1" height="7" fill="#d3d3d3"></rect>
<rect x="944" y="484.6" width="1" height="7" fill="#d3d3d3"></rect>
<rect x="946" y="484.6" width="1" height="7" fill="#d3d3d3"></rect>
<rect x="948" y="484.6" width="1" height="7" fill="#d3d3d3"></rect>
<rect x="950" y="484.6" width="1" height="7" fill="#d3d3d3"></rect>
<rect x="952" y="484.6" width="1" height="7" fill="#d3d3d3"></rect>
<rect x="954" y="484.6" width="1" height="7" fill="#d3d3d3"></rect>
<rect x="956" y="484.6" width="1" height="7" fill="#d3d3d3"></rect>
<rect x="958" y="484.6" width="1" height="7" fill="#d3d3d3"></rect>
<rect x="960" y="484.6" width="1" height="7" fill="#d3d3d3"></rect>
<rect x="962" y="484.6" width="1" height="7" fill="#d3d3d3"></rect>
<rect x="964" y="484.6" width="1" height="7" fill="#d3d3d3"></rect>
<rect x="966" y="484.6" width="1" height="7" fill="#d3d3d3"></rect>
<rect x="968" y="484.6" width="1" height="7" fill="#d3d3d3"></rect>
</g></svg>
<div class="a" style="left:264px;top:259.5px;width:36px;height:12.8px;border-radius:6.4px;background:#e60023"></div>
<svg class="a" style="left:266.6px;top:261.9px" width="8" height="8" viewBox="0 0 8 8"><circle cx="4" cy="4" r="3.9" fill="#fff"></circle><path d="M3.2 6.9C3.4 6.2 3.6 5.4 3.8 4.8C4.1 5.2 5.1 5.1 5.5 4.4C6 3.5 5.8 2.2 4.6 1.8C3.3 1.4 2.2 2.2 2.2 3.3C2.2 3.8 2.4 4.3 2.8 4.4" stroke="#e60023" stroke-width="0.8" fill="none"></path></svg>
<span class="t" style="left: 277.6px; top: 258px; height: 16px; line-height: 16px; font-size: 7.6px; color: rgb(255, 255, 255); font-weight: 700; font-family: &quot;Liberation Sans&quot;, sans-serif; letter-spacing: -0.313px;">Save</span>
<div class="a" style="left:487.5px;top:403.6px;width:91px;height:12.4px;border-radius:2.5px;background:#e7e7e7;box-shadow:0 0.5px 2px rgba(0,0,0,.25)"></div>
<span class="t" style="left: 491.8px; top: 401.8px; height: 16px; line-height: 16px; font-size: 8px; color: rgb(74, 74, 74); font-weight: 400; font-family: &quot;Liberation Sans&quot;, sans-serif; -webkit-text-stroke: 0.18px rgb(74, 74, 74); letter-spacing: -0.046px;">Click to view full screen</span>
<svg class="a" style="left:439.5px;top:382px" width="9" height="14" viewBox="0 0 9 14"><path d="M0.8 0.8V11L3.2 8.8 4.9 12.8 6.6 12 4.9 8.2H8.2Z" fill="#000" stroke="#fff" stroke-width="0.8"></path></svg>
<span class="t" style="left: 746px; top: 253.8px; height: 16px; line-height: 16px; font-size: 10.65px; color: rgb(17, 17, 17); font-weight: 400; font-family: &quot;Liberation Serif&quot;, sans-serif; letter-spacing: 0.01px;">Learn About Solar Wind <b style="color:#1a62a6">Here</b></span>
<span class="t" style="left: 746px; top: 284.8px; height: 16px; line-height: 16px; font-size: 10.65px; color: rgb(17, 17, 17); font-weight: 400; font-family: &quot;Liberation Serif&quot;, sans-serif; letter-spacing: 0.007px;">[Red] Negative Bz Indicates Geomagnetic Effect</span>
<span class="t" style="left: 746px; top: 315.8px; height: 16px; line-height: 16px; font-size: 10.65px; color: rgb(17, 17, 17); font-weight: 400; font-family: &quot;Liberation Serif&quot;, sans-serif; letter-spacing: 0.002px;">[Blue] Polar Angle (Phi) of the Magnetic Field</span>
<span class="t" style="left: 746px; top: 346.8px; height: 16px; line-height: 16px; font-size: 10.65px; color: rgb(17, 17, 17); font-weight: 400; font-family: &quot;Liberation Serif&quot;, sans-serif; letter-spacing: 0.002px;">[Orange] Avg. Density is 0.1-10 protons</span>
<span class="t" style="left: 746px; top: 377.8px; height: 16px; line-height: 16px; font-size: 10.65px; color: rgb(17, 17, 17); font-weight: 400; font-family: &quot;Liberation Serif&quot;, sans-serif; letter-spacing: 0.007px;">[Purple/Yellow] Avg. Speed is 350-400 km/sec</span>
<span class="t" style="left: 746px; top: 408.8px; height: 16px; line-height: 16px; font-size: 10.65px; color: rgb(17, 17, 17); font-weight: 400; font-family: &quot;Liberation Serif&quot;, sans-serif; letter-spacing: 0.001px;">[Green] Avg. Temp &lt;500,000 K</span>
<span class="t" style="left: 257px; top: 660.8px; height: 16px; line-height: 16px; font-size: 9.35px; color: rgb(17, 17, 17); font-weight: 400; font-family: &quot;Liberation Serif&quot;, sans-serif; letter-spacing: -0.008px;">Space Weather disruptions show as large spikes. Space</span>
<span class="t" style="left: 257px; top: 676.3px; height: 16px; line-height: 16px; font-size: 9.35px; color: rgb(17, 17, 17); font-weight: 400; font-family: &quot;Liberation Serif&quot;, sans-serif; letter-spacing: -0.022px;">Weather calm shows as smooth curves</span>
<span class="t" style="left: 501.5px; top: 624.4px; height: 16px; line-height: 16px; font-size: 9.35px; color: rgb(17, 17, 17); font-weight: 400; font-family: &quot;Liberation Serif&quot;, sans-serif; letter-spacing: 0.002px;">KP Index [0-3] Green - Stable/Calm Magnetosphere. [4]</span>
<span class="t" style="left: 501.5px; top: 639.9px; height: 16px; line-height: 16px; font-size: 9.35px; color: rgb(17, 17, 17); font-weight: 400; font-family: &quot;Liberation Serif&quot;, sans-serif; letter-spacing: -0.006px;">Yellow - Unstable Magnetosphere. [5+] Red - Geomagnetic</span>
<span class="t" style="left: 501.5px; top: 655.4px; height: 16px; line-height: 16px; font-size: 9.35px; color: rgb(17, 17, 17); font-weight: 400; font-family: &quot;Liberation Serif&quot;, sans-serif; letter-spacing: -0.013px;">Storm Conditions</span>
<span class="t" style="left: 746px; top: 481.5px; height: 16px; line-height: 16px; font-size: 9.3px; color: rgb(124, 19, 38); font-weight: 700; font-family: &quot;Liberation Serif&quot;, sans-serif; letter-spacing: 0.023px;">MAGNETOSPHERIC RISK BY KP</span>
<span class="t" style="left: 746px; top: 640.1px; height: 16px; line-height: 16px; font-size: 10.7px; color: rgb(26, 98, 166); font-weight: 400; font-family: &quot;Liberation Serif&quot;, sans-serif; letter-spacing: 0.002px;">Learn More About This Chart</span>
<div class="a" style="left:1207.3px;top:645px;width:29.5px;height:29.5px;background:#9b9b9b"></div>
<svg class="a" style="left:1217px;top:656px" width="11" height="8" viewBox="0 0 11 8"><path d="M1.3 6.3L5.5 2.1 9.7 6.3" stroke="#fff" stroke-width="2" fill="none"></path></svg>
<div class="a" style="left:0;top:34px;width:1257px;height:27.5px;background:#c9ddfb;border-radius:4px 0 0 0;border-top:1.2px solid #e2ecfc;box-sizing:border-box"></div>
<div class="a" style="left:0;top:61px;width:1257px;height:54px;background:#fff"></div>
<div class="a" style="left:13.75px;top:43.65px;width:8.5px;height:8.5px;border-radius:50%;background:#f5524e"></div>
<div class="a" style="left:26.95px;top:43.65px;width:8.5px;height:8.5px;border-radius:50%;background:#f7b733"></div>
<div class="a" style="left:40.35px;top:43.65px;width:8.5px;height:8.5px;border-radius:50%;background:#27c03f"></div>
<svg class="a" style="left:686px;top:39px" width="174" height="23" viewBox="0 0 174 23"><path d="M0 23 C5 23 8 20 8 15 L8 7 C8 3 10.5 0.5 14.5 0.5 L159.5 0.5 C163.5 0.5 166 3 166 7 L166 15 C166 20 169 23 174 23 Z" fill="#fff"></path></svg>
<div class="a" style="left:217.5px;top:43px;width:1px;height:10px;background:#a8c0e8"></div>
<div class="a" style="left:375.5px;top:43px;width:1px;height:10px;background:#a8c0e8"></div>
<div class="a" style="left:534.5px;top:43px;width:1px;height:10px;background:#a8c0e8"></div>
<div class="a" style="left:1011.0px;top:43px;width:1px;height:10px;background:#a8c0e8"></div>
<svg class="a" style="left:66px;top:42.5px" width="11" height="11" viewBox="0 0 11 11"><circle cx="5.5" cy="5.5" r="5.2" fill="#de5833"></circle><circle cx="5.5" cy="5.5" r="4.1" fill="none" stroke="#fff" stroke-width="0.7"></circle><path d="M4.2 2.6C5.6 2.2 6.8 3.2 6.9 4.6L7.2 8.9 5.2 9.3 4.6 5.6C3.6 5 3.4 3.4 4.2 2.6Z" fill="#fff"></path><path d="M6.2 6.3L7.9 5.9 7.9 6.7 6.3 7.1Z" fill="#fdd20a"></path><path d="M5.9 7.6L7.3 8.6 5.7 9.1Z" fill="#65bc46"></path></svg>
<span class="t" style="left: 82.5px; top: 40px; height: 16px; line-height: 16px; font-size: 8.4px; color: rgb(31, 31, 31); font-weight: 400; font-family: &quot;Liberation Sans&quot;, sans-serif; -webkit-text-stroke: 0.18px rgb(31, 31, 31); letter-spacing: 0px;">gmail at DuckDuckGo</span>
<svg class="a" style="left:201px;top:44px" width="8" height="8" viewBox="0 0 8 8"><path d="M1.4 1.4L6.6 6.6M6.6 1.4L1.4 6.6" stroke="#3c4043" stroke-width="1.1" fill="none"></path></svg>
<svg class="a" style="left:224.5px;top:43.5px" width="11" height="9" viewBox="0 0 11 9"><path d="M0.3 8.6V1.4L1.9 0.4V8.6Z" fill="#4285f4"></path><path d="M10.7 8.6V1.4L9.1 0.4V8.6Z" fill="#34a853"></path><path d="M0.3 1.6L1.9 0.4 5.5 3.4 9.1 0.4 10.7 1.6 5.5 5.9Z" fill="#ea4335"></path><path d="M9.1 0.4L10.7 1.4V2.9L9.1 4.2Z" fill="#fbbc04"></path><path d="M1.9 0.4L0.3 1.4V2.9L1.9 4.2Z" fill="#c5221f"></path></svg>
<span class="t" style="left: 241.5px; top: 40px; height: 16px; line-height: 16px; font-size: 8.4px; color: rgb(31, 31, 31); font-weight: 400; font-family: &quot;Liberation Sans&quot;, sans-serif; -webkit-text-stroke: 0.18px rgb(31, 31, 31); letter-spacing: 0.009px;">Join Ali &amp; Gregg TONIGHT f<span style="opacity:.55">o</span><span style="opacity:.25">r</span></span>
<svg class="a" style="left:360px;top:44px" width="8" height="8" viewBox="0 0 8 8"><path d="M1.4 1.4L6.6 6.6M6.6 1.4L1.4 6.6" stroke="#3c4043" stroke-width="1.1" fill="none"></path></svg>
<svg class="a" style="left:384px;top:42.5px" width="11" height="11" viewBox="0 0 11 11"><circle cx="5.5" cy="5.5" r="5.4" fill="#0866ff"></circle><path d="M6.1 10.8V7.1H7.4L7.6 5.6H6.1V4.7C6.1 4.2 6.3 3.9 6.9 3.9H7.7V2.6C7.5 2.6 7 2.5 6.5 2.5C5.3 2.5 4.5 3.2 4.5 4.5V5.6H3.3V7.1H4.5V10.8Z" fill="#fff"></path></svg>
<span class="t" style="left: 400px; top: 40px; height: 16px; line-height: 16px; font-size: 8.4px; color: rgb(31, 31, 31); font-weight: 400; font-family: &quot;Liberation Sans&quot;, sans-serif; -webkit-text-stroke: 0.18px rgb(31, 31, 31); letter-spacing: 0.075px;">Sandy messaged Psychic Al<span style="opacity:.5">l</span><span style="opacity:.2">i</span></span>
<svg class="a" style="left:518.5px;top:44px" width="8" height="8" viewBox="0 0 8 8"><path d="M1.4 1.4L6.6 6.6M6.6 1.4L1.4 6.6" stroke="#3c4043" stroke-width="1.1" fill="none"></path></svg>
<svg class="a" style="left:542px;top:44px" width="12" height="8.5" viewBox="0 0 12 8.5"><rect x="0.2" y="0.2" width="11.6" height="8.1" rx="2.2" fill="#f03"></rect><path d="M4.8 2.4L7.9 4.25 4.8 6.1Z" fill="#fff"></path></svg>
<span class="t" style="left: 558.5px; top: 40px; height: 16px; line-height: 16px; font-size: 8.4px; color: rgb(31, 31, 31); font-weight: 400; font-family: &quot;Liberation Sans&quot;, sans-serif; -webkit-text-stroke: 0.18px rgb(31, 31, 31); letter-spacing: 0.039px;">Greg Gutfeld: Every political<span style="opacity:.3"> s</span></span>
<svg class="a" style="left:677.5px;top:44px" width="8" height="8" viewBox="0 0 8 8"><path d="M1.4 1.4L6.6 6.6M6.6 1.4L1.4 6.6" stroke="#3c4043" stroke-width="1.1" fill="none"></path></svg>
<svg class="a" style="left:701px;top:42.5px" width="11" height="11" viewBox="0 0 11 11"><rect width="11" height="11" rx="1" fill="#15181f"></rect><circle cx="4.6" cy="6" r="3" fill="#2a4f8a"></circle><path d="M1.8 6.8C3 5 5 4.8 7.5 6.2 6.5 8.6 3.2 9.3 1.8 6.8Z" fill="#4a74b8"></path><circle cx="7.6" cy="3.6" r="1.5" fill="#e2452b"></circle><path d="M0 0H11V1.6H0Z" fill="#232a38"></path></svg>
<span class="t" style="left: 717.5px; top: 40px; height: 16px; line-height: 16px; font-size: 8.4px; color: rgb(31, 31, 31); font-weight: 400; font-family: &quot;Liberation Sans&quot;, sans-serif; -webkit-text-stroke: 0.18px rgb(31, 31, 31); letter-spacing: -0.047px;">Space Weather News</span>
<svg class="a" style="left:836px;top:44px" width="8" height="8" viewBox="0 0 8 8"><path d="M1.4 1.4L6.6 6.6M6.6 1.4L1.4 6.6" stroke="#3c4043" stroke-width="1.1" fill="none"></path></svg>
<svg class="a" style="left:859.5px;top:43px" width="11" height="10" viewBox="0 0 11 10"><path d="M0.3 0.6H6.5C9.2 0.6 10.7 2.6 10.7 5C10.7 7.4 9.2 9.4 6.5 9.4H0.3Z" fill="#111"></path><path d="M2.6 3L7.6 5.2 2.6 7.6Z" fill="#fff"></path></svg>
<span class="t" style="left: 876px; top: 40px; height: 16px; line-height: 16px; font-size: 8.4px; color: rgb(31, 31, 31); font-weight: 400; font-family: &quot;Liberation Sans&quot;, sans-serif; -webkit-text-stroke: 0.18px rgb(31, 31, 31); letter-spacing: -0.053px;">Schumann Resonance Toda<span style="opacity:.45">y</span></span>
<svg class="a" style="left:994.5px;top:44px" width="8" height="8" viewBox="0 0 8 8"><path d="M1.4 1.4L6.6 6.6M6.6 1.4L1.4 6.6" stroke="#3c4043" stroke-width="1.1" fill="none"></path></svg>
<svg class="a" style="left:1018px;top:43.5px" width="9" height="9" viewBox="0 0 9 9"><path d="M4.5 0.8V8.2M0.8 4.5H8.2" stroke="#3c4043" stroke-width="1.1"></path></svg>
<svg class="a" style="left:10px;top:71.5px" width="10" height="10" viewBox="0 0 10 10"><path d="M9 5H1.6M4.8 1.6L1.4 5 4.8 8.4" stroke="#b0b3b8" stroke-width="1.1" fill="none"></path></svg>
<svg class="a" style="left:33.5px;top:71.5px" width="10" height="10" viewBox="0 0 10 10"><path d="M1 5H8.4M5.2 1.6L8.6 5 5.2 8.4" stroke="#b0b3b8" stroke-width="1.1" fill="none"></path></svg>
<svg class="a" style="left:57px;top:71px" width="11" height="11" viewBox="0 0 11 11"><path d="M9.1 5.6A3.6 3.6 0 1 1 8 2.9" stroke="#474747" stroke-width="1.2" fill="none"></path><path d="M9.6 1V4.2H6.4Z" fill="#474747"></path></svg>
<div class="a" style="left:80.5px;top:65.5px;width:1012px;height:22px;border-radius:11px;background:#e9eef9"></div>
<div class="a" style="left:83.5px;top:68px;width:63px;height:17px;border-radius:8.5px;background:#fff"></div>
<svg class="a" style="left:86.5px;top:71.5px" width="10" height="10" viewBox="0 0 10 10"><path d="M5 1.3L9.2 8.6H0.8Z" stroke="#2b2b2b" stroke-width="0.95" fill="none" stroke-linejoin="round"></path><path d="M5 4V6.2M5 7V7.8" stroke="#2b2b2b" stroke-width="0.9"></path></svg>
<span class="t" style="left: 99.5px; top: 68.5px; height: 16px; line-height: 16px; font-size: 8.7px; color: rgb(32, 33, 36); font-weight: 400; font-family: &quot;Liberation Sans&quot;, sans-serif; -webkit-text-stroke: 0.3px rgb(32, 33, 36); letter-spacing: -0.097px;">Not Secure</span>
<span class="t" style="left: 153.5px; top: 68.5px; height: 16px; line-height: 16px; font-size: 9.9px; color: rgb(32, 33, 36); font-weight: 400; font-family: &quot;Liberation Sans&quot;, sans-serif; -webkit-text-stroke: 0.18px rgb(32, 33, 36); letter-spacing: 0.003px;">spaceweathernews.com</span>
<svg class="a" style="left:1028px;top:70.8px" width="13" height="12" viewBox="0 0 13 12"><path d="M0.9 6C2.2 3.9 4.1 2.9 6.4 2.9C8.7 2.9 10.6 3.9 11.9 6C10.6 8.1 8.7 9.1 6.4 9.1C4.1 9.1 2.2 8.1 0.9 6Z" stroke="#3c4043" stroke-width="1.25" fill="none"></path><circle cx="6.4" cy="6" r="1.6" stroke="#3c4043" stroke-width="1.2" fill="none"></circle><path d="M1.6 1.6L10.6 10.6" stroke="#3c4043" stroke-width="1.3"></path></svg>
<svg class="a" style="left:1050px;top:71.6px" width="12" height="10" viewBox="0 0 12 10"><path d="M1.6 8.6C0.2 5.6 2.2 1.4 6 1.4C9.8 1.4 11.8 5.6 10.4 8.6Z" stroke="#3c4043" stroke-width="1.25" fill="none" stroke-linejoin="round"></path><path d="M5.4 6.6L7.9 3.6" stroke="#3c4043" stroke-width="1.4"></path></svg>
<svg class="a" style="left:1071.6px;top:71px" width="12" height="12" viewBox="0 0 12 12"><path d="M5.8 1.6L7.1 4.5 10.2 4.8 7.8 6.9 8.6 10 5.8 8.3 3 10 3.8 6.9 1.4 4.8 4.5 4.5Z" stroke="#3c4043" stroke-width="1.25" fill="none" stroke-linejoin="round"></path></svg>
<svg class="a" style="left:1105.2px;top:71px" width="11" height="11" viewBox="0 0 11 11"><circle cx="5.5" cy="5.5" r="5.3" fill="#d8182c"></circle><path d="M4.5 9.4C4.7 8.5 5 7.2 5.3 6.2C5.4 5.7 5.3 4.6 5.9 4.5C6.6 4.4 6.4 5.6 6 6.3C6.7 6.9 7.8 6 7.9 4.8C8 3.2 6.9 2.5 5.6 2.5C4.1 2.5 3.1 3.5 3.1 4.7C3.1 5.3 3.3 5.8 3.8 6" stroke="#fff" stroke-width="1.25" fill="none" stroke-linecap="round" stroke-linejoin="round"></path></svg>
<svg class="a" style="left:12px;top:96px" width="10" height="10" viewBox="0 0 10 10"><g stroke="#444746" stroke-width="1" fill="none"><rect x="0.8" y="0.8" width="3" height="3"></rect><rect x="6.2" y="0.8" width="3" height="3"></rect><rect x="0.8" y="6.2" width="3" height="3"></rect><rect x="6.2" y="6.2" width="3" height="3"></rect></g></svg>
<div class="a" style="left:32.5px;top:95px;width:1px;height:12px;background:#c7d5ec"></div>
<svg class="a" style="left:43px;top:95.5px" width="10" height="10" viewBox="0 0 10 10"><path d="M5 0.6L6.3 3.7 9.6 4 7.1 6.1 7.9 9.4 5 7.6 2.1 9.4 2.9 6.1 0.4 4 3.7 3.7Z" fill="#444746"></path></svg>
<span class="t" style="left: 57.5px; top: 93px; height: 16px; line-height: 16px; font-size: 8.4px; color: rgb(60, 64, 67); font-weight: 400; font-family: &quot;Liberation Sans&quot;, sans-serif; -webkit-text-stroke: 0.18px rgb(60, 64, 67); letter-spacing: -0.043px;">Bookmarks</span>
<svg class="a" style="left:110px;top:96px" width="10" height="10" viewBox="0 0 11 11"><circle cx="5.5" cy="5.5" r="4.7" fill="#fff" stroke="#444746" stroke-width="1.15"></circle><path d="M1.6 3.4C2.9 3.3 3.9 3.9 3.6 4.9C3.3 5.8 4.2 6.2 4.9 6.6C5.7 7.1 5.4 8.4 4.9 10C2.7 9.7 0.9 7.8 0.9 5.5C0.9 4.7 1.2 4 1.6 3.4Z M5 1C6.9 0.8 8.9 1.9 9.7 3.6C9.1 4.2 8.6 5 7.7 4.8C6.8 4.6 6.6 3.9 5.8 3.6C5 3.3 4.6 2 5 1Z M10 6.3C9.7 7.6 8.9 8.7 7.8 9.4C7.3 8.6 7.2 7.6 7.9 7C8.5 6.5 9.2 6.2 10 6.3Z" fill="#444746"></path></svg>
<span class="t" style="left: 125px; top: 93px; height: 16px; line-height: 16px; font-size: 8.4px; color: rgb(60, 64, 67); font-weight: 400; font-family: &quot;Liberation Sans&quot;, sans-serif; -webkit-text-stroke: 0.18px rgb(60, 64, 67); letter-spacing: 0.092px;">Settings</span>
<svg class="a" style="left:166px;top:95.5px" width="11" height="11" viewBox="0 0 11 11"><path d="M2 9.2A4.6 4.6 0 1 1 9 9.2" stroke="#555" stroke-width="1" fill="none" stroke-dasharray="1.6 1"></path><path d="M5 9.5L6.6 4.2" stroke="#333" stroke-width="1.3"></path></svg>
<span class="t" style="left: 181.5px; top: 93px; height: 16px; line-height: 16px; font-size: 8.4px; color: rgb(60, 64, 67); font-weight: 400; font-family: &quot;Liberation Sans&quot;, sans-serif; -webkit-text-stroke: 0.18px rgb(60, 64, 67); letter-spacing: -0.124px;">RPKP Practice Exp...</span>
<svg class="a" style="left:269px;top:96px" width="10" height="10" viewBox="0 0 11 11"><circle cx="5.5" cy="5.5" r="4.7" fill="#fff" stroke="#444746" stroke-width="1.15"></circle><path d="M1.6 3.4C2.9 3.3 3.9 3.9 3.6 4.9C3.3 5.8 4.2 6.2 4.9 6.6C5.7 7.1 5.4 8.4 4.9 10C2.7 9.7 0.9 7.8 0.9 5.5C0.9 4.7 1.2 4 1.6 3.4Z M5 1C6.9 0.8 8.9 1.9 9.7 3.6C9.1 4.2 8.6 5 7.7 4.8C6.8 4.6 6.6 3.9 5.8 3.6C5 3.3 4.6 2 5 1Z M10 6.3C9.7 7.6 8.9 8.7 7.8 9.4C7.3 8.6 7.2 7.6 7.9 7C8.5 6.5 9.2 6.2 10 6.3Z" fill="#444746"></path></svg>
<span class="t" style="left: 284px; top: 93px; height: 16px; line-height: 16px; font-size: 8.4px; color: rgb(60, 64, 67); font-weight: 400; font-family: &quot;Liberation Sans&quot;, sans-serif; -webkit-text-stroke: 0.18px rgb(60, 64, 67); letter-spacing: -0.01px;">air elementals</span>
<svg class="a" style="left:347.5px;top:96px" width="11" height="10" viewBox="0 0 11 10"><rect width="11" height="10" fill="#1a1d6e"></rect><path d="M1 5.5C3 3.2 7.5 3 10 5.3 7.8 7.4 3 7.6 1 5.5Z" fill="#9fb6e8"></path><circle cx="5.6" cy="5.4" r="1.5" fill="#10134a"></circle><path d="M0 0H11V2.2H0Z" fill="#2d3191"></path></svg>
<span class="t" style="left: 362.5px; top: 93px; height: 16px; line-height: 16px; font-size: 8.4px; color: rgb(60, 64, 67); font-weight: 400; font-family: &quot;Liberation Sans&quot;, sans-serif; -webkit-text-stroke: 0.18px rgb(60, 64, 67); letter-spacing: -0.058px;">Terence McKenna'...</span>
<svg class="a" style="left:449.5px;top:95.5px" width="11" height="11" viewBox="0 0 11 11"><g stroke="#f08a3c" stroke-width="1.3" stroke-linecap="round"><path d="M5.5 0.8V2.4M5.5 8.6V10.2M0.8 5.5H2.4M8.6 5.5H10.2M2.2 2.2L3.3 3.3M7.7 7.7L8.8 8.8M2.2 8.8L3.3 7.7M7.7 3.3L8.8 2.2"></path></g></svg>
<span class="t" style="left: 465px; top: 93px; height: 16px; line-height: 16px; font-size: 8.4px; color: rgb(60, 64, 67); font-weight: 400; font-family: &quot;Liberation Sans&quot;, sans-serif; -webkit-text-stroke: 0.18px rgb(60, 64, 67); letter-spacing: -0.075px;">Free Daily Horosc...</span>
<svg class="a" style="left:552.5px;top:95.5px" width="11" height="11" viewBox="0 0 11 11"><rect width="11" height="11" rx="1.5" fill="#111"></rect><path d="M2.4 3.2L8.6 7.8V3.2L2.4 7.8Z" stroke="#fff" stroke-width="1" fill="none" stroke-linejoin="round"></path></svg>
<svg class="a" style="left:573.5px;top:96px" width="11" height="10" viewBox="0 0 11 10"><rect width="11" height="10" fill="#8c8f62"></rect><rect y="0" width="11" height="3" fill="#5d6041"></rect><rect x="1.5" y="4" width="8" height="1" fill="#d8dab0"></rect><rect x="1.5" y="6.5" width="8" height="2.5" fill="#6d7048"></rect></svg>
<span class="t" style="left: 589px; top: 93px; height: 16px; line-height: 16px; font-size: 8.4px; color: rgb(60, 64, 67); font-weight: 400; font-family: &quot;Liberation Sans&quot;, sans-serif; -webkit-text-stroke: 0.18px rgb(60, 64, 67); letter-spacing: 0.024px;">The mystery of Lo...</span>
<svg class="a" style="left:677px;top:95.5px" width="11" height="11" viewBox="0 0 11 11"><path d="M1 8.5C2 4.2 5.4 1.6 10 1.4 9.6 5.8 6.5 9.2 2.6 9.8Z" fill="#6a6f73"></path><path d="M1.2 10.2L6.5 4.2" stroke="#fff" stroke-width="0.9"></path><path d="M0.6 10.6L3.4 7.6" stroke="#444" stroke-width="0.9"></path></svg>
<span class="t" style="left: 691.5px; top: 93px; height: 16px; line-height: 16px; font-size: 8.4px; color: rgb(60, 64, 67); font-weight: 400; font-family: &quot;Liberation Sans&quot;, sans-serif; -webkit-text-stroke: 0.18px rgb(60, 64, 67); letter-spacing: -0.077px;">Double Your Fat L...</span>
<svg class="a" style="left:780px;top:95.5px" width="10" height="11" viewBox="0 0 10 11"><path d="M0.4 0.8H9.6L8.2 6.5 5 10.4 1.8 6.5Z" fill="#e23fb0"></path><path d="M6.6 2.2A2.6 2.6 0 1 0 7.4 6.6 3.2 3.2 0 0 1 6.6 2.2Z" fill="#fff"></path><path d="M0.4 0.8H9.6L9.3 2H0.7Z" fill="#7a2fd0"></path></svg>
<span class="t" style="left: 794px; top: 93px; height: 16px; line-height: 16px; font-size: 8.4px; color: rgb(60, 64, 67); font-weight: 400; font-family: &quot;Liberation Sans&quot;, sans-serif; -webkit-text-stroke: 0.18px rgb(60, 64, 67); letter-spacing: 0.009px;">Find the Sign of Yo...</span>
<svg class="a" style="left:881.5px;top:96px" width="10" height="10" viewBox="0 0 11 11"><circle cx="5.5" cy="5.5" r="4.7" fill="#fff" stroke="#444746" stroke-width="1.15"></circle><path d="M1.6 3.4C2.9 3.3 3.9 3.9 3.6 4.9C3.3 5.8 4.2 6.2 4.9 6.6C5.7 7.1 5.4 8.4 4.9 10C2.7 9.7 0.9 7.8 0.9 5.5C0.9 4.7 1.2 4 1.6 3.4Z M5 1C6.9 0.8 8.9 1.9 9.7 3.6C9.1 4.2 8.6 5 7.7 4.8C6.8 4.6 6.6 3.9 5.8 3.6C5 3.3 4.6 2 5 1Z M10 6.3C9.7 7.6 8.9 8.7 7.8 9.4C7.3 8.6 7.2 7.6 7.9 7C8.5 6.5 9.2 6.2 10 6.3Z" fill="#444746"></path></svg>
<span class="t" style="left: 896.5px; top: 93px; height: 16px; line-height: 16px; font-size: 8.4px; color: rgb(60, 64, 67); font-weight: 400; font-family: &quot;Liberation Sans&quot;, sans-serif; -webkit-text-stroke: 0.18px rgb(60, 64, 67); letter-spacing: -0.021px;">Lucky Names usin...</span>
<svg class="a" style="left:984px;top:97.5px" width="12" height="7" viewBox="0 0 12 7"><ellipse cx="6" cy="3.5" rx="5.2" ry="2.3" fill="#b9b9b9"></ellipse><ellipse cx="4.5" cy="3.2" rx="2.4" ry="1.3" fill="#d6d6d6"></ellipse></svg>
<span class="t" style="left: 1000px; top: 93px; height: 16px; line-height: 16px; font-size: 8.4px; color: rgb(60, 64, 67); font-weight: 400; font-family: &quot;Liberation Sans&quot;, sans-serif; -webkit-text-stroke: 0.18px rgb(60, 64, 67); letter-spacing: -0.205px;">X Factors – WEF R...</span>
<svg class="a" style="left:1146.5px;top:97px" width="9" height="8" viewBox="0 0 9 8"><path d="M1 1L4 4 1 7M5 1L8 4 5 7" stroke="#444746" stroke-width="1" fill="none"></path></svg>
<div class="a" style="left:1166px;top:95px;width:1px;height:12px;background:#c7d5ec"></div>
<svg class="a" style="left:1177.5px;top:96.5px" width="11" height="9" viewBox="0 0 11 9"><path d="M0.6 1.4C0.6 0.9 0.9 0.6 1.4 0.6H4L5.2 1.8H9.6C10.1 1.8 10.4 2.1 10.4 2.6V7.6C10.4 8.1 10.1 8.4 9.6 8.4H1.4C0.9 8.4 0.6 8.1 0.6 7.6Z" stroke="#444746" stroke-width="1" fill="none"></path></svg>
<span class="t" style="left: 1194px; top: 93px; height: 16px; line-height: 16px; font-size: 8.4px; color: rgb(60, 64, 67); font-weight: 400; font-family: &quot;Liberation Sans&quot;, sans-serif; -webkit-text-stroke: 0.18px rgb(60, 64, 67); letter-spacing: -0.002px;">All Bookmarks</span>
</div></div>
<svg class="a" style="left:1120px;top:0" width="160" height="88.7" viewBox="0 0 160 88.7">
<defs>
<filter id="b1" x="-10%" y="-10%" width="120%" height="120%"><feGaussianBlur stdDeviation="0.8"></feGaussianBlur></filter>
<filter id="b2" x="-20%" y="-20%" width="140%" height="140%"><feGaussianBlur stdDeviation="2.4"></feGaussianBlur></filter>
<filter id="b4" x="-20%" y="-20%" width="140%" height="140%"><feGaussianBlur stdDeviation="1.4"></feGaussianBlur></filter>
<linearGradient id="bg" x1="0" x2="1" y1="0" y2="0"><stop offset="0" stop-color="#333a2b"></stop><stop offset="0.3" stop-color="#2c3122"></stop><stop offset="0.55" stop-color="#24261a"></stop><stop offset="0.75" stop-color="#3a321c"></stop><stop offset="1" stop-color="#2e2e1c"></stop></linearGradient>
<radialGradient id="face" cx="0.55" cy="0.3" r="0.75"><stop offset="0" stop-color="#ac9ca1"></stop><stop offset="0.55" stop-color="#8e7f84"></stop><stop offset="1" stop-color="#5a4e52"></stop></radialGradient>
<linearGradient id="beard" x1="0" x2="1" y1="0" y2="0"><stop offset="0" stop-color="#5e5e62"></stop><stop offset="0.35" stop-color="#85898f"></stop><stop offset="0.8" stop-color="#8e9299"></stop><stop offset="1" stop-color="#6c7074"></stop></linearGradient>
<clipPath id="cc"><rect x="0" y="0" width="160" height="88.7"></rect></clipPath>
</defs>
<g clip-path="url(#cc)">
<rect width="160" height="89" fill="url(#bg)"></rect>
<g filter="url(#b2)">
<ellipse cx="140" cy="12" rx="20" ry="13" fill="#6e5626" opacity="0.8"></ellipse><ellipse cx="134" cy="8" rx="5" ry="4" fill="#a88a40" opacity="0.6"></ellipse><ellipse cx="150" cy="14" rx="4" ry="5" fill="#9a7a38" opacity="0.55"></ellipse>
<ellipse cx="129" cy="27" rx="8" ry="10" fill="#6e5426" opacity="0.65"></ellipse>
<ellipse cx="146" cy="22" rx="8" ry="5" fill="#a08038" opacity="0.6"></ellipse>
<ellipse cx="76" cy="3" rx="13" ry="4" fill="#5c5a2a" opacity="0.7"></ellipse>
<ellipse cx="8" cy="7" rx="9" ry="6" fill="#56644c" opacity="0.8"></ellipse>
<ellipse cx="24" cy="38" rx="12" ry="28" fill="#3c4834" opacity="0.8"></ellipse>
<ellipse cx="50" cy="44" rx="5" ry="26" fill="#414428" opacity="0.7"></ellipse>
<ellipse cx="34" cy="68" rx="5" ry="7" fill="#6a5a26" opacity="0.55"></ellipse>
<ellipse cx="144" cy="52" rx="24" ry="18" fill="#22301a" opacity="0.95"></ellipse>
<ellipse cx="150" cy="80" rx="22" ry="14" fill="#0a120a" opacity="0.97"></ellipse>
<ellipse cx="150" cy="36" rx="11" ry="5" fill="#34442a" opacity="0.8"></ellipse>
<ellipse cx="128" cy="62" rx="12" ry="10" fill="#1c2a18" opacity="0.9"></ellipse>
</g>
<g filter="url(#b1)">
<path d="M1 -2H4L3.2081442692123034 91H0.20814426921230356Z" fill="#1c2016" opacity="0.8"></path>
<path d="M9 -2H11.5L10.309498102692148 91H7.809498102692148Z" fill="#22261a" opacity="0.7"></path>
<path d="M17 -2H21.5L21.188174727832042 91H16.688174727832042Z" fill="#181c12" opacity="0.88"></path>
<path d="M29 -2H37L35.96491681240723 91H27.964916812407232Z" fill="#14160e" opacity="0.95"></path>
<path d="M44 -2H47.2L45.89954528703877 91H42.69954528703877Z" fill="#1c2016" opacity="0.85"></path>
<path d="M55 -2H57.5L57.204773043455226 91H54.704773043455226Z" fill="#20221a" opacity="0.8"></path>
<path d="M61 -2H63L64.25386512926316 91H62.253865129263154Z" fill="#24241a" opacity="0.6"></path>
<path d="M103 -2H116L116.90135705448742 91H103.90135705448742Z" fill="#12120c" opacity="0.97"></path>
<path d="M121 -2H124.5L125.29548780751631 91H121.79548780751631Z" fill="#18160e" opacity="0.88"></path>
<path d="M131 -2H132.6L131.76578452707093 91H130.16578452707094Z" fill="#241e12" opacity="0.7"></path>
<path d="M139 -2H140.8L140.91004002452445 91H139.11004002452444Z" fill="#241e12" opacity="0.7"></path>
<path d="M152 -2H156.5L155.83004793032435 91H151.33004793032435Z" fill="#18180f" opacity="0.88"></path>
<path d="M29 -2H37L41 70 35 70Z" fill="#111309" opacity="0.92"></path>
</g>
<g filter="url(#b1)">
<path d="M36 92C40 77 46 69 58 64L70 58 84 67 100 67 108 57 124 63C136 69 142 79 146 92Z" fill="#6f7162"></path>
<path d="M66 92L69 68 82 75 100 73 106 66 111 92Z" fill="#857f68" opacity="0.8"></path>
<path d="M66 75C80 77.5 96 77 112 74" stroke="#4a4a3a" stroke-width="1.5" fill="none" opacity="0.65"></path>
<path d="M66 80.5C80 83.0 96 82.5 112 79.5" stroke="#4a4a3a" stroke-width="1.5" fill="none" opacity="0.65"></path>
<path d="M66 86C80 88.5 96 88 112 85" stroke="#4a4a3a" stroke-width="1.5" fill="none" opacity="0.65"></path>
<path d="M102 70L106 92" stroke="#44443a" stroke-width="2" opacity="0.7"></path>
<path d="M40 92C44 80 50 72 60 66L56 92Z" fill="#7c7e6e" opacity="0.6"></path>
<path d="M63 24C63 10 75 5 88 5.5C101 6 109.5 12 109.5 24L111 44C112 50 110 56 106 59L70 61C63 56 60 45 61 35Z" fill="#38322c"></path>
<path d="M64 30C61 40 62 52 68 61L73 57 69 34Z" fill="#2a2622"></path>
<ellipse cx="88" cy="66.5" rx="13" ry="5" fill="#b08a84"></ellipse>
<ellipse cx="84" cy="65" rx="6" ry="3.5" fill="#c89a92" opacity="0.8"></ellipse>
<path d="M69 24C69 12 77 7 88.5 7C100 7 108 12 108 24L108.5 40C108 50 100 56 89 56C78 56 69.5 50 69 40Z" fill="url(#face)"></path>
<ellipse cx="87" cy="14" rx="12" ry="6" fill="#b4a2a7" opacity="0.65"></ellipse>
<path d="M68.5 37C68 50 75 61 89 63.5C102 64 110 56 110.5 40C106 45 100 44 93 43C85 43 76 44 68.5 37Z" fill="url(#beard)"></path>
<ellipse cx="92" cy="54" rx="12" ry="7" fill="#9a9fa6" opacity="0.65"></ellipse>
<path d="M75 24C80 21 86 21.5 90 24" stroke="#3a3030" stroke-width="2.4" fill="none" opacity="0.8"></path>
<path d="M95 23.5C99 21.2 103.5 21.5 106 23.8" stroke="#3a3030" stroke-width="2.4" fill="none" opacity="0.8"></path>
<ellipse cx="83" cy="28" rx="5" ry="2.2" fill="#463a3c" opacity="0.7"></ellipse>
<ellipse cx="100.5" cy="27.5" rx="4" ry="2" fill="#463a3c" opacity="0.7"></ellipse>
<path d="M93 28L95.5 37 91 38.5" stroke="#766466" stroke-width="1.4" fill="none" opacity="0.7"></path>
<path d="M87 44.5C92 43 98 43 102 44.5" stroke="#645658" stroke-width="1.5" fill="none" opacity="0.75"></path>
<ellipse cx="71" cy="32" rx="2.6" ry="11" fill="#463e3a" opacity="0.55"></ellipse>
</g>
<rect x="0" y="77" width="64.2" height="12" fill="#000"></rect>
<text x="0.6" y="86.3" font-size="7.7" font-weight="700" fill="#fff" font-family="Liberation Sans" textLength="62.6" lengthAdjust="spacingAndGlyphs">Phil Christophers</text>
</g></svg>
</body></html>
